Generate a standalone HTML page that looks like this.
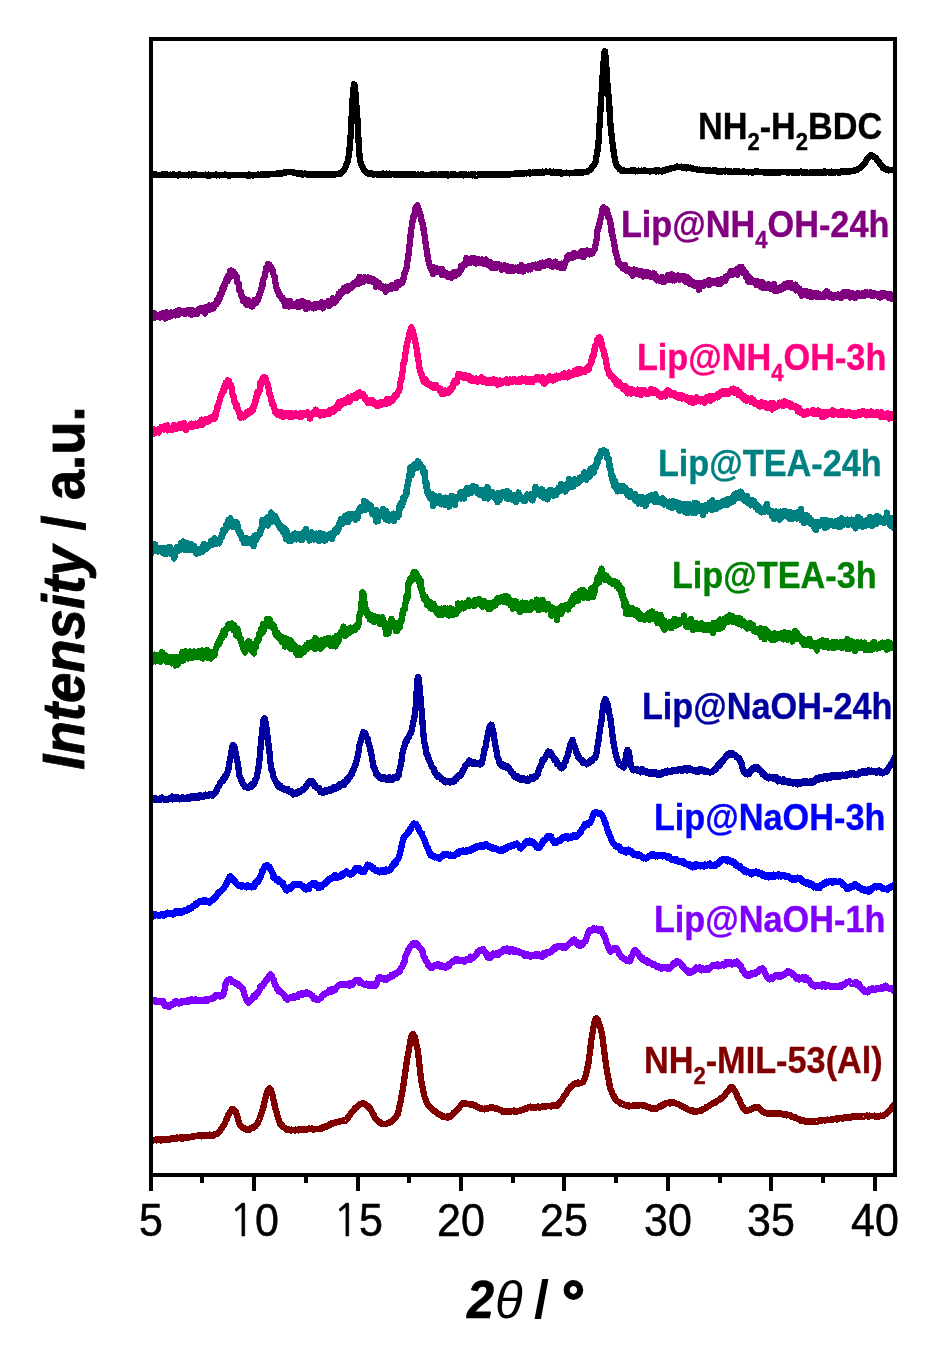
<!DOCTYPE html>
<html><head><meta charset="utf-8"><title>XRD patterns</title>
<style>html,body{margin:0;padding:0;background:#fff;} svg{display:block;}</style>
</head><body>
<svg width="946" height="1353" viewBox="0 0 946 1353">
<rect x="0" y="0" width="946" height="1353" fill="#fff"/>
<defs><clipPath id="pa"><rect x="151" y="39" width="744" height="1136"/></clipPath></defs>
<g clip-path="url(#pa)"><path d="M151.0,174.7 151.5,175.1 152.0,175.0 152.5,174.6 153.0,174.6 153.5,174.6 154.0,174.9 154.5,174.7 155.0,174.9 155.5,174.3 156.0,175.2 156.5,174.8 157.0,175.0 157.5,174.8 158.0,174.7 158.5,175.0 159.0,175.1 159.5,174.8 160.0,174.8 160.5,175.1 161.0,174.7 161.5,174.5 162.0,175.0 162.5,174.7 163.0,174.4 163.5,174.7 164.0,174.8 164.5,174.6 165.0,174.5 165.5,174.9 166.0,175.1 166.5,174.8 167.0,174.6 167.5,174.9 168.0,175.0 168.5,174.7 169.0,175.0 169.5,175.1 170.0,174.8 170.5,174.6 171.0,175.0 171.5,174.9 172.0,175.2 172.5,174.6 173.0,174.8 173.5,174.8 174.0,174.6 174.5,175.0 175.0,175.2 175.5,174.9 176.0,175.4 176.5,175.3 177.0,175.3 177.5,175.2 178.0,175.4 178.5,174.8 179.0,175.3 179.5,175.3 180.0,174.7 180.5,175.3 181.0,175.1 181.5,175.3 182.0,175.0 182.5,175.1 183.0,175.2 183.5,174.9 184.0,175.2 184.5,175.0 185.0,175.1 185.5,174.9 186.0,175.2 186.5,175.1 187.0,174.9 187.5,175.1 188.0,175.2 188.5,175.4 189.0,174.5 189.5,175.1 190.0,175.0 190.5,174.9 191.0,174.7 191.5,175.2 192.0,174.6 192.5,175.1 193.0,175.3 193.5,174.5 194.0,174.9 194.5,174.6 195.0,175.0 195.5,175.3 196.0,175.4 196.5,174.5 197.0,174.8 197.5,175.1 198.0,175.3 198.5,175.0 199.0,174.7 199.5,175.0 200.0,174.9 200.5,174.9 201.0,174.8 201.5,175.1 202.0,175.1 202.5,175.0 203.0,174.9 203.5,174.7 204.0,174.9 204.5,175.3 205.0,175.0 205.5,174.7 206.0,175.3 206.5,175.1 207.0,175.5 207.5,175.0 208.0,174.8 208.5,174.6 209.0,175.3 209.5,175.6 210.0,174.7 210.5,174.8 211.0,175.1 211.5,174.7 212.0,174.9 212.5,174.9 213.0,175.0 213.5,175.2 214.0,175.0 214.5,175.2 215.0,174.9 215.5,175.1 216.0,174.5 216.5,174.7 217.0,175.3 217.5,174.9 218.0,175.2 218.5,175.2 219.0,175.4 219.5,175.3 220.0,175.3 220.5,175.0 221.0,174.9 221.5,174.9 222.0,174.9 222.5,174.8 223.0,174.9 223.5,175.0 224.0,175.1 224.5,175.0 225.0,174.6 225.5,175.0 226.0,175.1 226.5,175.3 227.0,175.2 227.5,174.9 228.0,174.9 228.5,175.5 229.0,175.2 229.5,175.5 230.0,175.6 230.5,174.9 231.0,175.2 231.5,175.2 232.0,175.2 232.5,175.2 233.0,175.2 233.5,175.2 234.0,174.7 234.5,175.1 235.0,174.9 235.5,175.1 236.0,175.0 236.5,175.3 237.0,175.3 237.5,175.2 238.0,175.2 238.5,175.1 239.0,174.9 239.5,175.0 240.0,174.9 240.5,175.1 241.0,175.0 241.5,175.1 242.0,174.7 242.5,175.2 243.0,174.8 243.5,174.8 244.0,174.9 244.5,174.8 245.0,175.0 245.5,174.8 246.0,174.7 246.5,174.8 247.0,175.4 247.5,175.1 248.0,174.8 248.5,175.1 249.0,174.7 249.5,175.6 250.0,174.8 250.5,175.3 251.0,175.4 251.5,174.9 252.0,175.3 252.5,175.5 253.0,175.4 253.5,175.3 254.0,175.4 254.5,175.2 255.0,175.2 255.5,175.1 256.0,175.2 256.5,174.8 257.0,175.2 257.5,174.8 258.0,174.6 258.5,174.9 259.0,175.2 259.5,175.0 260.0,174.7 260.5,174.9 261.0,174.6 261.5,174.7 262.0,174.8 262.5,174.2 263.0,174.8 263.5,174.5 264.0,174.5 264.5,174.3 265.0,174.3 265.5,174.4 266.0,174.8 266.5,175.0 267.0,174.6 267.5,174.8 268.0,174.4 268.5,174.0 269.0,174.4 269.5,174.4 270.0,174.2 270.5,174.3 271.0,174.3 271.5,173.9 272.0,173.7 272.5,174.0 273.0,174.0 273.5,173.9 274.0,174.2 274.5,174.3 275.0,173.7 275.5,174.0 276.0,174.0 276.5,173.9 277.0,173.9 277.5,173.5 278.0,173.8 278.5,174.1 279.0,173.7 279.5,173.3 280.0,173.6 280.5,173.7 281.0,173.4 281.5,173.1 282.0,173.6 282.5,172.8 283.0,173.1 283.5,172.9 284.0,172.5 284.5,173.0 285.0,172.6 285.5,172.2 286.0,172.5 286.5,172.1 287.0,171.7 287.5,171.9 288.0,172.1 288.5,172.1 289.0,172.0 289.5,171.9 290.0,172.0 290.5,171.9 291.0,172.3 291.5,172.1 292.0,172.2 292.5,172.4 293.0,172.1 293.5,172.3 294.0,173.0 294.5,172.9 295.0,172.9 295.5,173.2 296.0,173.1 296.5,173.5 297.0,173.3 297.5,173.7 298.0,173.3 298.5,174.1 299.0,173.7 299.5,173.5 300.0,173.9 300.5,173.8 301.0,174.0 301.5,173.7 302.0,174.1 302.5,174.9 303.0,173.7 303.5,174.1 304.0,173.9 304.5,174.1 305.0,173.6 305.5,173.8 306.0,174.2 306.5,174.1 307.0,174.6 307.5,174.0 308.0,174.3 308.5,175.0 309.0,174.1 309.5,174.1 310.0,174.4 310.5,174.4 311.0,174.7 311.5,174.5 312.0,174.3 312.5,174.6 313.0,175.2 313.5,174.9 314.0,173.8 314.5,174.5 315.0,174.3 315.5,174.7 316.0,174.4 316.5,174.9 317.0,174.7 317.5,174.7 318.0,174.5 318.5,174.4 319.0,174.5 319.5,174.8 320.0,174.6 320.5,174.4 321.0,174.8 321.5,174.6 322.0,174.5 322.5,174.4 323.0,174.4 323.5,174.5 324.0,173.9 324.5,174.9 325.0,174.8 325.5,174.6 326.0,174.9 326.5,174.8 327.0,174.7 327.5,174.0 328.0,174.6 328.5,174.7 329.0,175.0 329.5,175.0 330.0,174.9 330.5,174.3 331.0,174.0 331.5,174.7 332.0,174.5 332.5,174.7 333.0,174.4 333.5,174.5 334.0,174.0 334.5,174.5 335.0,174.2 335.5,174.4 336.0,174.4 336.5,174.2 337.0,174.2 337.5,174.1 338.0,174.2 338.5,174.0 339.0,173.6 339.5,173.4 340.0,173.8 340.5,173.2 341.0,173.2 341.5,172.8 342.0,172.3 342.5,171.9 343.0,171.5 343.5,170.7 344.0,169.9 344.5,168.5 345.0,167.7 345.5,166.9 346.0,166.3 346.5,164.2 347.0,163.5 347.5,161.7 348.0,160.1 348.5,157.2 349.0,153.6 349.5,149.3 350.0,143.7 350.5,137.6 351.0,129.5 351.5,120.0 352.0,110.0 352.5,100.2 353.0,93.3 353.5,88.4 354.0,84.3 354.5,84.9 355.0,88.6 355.5,93.5 356.0,100.7 356.5,106.9 357.0,113.3 357.5,120.5 358.0,130.3 358.5,140.1 359.0,148.0 359.5,155.2 360.0,159.6 360.5,161.5 361.0,163.7 361.5,164.8 362.0,166.3 362.5,167.0 363.0,167.8 363.5,168.9 364.0,169.6 364.5,169.9 365.0,171.1 365.5,172.0 366.0,171.6 366.5,172.8 367.0,172.5 367.5,172.8 368.0,173.1 368.5,172.9 369.0,173.8 369.5,173.8 370.0,173.6 370.5,173.8 371.0,173.6 371.5,173.9 372.0,174.3 372.5,173.6 373.0,174.0 373.5,174.1 374.0,174.4 374.5,174.5 375.0,174.1 375.5,174.0 376.0,174.4 376.5,174.2 377.0,174.2 377.5,174.6 378.0,174.8 378.5,174.4 379.0,174.3 379.5,174.5 380.0,173.9 380.5,174.3 381.0,174.1 381.5,174.9 382.0,174.5 382.5,174.3 383.0,174.2 383.5,173.6 384.0,174.4 384.5,174.6 385.0,174.0 385.5,174.3 386.0,174.3 386.5,173.8 387.0,174.4 387.5,174.5 388.0,174.2 388.5,174.2 389.0,174.4 389.5,173.8 390.0,174.3 390.5,174.5 391.0,174.0 391.5,174.5 392.0,174.2 392.5,173.8 393.0,174.3 393.5,174.1 394.0,174.5 394.5,174.1 395.0,174.7 395.5,174.3 396.0,174.6 396.5,174.4 397.0,174.4 397.5,174.8 398.0,174.6 398.5,174.5 399.0,174.3 399.5,174.9 400.0,174.8 400.5,174.6 401.0,174.7 401.5,174.4 402.0,174.4 402.5,174.5 403.0,174.8 403.5,174.7 404.0,174.5 404.5,174.8 405.0,174.8 405.5,174.7 406.0,174.9 406.5,174.5 407.0,174.6 407.5,174.7 408.0,174.6 408.5,174.8 409.0,174.2 409.5,174.9 410.0,174.4 410.5,174.5 411.0,174.2 411.5,174.7 412.0,174.9 412.5,174.9 413.0,174.8 413.5,174.3 414.0,174.5 414.5,174.6 415.0,174.4 415.5,175.0 416.0,174.7 416.5,174.7 417.0,174.8 417.5,174.5 418.0,174.5 418.5,174.5 419.0,174.8 419.5,174.8 420.0,174.9 420.5,175.0 421.0,174.4 421.5,174.6 422.0,174.8 422.5,174.4 423.0,174.6 423.5,175.0 424.0,175.1 424.5,175.1 425.0,174.8 425.5,174.8 426.0,175.1 426.5,174.7 427.0,174.9 427.5,175.2 428.0,174.7 428.5,174.7 429.0,174.8 429.5,175.0 430.0,174.9 430.5,174.8 431.0,174.9 431.5,174.4 432.0,174.5 432.5,174.8 433.0,174.5 433.5,174.4 434.0,174.4 434.5,174.5 435.0,174.7 435.5,174.4 436.0,174.8 436.5,175.1 437.0,174.7 437.5,175.0 438.0,174.8 438.5,174.5 439.0,174.7 439.5,174.5 440.0,175.0 440.5,174.5 441.0,175.2 441.5,175.0 442.0,174.4 442.5,175.1 443.0,175.3 443.5,174.8 444.0,175.2 444.5,174.5 445.0,175.0 445.5,174.6 446.0,175.1 446.5,174.5 447.0,174.3 447.5,175.0 448.0,175.4 448.5,174.7 449.0,175.0 449.5,174.8 450.0,174.7 450.5,174.9 451.0,175.1 451.5,174.4 452.0,174.9 452.5,174.8 453.0,174.4 453.5,175.1 454.0,175.2 454.5,174.5 455.0,175.2 455.5,174.8 456.0,174.8 456.5,175.2 457.0,174.9 457.5,174.9 458.0,175.2 458.5,175.2 459.0,175.1 459.5,174.5 460.0,174.5 460.5,175.2 461.0,174.7 461.5,174.9 462.0,174.6 462.5,174.8 463.0,174.5 463.5,175.3 464.0,174.6 464.5,174.8 465.0,174.8 465.5,175.1 466.0,174.4 466.5,174.8 467.0,174.7 467.5,174.9 468.0,174.9 468.5,174.6 469.0,174.8 469.5,174.7 470.0,174.9 470.5,174.8 471.0,174.6 471.5,174.8 472.0,174.9 472.5,175.4 473.0,174.7 473.5,175.0 474.0,175.3 474.5,174.4 475.0,174.5 475.5,174.6 476.0,174.9 476.5,175.5 477.0,175.0 477.5,175.1 478.0,174.8 478.5,174.2 479.0,174.2 479.5,175.0 480.0,174.8 480.5,174.4 481.0,175.0 481.5,174.3 482.0,175.0 482.5,175.1 483.0,174.5 483.5,174.4 484.0,174.9 484.5,174.4 485.0,174.9 485.5,174.4 486.0,174.9 486.5,174.7 487.0,174.6 487.5,174.5 488.0,174.7 488.5,174.2 489.0,174.6 489.5,174.5 490.0,174.8 490.5,174.3 491.0,175.0 491.5,174.4 492.0,174.2 492.5,174.8 493.0,174.9 493.5,174.4 494.0,174.2 494.5,174.4 495.0,174.2 495.5,174.3 496.0,174.8 496.5,174.5 497.0,174.4 497.5,174.5 498.0,174.4 498.5,174.6 499.0,174.6 499.5,174.3 500.0,174.4 500.5,175.0 501.0,174.5 501.5,174.4 502.0,175.0 502.5,174.4 503.0,174.2 503.5,174.6 504.0,174.2 504.5,174.3 505.0,174.5 505.5,174.4 506.0,174.2 506.5,174.3 507.0,174.2 507.5,174.7 508.0,174.2 508.5,174.2 509.0,174.8 509.5,174.1 510.0,174.6 510.5,174.5 511.0,174.1 511.5,173.8 512.0,174.2 512.5,174.2 513.0,174.2 513.5,174.0 514.0,174.2 514.5,174.2 515.0,173.6 515.5,174.1 516.0,173.8 516.5,173.6 517.0,173.6 517.5,174.1 518.0,173.9 518.5,173.2 519.0,173.6 519.5,173.5 520.0,173.5 520.5,173.4 521.0,173.2 521.5,173.7 522.0,173.3 522.5,173.4 523.0,173.3 523.5,173.2 524.0,173.6 524.5,173.5 525.0,173.2 525.5,173.1 526.0,173.2 526.5,173.5 527.0,173.3 527.5,173.2 528.0,173.1 528.5,173.0 529.0,173.1 529.5,172.6 530.0,173.4 530.5,172.8 531.0,172.8 531.5,173.2 532.0,172.9 532.5,172.8 533.0,172.7 533.5,172.4 534.0,172.8 534.5,173.0 535.0,172.5 535.5,173.0 536.0,172.4 536.5,172.5 537.0,172.8 537.5,172.6 538.0,172.8 538.5,172.4 539.0,172.3 539.5,172.1 540.0,172.2 540.5,172.2 541.0,172.1 541.5,172.5 542.0,172.2 542.5,171.8 543.0,172.9 543.5,172.0 544.0,171.9 544.5,172.4 545.0,172.4 545.5,171.7 546.0,171.6 546.5,171.7 547.0,172.2 547.5,171.9 548.0,171.7 548.5,171.9 549.0,172.2 549.5,171.6 550.0,171.9 550.5,171.7 551.0,172.6 551.5,172.6 552.0,172.4 552.5,172.2 553.0,172.4 553.5,171.8 554.0,172.4 554.5,172.1 555.0,172.1 555.5,172.3 556.0,172.5 556.5,172.7 557.0,172.8 557.5,172.7 558.0,172.5 558.5,172.9 559.0,172.7 559.5,173.1 560.0,172.6 560.5,172.2 561.0,172.8 561.5,173.5 562.0,173.1 562.5,172.9 563.0,173.2 563.5,173.1 564.0,173.1 564.5,172.8 565.0,173.0 565.5,173.0 566.0,172.8 566.5,172.6 567.0,172.9 567.5,173.1 568.0,173.0 568.5,172.9 569.0,172.9 569.5,173.4 570.0,172.8 570.5,173.0 571.0,173.2 571.5,172.7 572.0,172.7 572.5,172.9 573.0,173.1 573.5,172.7 574.0,172.8 574.5,172.7 575.0,172.4 575.5,173.0 576.0,172.6 576.5,172.2 577.0,172.6 577.5,172.2 578.0,172.4 578.5,172.6 579.0,172.3 579.5,172.8 580.0,172.1 580.5,172.5 581.0,172.6 581.5,172.8 582.0,172.6 582.5,172.4 583.0,172.3 583.5,172.2 584.0,172.4 584.5,171.9 585.0,172.1 585.5,171.9 586.0,171.9 586.5,171.6 587.0,172.0 587.5,171.1 588.0,171.1 588.5,170.8 589.0,170.6 589.5,170.2 590.0,169.9 590.5,169.6 591.0,168.4 591.5,168.2 592.0,167.2 592.5,166.9 593.0,165.9 593.5,165.3 594.0,164.9 594.5,164.4 595.0,163.1 595.5,161.8 596.0,159.6 596.5,156.0 597.0,152.9 597.5,150.7 598.0,147.5 598.5,142.8 599.0,134.0 599.5,125.2 600.0,118.8 600.5,109.7 601.0,100.2 601.5,93.9 602.0,87.5 602.5,78.2 603.0,70.1 603.5,63.1 604.0,56.7 604.5,52.1 605.0,51.3 605.5,55.9 606.0,62.0 606.5,68.4 607.0,76.8 607.5,85.3 608.0,92.1 608.5,95.1 609.0,100.0 609.5,109.1 610.0,117.9 610.5,124.3 611.0,129.5 611.5,134.4 612.0,138.8 612.5,142.9 613.0,146.3 613.5,150.2 614.0,154.2 614.5,157.3 615.0,159.7 615.5,161.7 616.0,163.7 616.5,165.1 617.0,166.1 617.5,166.5 618.0,167.4 618.5,168.0 619.0,168.3 619.5,169.4 620.0,169.6 620.5,169.8 621.0,170.5 621.5,170.5 622.0,170.6 622.5,170.8 623.0,170.8 623.5,170.4 624.0,170.7 624.5,171.1 625.0,170.7 625.5,170.9 626.0,171.0 626.5,171.3 627.0,171.3 627.5,171.2 628.0,170.9 628.5,171.1 629.0,171.0 629.5,170.8 630.0,171.1 630.5,170.9 631.0,170.6 631.5,171.1 632.0,170.7 632.5,170.9 633.0,170.4 633.5,170.8 634.0,170.6 634.5,170.6 635.0,170.4 635.5,171.4 636.0,170.9 636.5,171.0 637.0,171.2 637.5,170.9 638.0,171.1 638.5,170.7 639.0,171.1 639.5,170.9 640.0,171.2 640.5,171.1 641.0,170.7 641.5,170.6 642.0,170.8 642.5,171.3 643.0,171.2 643.5,171.2 644.0,170.6 644.5,170.4 645.0,170.9 645.5,171.0 646.0,170.9 646.5,171.1 647.0,171.0 647.5,170.7 648.0,170.8 648.5,171.0 649.0,171.0 649.5,170.9 650.0,171.5 650.5,170.9 651.0,170.9 651.5,170.7 652.0,170.8 652.5,171.0 653.0,171.0 653.5,170.9 654.0,171.0 654.5,170.9 655.0,170.5 655.5,170.1 656.0,171.5 656.5,171.2 657.0,171.0 657.5,170.6 658.0,170.7 658.5,171.4 659.0,170.3 659.5,171.0 660.0,171.3 660.5,171.1 661.0,171.2 661.5,171.0 662.0,171.5 662.5,170.6 663.0,170.4 663.5,170.7 664.0,170.9 664.5,170.3 665.0,170.5 665.5,169.9 666.0,169.6 666.5,170.1 667.0,170.0 667.5,169.8 668.0,169.1 668.5,168.8 669.0,168.7 669.5,168.7 670.0,168.8 670.5,168.6 671.0,168.0 671.5,168.3 672.0,168.1 672.5,168.0 673.0,167.9 673.5,167.8 674.0,167.9 674.5,167.7 675.0,167.6 675.5,167.3 676.0,167.4 676.5,167.2 677.0,166.6 677.5,167.2 678.0,167.0 678.5,167.2 679.0,166.9 679.5,166.9 680.0,167.0 680.5,167.0 681.0,166.9 681.5,166.6 682.0,167.6 682.5,166.8 683.0,167.1 683.5,167.4 684.0,167.4 684.5,167.5 685.0,167.6 685.5,167.8 686.0,167.6 686.5,168.2 687.0,167.3 687.5,167.6 688.0,167.5 688.5,167.5 689.0,167.7 689.5,168.0 690.0,167.6 690.5,167.6 691.0,168.1 691.5,168.1 692.0,168.6 692.5,168.5 693.0,168.5 693.5,168.5 694.0,168.8 694.5,168.8 695.0,168.7 695.5,169.2 696.0,169.2 696.5,169.4 697.0,169.4 697.5,170.1 698.0,169.9 698.5,170.0 699.0,169.7 699.5,169.6 700.0,169.8 700.5,170.0 701.0,169.8 701.5,169.9 702.0,170.2 702.5,170.1 703.0,169.8 703.5,170.0 704.0,170.0 704.5,170.3 705.0,170.0 705.5,170.3 706.0,170.6 706.5,170.5 707.0,170.3 707.5,170.4 708.0,170.7 708.5,170.8 709.0,170.9 709.5,170.7 710.0,170.4 710.5,171.1 711.0,170.8 711.5,170.9 712.0,170.8 712.5,170.5 713.0,170.7 713.5,170.8 714.0,171.0 714.5,170.8 715.0,170.0 715.5,170.7 716.0,170.9 716.5,171.2 717.0,171.1 717.5,171.6 718.0,171.4 718.5,171.4 719.0,171.4 719.5,170.9 720.0,171.5 720.5,171.4 721.0,171.2 721.5,171.5 722.0,171.4 722.5,171.2 723.0,171.3 723.5,171.2 724.0,171.3 724.5,171.2 725.0,171.4 725.5,170.8 726.0,171.2 726.5,170.8 727.0,171.2 727.5,171.5 728.0,171.4 728.5,171.4 729.0,171.5 729.5,172.0 730.0,171.4 730.5,171.9 731.0,171.4 731.5,171.7 732.0,171.9 732.5,171.7 733.0,172.0 733.5,172.1 734.0,171.6 734.5,171.9 735.0,171.8 735.5,171.3 736.0,171.7 736.5,171.5 737.0,172.0 737.5,171.4 738.0,172.0 738.5,171.4 739.0,172.0 739.5,171.7 740.0,171.7 740.5,171.8 741.0,171.9 741.5,172.0 742.0,172.2 742.5,171.7 743.0,171.6 743.5,171.3 744.0,171.9 744.5,172.2 745.0,172.2 745.5,172.2 746.0,172.1 746.5,172.0 747.0,172.1 747.5,172.3 748.0,171.8 748.5,172.4 749.0,171.8 749.5,172.2 750.0,172.0 750.5,172.1 751.0,171.9 751.5,171.8 752.0,172.0 752.5,171.8 753.0,172.6 753.5,171.9 754.0,171.8 754.5,171.8 755.0,171.6 755.5,171.3 756.0,171.8 756.5,171.9 757.0,171.5 757.5,171.8 758.0,171.5 758.5,171.9 759.0,172.0 759.5,172.0 760.0,172.0 760.5,171.8 761.0,172.2 761.5,171.9 762.0,172.2 762.5,172.3 763.0,172.1 763.5,171.9 764.0,172.4 764.5,172.0 765.0,172.1 765.5,172.0 766.0,172.6 766.5,172.3 767.0,171.8 767.5,172.6 768.0,173.0 768.5,172.9 769.0,172.3 769.5,172.5 770.0,172.6 770.5,172.8 771.0,172.6 771.5,172.3 772.0,172.8 772.5,172.7 773.0,172.2 773.5,172.5 774.0,172.6 774.5,172.5 775.0,172.6 775.5,172.7 776.0,172.6 776.5,172.4 777.0,172.0 777.5,172.5 778.0,172.7 778.5,172.8 779.0,172.2 779.5,172.2 780.0,172.5 780.5,172.5 781.0,172.2 781.5,172.3 782.0,172.0 782.5,172.3 783.0,172.0 783.5,172.2 784.0,172.2 784.5,172.1 785.0,171.8 785.5,172.1 786.0,172.4 786.5,172.3 787.0,172.3 787.5,172.5 788.0,172.6 788.5,172.6 789.0,172.2 789.5,172.4 790.0,172.3 790.5,172.1 791.0,172.0 791.5,172.3 792.0,172.1 792.5,172.8 793.0,172.3 793.5,172.2 794.0,172.2 794.5,172.8 795.0,172.1 795.5,172.3 796.0,172.1 796.5,172.3 797.0,172.3 797.5,172.6 798.0,172.0 798.5,172.3 799.0,172.7 799.5,172.2 800.0,172.3 800.5,172.1 801.0,171.7 801.5,172.3 802.0,172.6 802.5,172.2 803.0,171.9 803.5,172.4 804.0,172.4 804.5,172.6 805.0,172.6 805.5,172.3 806.0,172.5 806.5,172.0 807.0,172.8 807.5,172.6 808.0,172.9 808.5,172.9 809.0,172.6 809.5,172.6 810.0,172.5 810.5,172.2 811.0,172.7 811.5,172.8 812.0,172.4 812.5,172.9 813.0,172.7 813.5,172.8 814.0,172.4 814.5,172.1 815.0,172.7 815.5,172.7 816.0,172.4 816.5,172.3 817.0,172.3 817.5,172.4 818.0,172.2 818.5,171.9 819.0,172.5 819.5,172.0 820.0,172.2 820.5,172.2 821.0,172.4 821.5,171.9 822.0,172.6 822.5,172.5 823.0,172.5 823.5,172.6 824.0,172.1 824.5,171.5 825.0,172.3 825.5,172.6 826.0,172.5 826.5,172.1 827.0,172.2 827.5,172.3 828.0,171.7 828.5,172.0 829.0,172.0 829.5,172.6 830.0,172.0 830.5,172.6 831.0,172.2 831.5,171.8 832.0,172.7 832.5,171.9 833.0,172.3 833.5,172.6 834.0,172.1 834.5,171.9 835.0,172.5 835.5,172.2 836.0,171.9 836.5,171.9 837.0,172.1 837.5,172.4 838.0,172.1 838.5,172.3 839.0,172.6 839.5,172.5 840.0,172.5 840.5,172.4 841.0,171.7 841.5,172.3 842.0,172.1 842.5,171.9 843.0,171.6 843.5,171.4 844.0,171.5 844.5,171.7 845.0,171.3 845.5,171.4 846.0,171.4 846.5,171.7 847.0,171.4 847.5,171.4 848.0,171.7 848.5,171.3 849.0,171.5 849.5,171.1 850.0,171.4 850.5,171.3 851.0,171.3 851.5,171.1 852.0,170.9 852.5,171.0 853.0,170.9 853.5,171.2 854.0,171.0 854.5,170.4 855.0,170.7 855.5,170.3 856.0,170.4 856.5,170.0 857.0,169.6 857.5,170.0 858.0,169.6 858.5,168.9 859.0,168.4 859.5,168.3 860.0,167.7 860.5,167.5 861.0,167.3 861.5,167.0 862.0,166.0 862.5,165.9 863.0,165.3 863.5,164.3 864.0,163.5 864.5,163.5 865.0,162.7 865.5,162.3 866.0,161.2 866.5,160.2 867.0,159.6 867.5,158.3 868.0,158.1 868.5,157.5 869.0,157.6 869.5,156.9 870.0,155.6 870.5,156.4 871.0,155.6 871.5,155.8 872.0,155.5 872.5,155.7 873.0,156.0 873.5,156.2 874.0,156.3 874.5,157.3 875.0,157.5 875.5,157.8 876.0,158.4 876.5,158.6 877.0,159.8 877.5,160.1 878.0,160.8 878.5,161.6 879.0,162.1 879.5,162.8 880.0,163.8 880.5,164.5 881.0,165.4 881.5,165.7 882.0,165.9 882.5,166.9 883.0,167.6 883.5,168.1 884.0,168.4 884.5,168.4 885.0,169.2 885.5,168.9 886.0,169.4 886.5,169.0 887.0,169.8 887.5,169.5 888.0,170.1 888.5,170.4 889.0,170.3 889.5,169.8 890.0,169.8 890.5,169.9 891.0,170.3 891.5,170.2 892.0,170.2 892.5,170.2 893.0,170.3 893.5,170.3 894.0,170.6 894.5,170.2 895.0,170.2" fill="none" stroke="#000000" stroke-width="6.3" stroke-linejoin="round" stroke-linecap="butt" shape-rendering="crispEdges"/>
<path d="M151.0,318.0 151.5,316.6 152.0,316.9 152.5,317.1 153.0,315.6 153.5,317.8 154.0,312.8 154.5,314.2 155.0,317.6 155.5,316.2 156.0,314.7 156.5,316.2 157.0,317.2 157.5,315.0 158.0,316.9 158.5,315.7 159.0,315.8 159.5,315.9 160.0,317.5 160.5,314.4 161.0,315.4 161.5,316.7 162.0,313.9 162.5,313.3 163.0,316.1 163.5,315.2 164.0,314.8 164.5,315.0 165.0,313.3 165.5,318.6 166.0,313.0 166.5,313.7 167.0,312.2 167.5,313.6 168.0,316.3 168.5,314.2 169.0,315.0 169.5,313.5 170.0,316.8 170.5,314.5 171.0,312.6 171.5,315.4 172.0,313.9 172.5,315.3 173.0,314.6 173.5,314.8 174.0,314.6 174.5,313.1 175.0,312.2 175.5,315.5 176.0,313.9 176.5,314.3 177.0,313.0 177.5,310.6 178.0,311.5 178.5,315.0 179.0,311.7 179.5,312.0 180.0,310.3 180.5,311.4 181.0,311.5 181.5,311.5 182.0,311.7 182.5,310.8 183.0,310.8 183.5,311.6 184.0,312.1 184.5,311.4 185.0,314.1 185.5,312.0 186.0,312.0 186.5,310.9 187.0,313.3 187.5,310.6 188.0,309.8 188.5,310.8 189.0,313.1 189.5,310.7 190.0,314.1 190.5,312.3 191.0,310.2 191.5,312.0 192.0,314.8 192.5,311.1 193.0,310.3 193.5,312.8 194.0,313.8 194.5,313.2 195.0,311.2 195.5,311.7 196.0,311.7 196.5,312.7 197.0,313.9 197.5,310.5 198.0,312.2 198.5,309.7 199.0,310.8 199.5,308.5 200.0,308.5 200.5,310.0 201.0,308.1 201.5,310.5 202.0,308.4 202.5,309.3 203.0,309.0 203.5,308.7 204.0,309.3 204.5,310.7 205.0,313.5 205.5,307.5 206.0,309.6 206.5,308.8 207.0,307.7 207.5,309.3 208.0,307.6 208.5,308.6 209.0,310.3 209.5,305.5 210.0,308.5 210.5,308.6 211.0,306.5 211.5,308.3 212.0,307.9 212.5,306.7 213.0,308.7 213.5,305.0 214.0,307.4 214.5,305.7 215.0,303.9 215.5,304.5 216.0,303.5 216.5,304.3 217.0,300.1 217.5,301.0 218.0,299.7 218.5,301.6 219.0,296.9 219.5,298.9 220.0,294.0 220.5,296.0 221.0,294.2 221.5,293.7 222.0,290.9 222.5,287.7 223.0,286.9 223.5,289.5 224.0,286.6 224.5,283.8 225.0,285.0 225.5,281.5 226.0,280.5 226.5,278.9 227.0,281.3 227.5,281.4 228.0,276.4 228.5,277.2 229.0,277.3 229.5,278.1 230.0,271.0 230.5,273.9 231.0,274.0 231.5,270.5 232.0,272.7 232.5,272.2 233.0,273.0 233.5,271.6 234.0,273.6 234.5,273.0 235.0,275.7 235.5,276.1 236.0,276.6 236.5,276.3 237.0,281.8 237.5,282.3 238.0,283.6 238.5,283.3 239.0,285.7 239.5,290.6 240.0,291.3 240.5,291.1 241.0,294.2 241.5,296.0 242.0,296.9 242.5,296.8 243.0,300.7 243.5,300.5 244.0,300.1 244.5,298.8 245.0,300.9 245.5,302.2 246.0,303.9 246.5,302.6 247.0,305.1 247.5,304.0 248.0,302.9 248.5,300.2 249.0,302.5 249.5,302.1 250.0,303.9 250.5,304.5 251.0,305.9 251.5,303.7 252.0,301.9 252.5,306.6 253.0,303.4 253.5,302.3 254.0,302.0 254.5,300.1 255.0,302.5 255.5,301.6 256.0,302.9 256.5,301.7 257.0,300.8 257.5,300.8 258.0,298.1 258.5,297.2 259.0,296.9 259.5,294.0 260.0,293.9 260.5,291.9 261.0,291.4 261.5,288.5 262.0,283.8 262.5,284.6 263.0,284.8 263.5,278.5 264.0,278.1 264.5,277.1 265.0,273.2 265.5,272.2 266.0,271.1 266.5,267.4 267.0,268.1 267.5,267.0 268.0,263.7 268.5,264.9 269.0,266.3 269.5,264.8 270.0,266.3 270.5,267.4 271.0,267.1 271.5,269.9 272.0,270.3 272.5,269.5 273.0,272.7 273.5,274.5 274.0,276.2 274.5,276.1 275.0,279.9 275.5,283.5 276.0,284.2 276.5,287.8 277.0,290.1 277.5,290.0 278.0,292.4 278.5,292.1 279.0,295.0 279.5,294.3 280.0,294.6 280.5,296.2 281.0,297.0 281.5,298.4 282.0,299.3 282.5,297.8 283.0,299.2 283.5,301.2 284.0,301.9 284.5,301.9 285.0,305.9 285.5,304.1 286.0,302.8 286.5,304.1 287.0,305.1 287.5,303.9 288.0,301.0 288.5,303.6 289.0,303.6 289.5,306.6 290.0,301.1 290.5,305.9 291.0,303.6 291.5,305.2 292.0,303.6 292.5,304.4 293.0,305.9 293.5,304.5 294.0,306.0 294.5,304.5 295.0,304.1 295.5,304.5 296.0,304.1 296.5,304.6 297.0,306.7 297.5,303.1 298.0,302.4 298.5,304.6 299.0,307.0 299.5,306.0 300.0,306.4 300.5,306.3 301.0,303.5 301.5,304.7 302.0,300.9 302.5,303.9 303.0,305.7 303.5,302.8 304.0,302.2 304.5,303.4 305.0,305.7 305.5,307.2 306.0,309.3 306.5,307.8 307.0,303.8 307.5,302.8 308.0,306.3 308.5,307.7 309.0,304.0 309.5,305.6 310.0,305.7 310.5,306.3 311.0,306.0 311.5,306.9 312.0,307.6 312.5,306.1 313.0,306.9 313.5,308.5 314.0,304.2 314.5,304.0 315.0,306.1 315.5,307.9 316.0,305.4 316.5,306.7 317.0,304.6 317.5,306.3 318.0,304.1 318.5,305.9 319.0,305.5 319.5,305.5 320.0,306.9 320.5,306.4 321.0,304.0 321.5,306.0 322.0,302.3 322.5,306.0 323.0,308.4 323.5,305.2 324.0,305.0 324.5,304.3 325.0,305.2 325.5,303.3 326.0,304.8 326.5,303.4 327.0,303.1 327.5,303.8 328.0,303.5 328.5,301.0 329.0,306.3 329.5,303.5 330.0,300.8 330.5,304.6 331.0,302.9 331.5,303.1 332.0,303.7 332.5,301.2 333.0,298.2 333.5,302.0 334.0,302.2 334.5,303.1 335.0,300.4 335.5,300.7 336.0,301.1 336.5,299.3 337.0,298.5 337.5,298.2 338.0,295.4 338.5,298.0 339.0,293.5 339.5,294.0 340.0,292.8 340.5,291.7 341.0,293.0 341.5,293.3 342.0,293.5 342.5,291.9 343.0,290.2 343.5,291.7 344.0,288.2 344.5,290.0 345.0,290.4 345.5,290.2 346.0,287.6 346.5,286.9 347.0,291.0 347.5,287.8 348.0,285.9 348.5,286.3 349.0,287.7 349.5,289.1 350.0,287.2 350.5,288.5 351.0,286.8 351.5,286.8 352.0,287.2 352.5,284.9 353.0,285.4 353.5,284.1 354.0,283.3 354.5,284.7 355.0,282.3 355.5,283.2 356.0,281.6 356.5,282.3 357.0,281.4 357.5,283.5 358.0,281.8 358.5,281.6 359.0,283.7 359.5,277.1 360.0,279.4 360.5,277.0 361.0,280.6 361.5,281.0 362.0,281.0 362.5,280.3 363.0,278.4 363.5,281.9 364.0,279.6 364.5,278.6 365.0,277.3 365.5,279.3 366.0,277.9 366.5,278.0 367.0,278.9 367.5,279.0 368.0,277.6 368.5,280.7 369.0,277.7 369.5,277.8 370.0,280.0 370.5,280.0 371.0,280.2 371.5,279.8 372.0,280.7 372.5,280.1 373.0,278.8 373.5,282.4 374.0,280.3 374.5,281.6 375.0,283.3 375.5,282.6 376.0,286.7 376.5,281.2 377.0,282.4 377.5,283.8 378.0,285.9 378.5,284.1 379.0,282.8 379.5,286.8 380.0,284.3 380.5,285.7 381.0,287.6 381.5,285.8 382.0,286.5 382.5,288.2 383.0,287.6 383.5,288.6 384.0,287.1 384.5,288.5 385.0,287.3 385.5,286.8 386.0,291.6 386.5,289.8 387.0,290.5 387.5,287.8 388.0,289.0 388.5,288.6 389.0,286.7 389.5,289.3 390.0,287.3 390.5,287.7 391.0,285.6 391.5,288.9 392.0,288.4 392.5,287.6 393.0,285.6 393.5,285.9 394.0,288.2 394.5,285.9 395.0,286.4 395.5,286.1 396.0,284.2 396.5,287.7 397.0,282.5 397.5,285.4 398.0,284.7 398.5,282.3 399.0,284.7 399.5,284.6 400.0,283.5 400.5,281.8 401.0,283.1 401.5,283.4 402.0,281.3 402.5,282.4 403.0,280.0 403.5,278.4 404.0,277.7 404.5,273.1 405.0,271.4 405.5,270.9 406.0,268.7 406.5,267.8 407.0,265.0 407.5,261.1 408.0,258.6 408.5,254.6 409.0,250.4 409.5,245.6 410.0,242.5 410.5,235.8 411.0,231.4 411.5,228.2 412.0,224.3 412.5,222.3 413.0,217.3 413.5,218.5 414.0,215.4 414.5,214.1 415.0,212.6 415.5,207.9 416.0,212.7 416.5,208.6 417.0,208.1 417.5,205.3 418.0,209.0 418.5,209.5 419.0,209.5 419.5,211.8 420.0,214.9 420.5,214.5 421.0,215.7 421.5,221.0 422.0,221.6 422.5,223.2 423.0,228.8 423.5,228.2 424.0,230.9 424.5,235.1 425.0,238.0 425.5,242.7 426.0,246.5 426.5,248.8 427.0,252.3 427.5,255.6 428.0,258.2 428.5,260.9 429.0,263.5 429.5,264.7 430.0,266.9 430.5,267.0 431.0,268.1 431.5,270.4 432.0,266.6 432.5,270.1 433.0,274.2 433.5,267.3 434.0,272.1 434.5,267.6 435.0,270.6 435.5,272.4 436.0,272.3 436.5,269.0 437.0,268.6 437.5,268.5 438.0,271.7 438.5,270.4 439.0,271.2 439.5,271.7 440.0,272.2 440.5,272.6 441.0,272.3 441.5,270.1 442.0,274.7 442.5,269.1 443.0,274.9 443.5,272.6 444.0,273.4 444.5,273.2 445.0,273.7 445.5,274.4 446.0,274.2 446.5,273.3 447.0,276.2 447.5,274.4 448.0,277.2 448.5,275.3 449.0,274.6 449.5,276.3 450.0,277.0 450.5,274.5 451.0,275.4 451.5,277.8 452.0,274.3 452.5,274.5 453.0,275.8 453.5,273.8 454.0,272.0 454.5,273.0 455.0,275.8 455.5,275.9 456.0,275.5 456.5,274.8 457.0,272.1 457.5,274.2 458.0,274.3 458.5,271.1 459.0,272.7 459.5,270.2 460.0,270.2 460.5,269.7 461.0,266.3 461.5,269.7 462.0,265.6 462.5,265.9 463.0,264.6 463.5,265.3 464.0,264.7 464.5,263.7 465.0,265.2 465.5,263.2 466.0,261.8 466.5,258.0 467.0,261.3 467.5,261.0 468.0,259.9 468.5,259.7 469.0,261.5 469.5,261.9 470.0,262.9 470.5,261.7 471.0,259.0 471.5,260.2 472.0,257.8 472.5,260.6 473.0,260.0 473.5,258.6 474.0,259.3 474.5,259.0 475.0,258.5 475.5,261.2 476.0,263.7 476.5,260.6 477.0,261.0 477.5,259.9 478.0,259.3 478.5,263.1 479.0,259.6 479.5,260.9 480.0,260.4 480.5,261.5 481.0,260.8 481.5,261.9 482.0,259.5 482.5,261.3 483.0,263.5 483.5,260.3 484.0,261.0 484.5,264.0 485.0,262.9 485.5,264.0 486.0,259.5 486.5,263.1 487.0,261.3 487.5,261.3 488.0,264.0 488.5,265.3 489.0,261.7 489.5,262.5 490.0,263.4 490.5,264.2 491.0,262.6 491.5,267.8 492.0,265.5 492.5,264.3 493.0,264.2 493.5,268.2 494.0,268.2 494.5,264.4 495.0,265.7 495.5,267.0 496.0,263.7 496.5,264.7 497.0,267.6 497.5,264.8 498.0,265.4 498.5,264.3 499.0,265.3 499.5,267.5 500.0,265.6 500.5,265.0 501.0,266.2 501.5,269.7 502.0,267.6 502.5,266.6 503.0,267.8 503.5,268.3 504.0,267.9 504.5,265.3 505.0,268.4 505.5,267.8 506.0,269.4 506.5,266.5 507.0,270.0 507.5,268.0 508.0,266.4 508.5,270.9 509.0,268.4 509.5,269.8 510.0,269.2 510.5,271.1 511.0,271.2 511.5,271.3 512.0,270.8 512.5,267.5 513.0,267.5 513.5,270.1 514.0,268.5 514.5,270.4 515.0,269.9 515.5,267.6 516.0,268.1 516.5,267.8 517.0,268.0 517.5,268.8 518.0,269.9 518.5,270.7 519.0,267.3 519.5,267.8 520.0,270.7 520.5,269.7 521.0,268.8 521.5,265.1 522.0,267.1 522.5,268.8 523.0,267.8 523.5,271.5 524.0,268.9 524.5,269.2 525.0,267.3 525.5,267.4 526.0,267.9 526.5,267.9 527.0,268.3 527.5,269.0 528.0,268.6 528.5,269.5 529.0,266.0 529.5,267.9 530.0,267.8 530.5,269.5 531.0,266.7 531.5,267.4 532.0,265.6 532.5,267.3 533.0,267.2 533.5,265.7 534.0,265.9 534.5,266.4 535.0,267.1 535.5,264.6 536.0,267.3 536.5,265.4 537.0,268.3 537.5,267.5 538.0,264.6 538.5,264.0 539.0,268.1 539.5,265.3 540.0,265.0 540.5,263.4 541.0,263.7 541.5,265.0 542.0,264.7 542.5,262.6 543.0,265.6 543.5,264.3 544.0,262.7 544.5,265.5 545.0,264.0 545.5,265.4 546.0,263.6 546.5,265.0 547.0,262.2 547.5,265.0 548.0,262.4 548.5,264.7 549.0,260.9 549.5,264.4 550.0,265.5 550.5,265.2 551.0,266.2 551.5,263.0 552.0,266.8 552.5,266.9 553.0,263.0 553.5,263.6 554.0,264.0 554.5,264.9 555.0,265.3 555.5,261.6 556.0,266.0 556.5,264.9 557.0,263.9 557.5,266.7 558.0,265.0 558.5,267.1 559.0,266.4 559.5,265.2 560.0,267.4 560.5,266.9 561.0,265.1 561.5,263.6 562.0,265.1 562.5,266.8 563.0,265.5 563.5,268.3 564.0,265.8 564.5,265.1 565.0,264.5 565.5,261.7 566.0,261.7 566.5,259.9 567.0,256.4 567.5,256.3 568.0,259.1 568.5,256.9 569.0,257.1 569.5,254.9 570.0,255.9 570.5,257.6 571.0,256.5 571.5,255.4 572.0,258.2 572.5,255.8 573.0,255.2 573.5,257.2 574.0,253.0 574.5,256.1 575.0,253.6 575.5,253.9 576.0,253.9 576.5,254.8 577.0,254.6 577.5,254.6 578.0,254.3 578.5,255.8 579.0,256.0 579.5,254.5 580.0,254.4 580.5,252.7 581.0,251.6 581.5,254.0 582.0,253.2 582.5,254.4 583.0,250.7 583.5,257.1 584.0,251.6 584.5,253.5 585.0,254.9 585.5,251.6 586.0,252.7 586.5,250.6 587.0,251.4 587.5,250.5 588.0,253.3 588.5,253.4 589.0,252.3 589.5,254.4 590.0,254.4 590.5,252.2 591.0,251.8 591.5,251.6 592.0,251.2 592.5,253.6 593.0,252.0 593.5,251.1 594.0,250.5 594.5,250.1 595.0,246.7 595.5,245.1 596.0,241.6 596.5,240.4 597.0,236.9 597.5,230.2 598.0,229.0 598.5,227.7 599.0,224.1 599.5,223.9 600.0,221.2 600.5,219.5 601.0,216.5 601.5,215.0 602.0,213.4 602.5,209.0 603.0,208.3 603.5,207.1 604.0,210.3 604.5,208.2 605.0,208.5 605.5,208.7 606.0,208.6 606.5,209.3 607.0,212.8 607.5,212.4 608.0,216.7 608.5,216.4 609.0,218.0 609.5,219.3 610.0,221.2 610.5,223.4 611.0,227.9 611.5,231.9 612.0,230.0 612.5,235.2 613.0,239.0 613.5,239.9 614.0,243.3 614.5,246.3 615.0,245.9 615.5,252.2 616.0,253.0 616.5,254.7 617.0,256.7 617.5,258.7 618.0,263.2 618.5,261.7 619.0,264.0 619.5,263.3 620.0,265.5 620.5,265.4 621.0,266.1 621.5,265.4 622.0,265.9 622.5,268.0 623.0,268.6 623.5,268.5 624.0,267.1 624.5,268.6 625.0,264.8 625.5,269.9 626.0,268.7 626.5,269.3 627.0,270.8 627.5,268.7 628.0,270.9 628.5,269.2 629.0,270.8 629.5,269.7 630.0,270.9 630.5,272.8 631.0,270.1 631.5,270.3 632.0,271.0 632.5,272.1 633.0,275.7 633.5,271.3 634.0,269.4 634.5,271.5 635.0,270.4 635.5,271.9 636.0,272.9 636.5,271.6 637.0,272.1 637.5,270.5 638.0,273.4 638.5,272.2 639.0,274.8 639.5,274.8 640.0,272.2 640.5,272.9 641.0,273.6 641.5,274.7 642.0,271.3 642.5,273.6 643.0,276.4 643.5,273.8 644.0,274.3 644.5,274.1 645.0,272.5 645.5,275.7 646.0,274.8 646.5,274.8 647.0,275.7 647.5,275.9 648.0,272.2 648.5,275.7 649.0,274.3 649.5,275.5 650.0,274.4 650.5,274.3 651.0,277.0 651.5,275.7 652.0,275.5 652.5,275.6 653.0,276.3 653.5,276.3 654.0,273.2 654.5,275.5 655.0,276.6 655.5,278.1 656.0,279.2 656.5,276.2 657.0,280.4 657.5,278.1 658.0,278.8 658.5,277.6 659.0,277.7 659.5,280.7 660.0,278.5 660.5,278.8 661.0,280.6 661.5,281.4 662.0,276.9 662.5,278.6 663.0,278.8 663.5,281.3 664.0,282.2 664.5,278.6 665.0,279.1 665.5,279.8 666.0,280.2 666.5,278.1 667.0,279.8 667.5,277.7 668.0,275.0 668.5,276.9 669.0,279.2 669.5,280.1 670.0,275.9 670.5,276.5 671.0,279.0 671.5,274.3 672.0,279.8 672.5,280.3 673.0,274.6 673.5,279.7 674.0,278.3 674.5,280.4 675.0,278.6 675.5,277.8 676.0,278.1 676.5,279.1 677.0,278.0 677.5,277.6 678.0,275.4 678.5,278.0 679.0,277.3 679.5,279.8 680.0,277.2 680.5,277.1 681.0,276.3 681.5,278.2 682.0,277.0 682.5,276.3 683.0,279.6 683.5,280.0 684.0,276.9 684.5,276.2 685.0,279.4 685.5,276.8 686.0,282.2 686.5,278.3 687.0,280.1 687.5,277.2 688.0,279.3 688.5,281.2 689.0,280.7 689.5,279.7 690.0,284.2 690.5,282.2 691.0,281.2 691.5,281.1 692.0,282.0 692.5,284.7 693.0,282.0 693.5,283.5 694.0,282.6 694.5,285.8 695.0,283.9 695.5,285.5 696.0,285.2 696.5,283.7 697.0,285.6 697.5,286.0 698.0,283.1 698.5,285.8 699.0,289.8 699.5,284.4 700.0,285.7 700.5,282.9 701.0,285.4 701.5,283.9 702.0,285.7 702.5,284.4 703.0,282.7 703.5,285.8 704.0,283.8 704.5,282.5 705.0,283.9 705.5,282.3 706.0,284.1 706.5,283.3 707.0,282.8 707.5,284.1 708.0,281.3 708.5,284.4 709.0,280.0 709.5,285.0 710.0,282.9 710.5,282.1 711.0,281.3 711.5,283.0 712.0,281.8 712.5,281.6 713.0,283.1 713.5,280.9 714.0,281.0 714.5,281.9 715.0,282.7 715.5,280.9 716.0,281.4 716.5,281.3 717.0,282.4 717.5,283.6 718.0,280.3 718.5,281.5 719.0,281.7 719.5,282.6 720.0,283.9 720.5,281.7 721.0,281.9 721.5,283.0 722.0,279.3 722.5,279.7 723.0,279.7 723.5,279.9 724.0,279.8 724.5,278.2 725.0,280.9 725.5,276.9 726.0,277.1 726.5,278.4 727.0,277.4 727.5,275.8 728.0,275.8 728.5,276.0 729.0,274.4 729.5,275.0 730.0,272.5 730.5,273.6 731.0,271.0 731.5,271.9 732.0,271.5 732.5,274.8 733.0,272.2 733.5,273.2 734.0,271.4 734.5,272.3 735.0,272.0 735.5,271.0 736.0,273.2 736.5,269.3 737.0,272.3 737.5,274.8 738.0,269.5 738.5,270.4 739.0,267.8 739.5,269.6 740.0,267.0 740.5,270.2 741.0,268.6 741.5,266.9 742.0,268.0 742.5,268.1 743.0,270.6 743.5,273.0 744.0,272.0 744.5,271.8 745.0,273.1 745.5,275.4 746.0,272.6 746.5,277.8 747.0,278.3 747.5,275.0 748.0,280.8 748.5,277.4 749.0,279.9 749.5,282.3 750.0,278.5 750.5,278.4 751.0,279.6 751.5,279.9 752.0,281.4 752.5,281.0 753.0,281.2 753.5,281.4 754.0,282.0 754.5,281.1 755.0,282.9 755.5,282.5 756.0,281.1 756.5,285.2 757.0,280.8 757.5,283.7 758.0,281.5 758.5,283.1 759.0,283.4 759.5,283.9 760.0,284.8 760.5,281.7 761.0,287.2 761.5,284.0 762.0,282.5 762.5,282.1 763.0,287.8 763.5,287.2 764.0,285.2 764.5,286.7 765.0,287.8 765.5,286.3 766.0,285.8 766.5,286.5 767.0,287.8 767.5,286.7 768.0,284.9 768.5,287.8 769.0,284.2 769.5,285.6 770.0,288.5 770.5,287.1 771.0,287.2 771.5,287.2 772.0,288.7 772.5,287.4 773.0,285.0 773.5,288.4 774.0,283.9 774.5,285.7 775.0,291.1 775.5,290.6 776.0,288.6 776.5,289.3 777.0,289.6 777.5,291.0 778.0,288.4 778.5,288.2 779.0,288.4 779.5,289.3 780.0,289.3 780.5,288.1 781.0,289.5 781.5,286.6 782.0,287.6 782.5,286.4 783.0,285.5 783.5,288.4 784.0,285.8 784.5,284.5 785.0,285.7 785.5,283.9 786.0,285.9 786.5,286.1 787.0,286.2 787.5,283.1 788.0,284.3 788.5,287.1 789.0,284.2 789.5,286.3 790.0,286.8 790.5,282.8 791.0,286.6 791.5,286.2 792.0,286.6 792.5,288.0 793.0,286.5 793.5,286.2 794.0,287.3 794.5,286.3 795.0,287.8 795.5,284.6 796.0,290.4 796.5,287.6 797.0,289.6 797.5,289.7 798.0,289.8 798.5,290.3 799.0,290.7 799.5,288.6 800.0,290.6 800.5,293.4 801.0,290.6 801.5,290.8 802.0,295.6 802.5,294.5 803.0,295.1 803.5,293.0 804.0,293.5 804.5,294.2 805.0,294.0 805.5,293.1 806.0,291.2 806.5,292.3 807.0,291.3 807.5,295.8 808.0,293.2 808.5,293.6 809.0,294.4 809.5,294.2 810.0,295.1 810.5,293.5 811.0,292.3 811.5,297.1 812.0,293.6 812.5,293.9 813.0,293.5 813.5,293.8 814.0,294.6 814.5,295.7 815.0,293.1 815.5,295.1 816.0,293.8 816.5,296.6 817.0,293.3 817.5,295.3 818.0,296.4 818.5,293.6 819.0,295.8 819.5,296.0 820.0,294.7 820.5,295.6 821.0,297.2 821.5,296.1 822.0,295.0 822.5,295.1 823.0,295.8 823.5,296.8 824.0,295.9 824.5,295.6 825.0,296.7 825.5,292.2 826.0,292.3 826.5,291.2 827.0,295.8 827.5,291.5 828.0,295.0 828.5,296.3 829.0,293.6 829.5,294.9 830.0,295.7 830.5,297.3 831.0,294.2 831.5,296.9 832.0,297.4 832.5,296.6 833.0,296.5 833.5,297.9 834.0,296.4 834.5,295.9 835.0,295.3 835.5,296.6 836.0,295.2 836.5,296.4 837.0,295.6 837.5,297.1 838.0,294.4 838.5,295.6 839.0,296.0 839.5,296.1 840.0,297.1 840.5,296.0 841.0,296.6 841.5,298.0 842.0,296.2 842.5,293.4 843.0,292.6 843.5,295.4 844.0,293.7 844.5,294.4 845.0,293.6 845.5,295.6 846.0,295.3 846.5,292.0 847.0,294.0 847.5,293.2 848.0,291.8 848.5,294.7 849.0,293.7 849.5,294.6 850.0,297.6 850.5,296.1 851.0,295.9 851.5,293.8 852.0,292.8 852.5,296.3 853.0,294.2 853.5,294.7 854.0,294.2 854.5,294.9 855.0,298.2 855.5,294.5 856.0,294.6 856.5,295.4 857.0,295.7 857.5,293.8 858.0,293.1 858.5,294.9 859.0,295.5 859.5,294.8 860.0,294.6 860.5,294.7 861.0,295.4 861.5,295.7 862.0,293.4 862.5,294.8 863.0,295.9 863.5,295.0 864.0,293.0 864.5,294.2 865.0,294.5 865.5,295.4 866.0,291.9 866.5,295.0 867.0,293.3 867.5,294.2 868.0,294.9 868.5,292.7 869.0,292.8 869.5,293.9 870.0,295.1 870.5,293.4 871.0,292.3 871.5,293.4 872.0,295.0 872.5,296.2 873.0,293.9 873.5,294.3 874.0,294.6 874.5,294.7 875.0,293.6 875.5,294.4 876.0,295.4 876.5,295.3 877.0,295.2 877.5,293.8 878.0,294.4 878.5,294.2 879.0,296.7 879.5,297.2 880.0,295.7 880.5,297.4 881.0,294.7 881.5,294.7 882.0,293.3 882.5,295.4 883.0,294.4 883.5,295.1 884.0,295.6 884.5,294.6 885.0,293.3 885.5,294.8 886.0,294.8 886.5,295.0 887.0,295.9 887.5,294.7 888.0,294.7 888.5,297.6 889.0,296.7 889.5,295.2 890.0,294.1 890.5,294.8 891.0,296.0 891.5,296.7 892.0,298.9 892.5,295.3 893.0,295.9 893.5,295.2 894.0,295.8 894.5,295.2 895.0,294.3" fill="none" stroke="#800080" stroke-width="6.3" stroke-linejoin="round" stroke-linecap="butt" shape-rendering="crispEdges"/>
<path d="M151.0,429.7 151.5,431.5 152.0,430.8 152.5,430.8 153.0,430.4 153.5,431.6 154.0,429.3 154.5,433.5 155.0,431.1 155.5,432.6 156.0,429.8 156.5,432.1 157.0,431.2 157.5,430.3 158.0,429.6 158.5,429.2 159.0,432.5 159.5,431.6 160.0,430.0 160.5,429.9 161.0,428.5 161.5,426.9 162.0,426.8 162.5,428.2 163.0,428.6 163.5,427.2 164.0,429.6 164.5,429.1 165.0,428.5 165.5,426.0 166.0,427.9 166.5,428.0 167.0,426.4 167.5,425.2 168.0,430.4 168.5,428.7 169.0,427.4 169.5,430.0 170.0,429.4 170.5,428.6 171.0,428.4 171.5,429.2 172.0,430.1 172.5,428.4 173.0,428.1 173.5,429.2 174.0,424.8 174.5,428.6 175.0,427.9 175.5,428.4 176.0,428.0 176.5,428.5 177.0,428.0 177.5,427.6 178.0,427.1 178.5,427.6 179.0,426.0 179.5,427.7 180.0,424.1 180.5,426.4 181.0,426.7 181.5,424.5 182.0,425.7 182.5,428.1 183.0,426.4 183.5,425.7 184.0,423.1 184.5,427.7 185.0,427.5 185.5,428.3 186.0,430.2 186.5,427.5 187.0,427.5 187.5,426.3 188.0,426.8 188.5,426.6 189.0,427.3 189.5,426.7 190.0,424.7 190.5,424.7 191.0,426.9 191.5,423.6 192.0,425.6 192.5,426.6 193.0,425.2 193.5,424.5 194.0,425.9 194.5,424.5 195.0,424.0 195.5,423.7 196.0,425.4 196.5,424.8 197.0,425.9 197.5,423.5 198.0,423.5 198.5,423.3 199.0,424.2 199.5,422.9 200.0,425.0 200.5,424.1 201.0,422.3 201.5,419.6 202.0,421.0 202.5,425.0 203.0,422.9 203.5,423.0 204.0,422.0 204.5,422.8 205.0,419.6 205.5,419.2 206.0,419.5 206.5,421.4 207.0,422.0 207.5,421.4 208.0,420.3 208.5,418.6 209.0,421.0 209.5,419.3 210.0,419.4 210.5,419.1 211.0,418.4 211.5,417.9 212.0,417.8 212.5,416.7 213.0,418.5 213.5,417.8 214.0,419.1 214.5,415.1 215.0,418.5 215.5,415.8 216.0,414.1 216.5,411.3 217.0,409.1 217.5,405.9 218.0,406.8 218.5,403.4 219.0,402.9 219.5,401.3 220.0,398.0 220.5,396.7 221.0,395.0 221.5,395.4 222.0,392.9 222.5,391.8 223.0,391.4 223.5,389.3 224.0,391.0 224.5,386.0 225.0,387.8 225.5,386.9 226.0,382.6 226.5,384.4 227.0,382.9 227.5,383.2 228.0,380.2 228.5,382.3 229.0,381.3 229.5,383.1 230.0,386.6 230.5,386.0 231.0,384.5 231.5,387.2 232.0,389.5 232.5,394.5 233.0,394.6 233.5,395.7 234.0,401.2 234.5,401.7 235.0,403.1 235.5,403.0 236.0,407.1 236.5,406.4 237.0,405.3 237.5,407.6 238.0,409.2 238.5,411.2 239.0,413.4 239.5,412.4 240.0,413.4 240.5,417.7 241.0,415.5 241.5,415.1 242.0,416.1 242.5,414.5 243.0,416.7 243.5,417.2 244.0,415.0 244.5,416.9 245.0,415.0 245.5,415.5 246.0,413.9 246.5,413.5 247.0,412.3 247.5,414.1 248.0,413.1 248.5,412.8 249.0,411.3 249.5,410.9 250.0,411.2 250.5,412.3 251.0,411.6 251.5,409.6 252.0,410.0 252.5,410.9 253.0,407.5 253.5,408.8 254.0,405.3 254.5,405.1 255.0,401.2 255.5,401.9 256.0,397.3 256.5,397.7 257.0,395.5 257.5,391.9 258.0,391.4 258.5,393.5 259.0,391.3 259.5,390.9 260.0,388.0 260.5,382.3 261.0,384.8 261.5,382.2 262.0,380.8 262.5,379.5 263.0,378.0 263.5,377.0 264.0,379.4 264.5,378.3 265.0,377.3 265.5,378.4 266.0,381.4 266.5,382.1 267.0,383.5 267.5,383.5 268.0,386.6 268.5,387.6 269.0,388.6 269.5,394.1 270.0,394.2 270.5,395.6 271.0,396.5 271.5,400.4 272.0,403.8 272.5,403.5 273.0,405.6 273.5,404.4 274.0,407.7 274.5,409.1 275.0,412.0 275.5,411.1 276.0,410.6 276.5,412.4 277.0,412.2 277.5,414.9 278.0,414.1 278.5,414.0 279.0,414.1 279.5,415.2 280.0,413.7 280.5,413.3 281.0,412.2 281.5,416.3 282.0,415.5 282.5,415.7 283.0,414.9 283.5,417.0 284.0,413.5 284.5,416.3 285.0,413.6 285.5,414.1 286.0,413.1 286.5,414.8 287.0,414.3 287.5,415.3 288.0,414.0 288.5,413.0 289.0,415.6 289.5,416.6 290.0,416.0 290.5,415.0 291.0,415.7 291.5,413.0 292.0,414.8 292.5,416.7 293.0,415.8 293.5,414.1 294.0,416.4 294.5,415.1 295.0,416.2 295.5,413.4 296.0,414.6 296.5,415.7 297.0,415.7 297.5,416.1 298.0,415.4 298.5,415.1 299.0,416.0 299.5,416.5 300.0,413.4 300.5,415.0 301.0,415.1 301.5,415.5 302.0,416.5 302.5,413.4 303.0,415.7 303.5,412.7 304.0,413.9 304.5,414.1 305.0,414.4 305.5,413.9 306.0,414.0 306.5,414.3 307.0,414.4 307.5,412.4 308.0,413.1 308.5,414.4 309.0,415.7 309.5,416.3 310.0,418.7 310.5,415.1 311.0,413.8 311.5,414.9 312.0,415.3 312.5,414.3 313.0,412.5 313.5,413.4 314.0,413.2 314.5,411.2 315.0,411.2 315.5,414.1 316.0,409.6 316.5,412.6 317.0,412.0 317.5,414.2 318.0,413.3 318.5,411.5 319.0,414.4 319.5,412.2 320.0,415.6 320.5,415.3 321.0,413.1 321.5,414.2 322.0,413.5 322.5,412.1 323.0,414.5 323.5,413.6 324.0,414.1 324.5,414.2 325.0,414.5 325.5,413.9 326.0,412.2 326.5,412.3 327.0,412.5 327.5,411.7 328.0,411.3 328.5,413.9 329.0,411.9 329.5,413.6 330.0,410.0 330.5,410.8 331.0,410.1 331.5,410.0 332.0,409.9 332.5,409.9 333.0,409.3 333.5,411.9 334.0,410.2 334.5,408.1 335.0,408.0 335.5,409.4 336.0,408.8 336.5,406.9 337.0,408.5 337.5,405.0 338.0,405.8 338.5,408.2 339.0,402.2 339.5,404.9 340.0,406.1 340.5,404.4 341.0,403.2 341.5,402.8 342.0,401.1 342.5,401.8 343.0,403.4 343.5,402.3 344.0,402.8 344.5,402.4 345.0,402.7 345.5,399.9 346.0,401.4 346.5,401.0 347.0,400.7 347.5,399.5 348.0,397.5 348.5,400.7 349.0,400.5 349.5,402.1 350.0,399.7 350.5,400.5 351.0,398.8 351.5,397.3 352.0,398.2 352.5,395.8 353.0,397.5 353.5,396.8 354.0,395.4 354.5,398.2 355.0,397.9 355.5,396.9 356.0,397.1 356.5,397.9 357.0,395.4 357.5,393.5 358.0,393.8 358.5,395.6 359.0,394.8 359.5,392.4 360.0,395.9 360.5,394.4 361.0,396.1 361.5,395.6 362.0,393.8 362.5,394.8 363.0,394.2 363.5,394.6 364.0,396.0 364.5,397.7 365.0,399.5 365.5,397.3 366.0,400.0 366.5,399.8 367.0,400.0 367.5,402.2 368.0,400.6 368.5,403.1 369.0,401.1 369.5,400.5 370.0,402.7 370.5,400.0 371.0,400.5 371.5,402.0 372.0,402.4 372.5,402.3 373.0,400.4 373.5,401.4 374.0,404.1 374.5,404.4 375.0,402.6 375.5,404.4 376.0,404.4 376.5,405.6 377.0,403.3 377.5,406.2 378.0,403.9 378.5,406.0 379.0,405.3 379.5,402.7 380.0,403.5 380.5,404.2 381.0,405.0 381.5,401.9 382.0,402.9 382.5,404.3 383.0,404.1 383.5,402.0 384.0,402.1 384.5,403.7 385.0,401.7 385.5,403.1 386.0,403.8 386.5,402.4 387.0,398.7 387.5,403.4 388.0,403.2 388.5,403.2 389.0,402.2 389.5,398.7 390.0,402.4 390.5,400.8 391.0,401.2 391.5,399.5 392.0,399.0 392.5,398.7 393.0,400.7 393.5,398.5 394.0,397.4 394.5,395.5 395.0,397.3 395.5,396.1 396.0,395.6 396.5,396.0 397.0,394.9 397.5,393.2 398.0,392.6 398.5,391.5 399.0,390.8 399.5,388.9 400.0,385.9 400.5,382.1 401.0,381.5 401.5,378.7 402.0,373.2 402.5,372.1 403.0,368.1 403.5,363.0 404.0,363.0 404.5,361.4 405.0,356.1 405.5,352.9 406.0,352.0 406.5,346.2 407.0,343.5 407.5,341.7 408.0,340.7 408.5,338.6 409.0,334.9 409.5,333.1 410.0,331.7 410.5,329.7 411.0,328.1 411.5,327.5 412.0,330.3 412.5,330.0 413.0,335.4 413.5,334.3 414.0,334.5 414.5,337.8 415.0,340.6 415.5,343.1 416.0,345.5 416.5,347.9 417.0,350.2 417.5,354.6 418.0,360.2 418.5,360.3 419.0,363.8 419.5,368.1 420.0,371.2 420.5,372.4 421.0,374.4 421.5,374.3 422.0,375.4 422.5,377.8 423.0,378.9 423.5,381.2 424.0,382.0 424.5,378.4 425.0,382.5 425.5,381.2 426.0,379.8 426.5,383.5 427.0,383.2 427.5,383.4 428.0,382.6 428.5,383.4 429.0,384.8 429.5,383.5 430.0,385.6 430.5,386.1 431.0,386.0 431.5,386.7 432.0,386.3 432.5,385.0 433.0,385.2 433.5,386.8 434.0,387.9 434.5,386.9 435.0,386.2 435.5,387.2 436.0,384.9 436.5,386.2 437.0,387.4 437.5,388.2 438.0,388.4 438.5,388.9 439.0,388.2 439.5,389.5 440.0,391.0 440.5,388.7 441.0,389.8 441.5,391.2 442.0,393.8 442.5,392.8 443.0,394.0 443.5,393.8 444.0,391.5 444.5,391.9 445.0,390.5 445.5,393.5 446.0,392.9 446.5,392.7 447.0,392.7 447.5,392.3 448.0,391.7 448.5,391.5 449.0,392.4 449.5,389.4 450.0,388.5 450.5,389.3 451.0,390.2 451.5,388.4 452.0,387.1 452.5,387.7 453.0,386.0 453.5,382.7 454.0,383.1 454.5,380.9 455.0,382.5 455.5,381.3 456.0,381.7 456.5,383.0 457.0,378.8 457.5,378.9 458.0,377.8 458.5,374.1 459.0,376.3 459.5,376.0 460.0,377.0 460.5,375.3 461.0,374.6 461.5,377.0 462.0,376.2 462.5,375.1 463.0,375.3 463.5,375.9 464.0,377.4 464.5,378.2 465.0,374.7 465.5,377.9 466.0,376.6 466.5,377.1 467.0,378.0 467.5,375.7 468.0,378.3 468.5,375.7 469.0,377.0 469.5,376.7 470.0,380.2 470.5,380.4 471.0,379.4 471.5,379.3 472.0,378.2 472.5,381.3 473.0,381.0 473.5,380.4 474.0,379.2 474.5,379.0 475.0,379.4 475.5,381.2 476.0,378.3 476.5,379.6 477.0,381.5 477.5,380.4 478.0,381.4 478.5,379.6 479.0,379.5 479.5,380.7 480.0,379.8 480.5,379.4 481.0,378.4 481.5,377.4 482.0,381.5 482.5,379.3 483.0,379.2 483.5,381.6 484.0,379.7 484.5,379.3 485.0,380.6 485.5,381.4 486.0,382.0 486.5,382.3 487.0,382.8 487.5,381.3 488.0,381.8 488.5,381.0 489.0,380.1 489.5,381.3 490.0,381.1 490.5,383.0 491.0,381.4 491.5,379.8 492.0,381.6 492.5,380.7 493.0,383.3 493.5,379.3 494.0,381.0 494.5,381.2 495.0,382.5 495.5,382.4 496.0,380.7 496.5,380.5 497.0,383.1 497.5,384.8 498.0,384.7 498.5,382.3 499.0,383.2 499.5,381.4 500.0,380.5 500.5,383.8 501.0,382.9 501.5,381.4 502.0,381.2 502.5,382.7 503.0,381.8 503.5,380.8 504.0,381.5 504.5,381.0 505.0,380.4 505.5,380.0 506.0,382.1 506.5,380.3 507.0,379.4 507.5,383.3 508.0,382.7 508.5,381.8 509.0,381.2 509.5,381.6 510.0,379.6 510.5,381.4 511.0,381.9 511.5,381.3 512.0,382.1 512.5,380.5 513.0,381.7 513.5,379.4 514.0,381.3 514.5,380.4 515.0,379.5 515.5,380.6 516.0,381.0 516.5,380.1 517.0,382.0 517.5,379.9 518.0,381.9 518.5,381.5 519.0,379.8 519.5,382.3 520.0,378.7 520.5,381.1 521.0,380.4 521.5,381.3 522.0,378.3 522.5,378.8 523.0,379.2 523.5,380.3 524.0,380.4 524.5,380.3 525.0,380.0 525.5,379.5 526.0,378.7 526.5,380.0 527.0,381.3 527.5,382.1 528.0,380.2 528.5,382.3 529.0,379.3 529.5,382.0 530.0,379.6 530.5,381.3 531.0,379.7 531.5,379.6 532.0,380.0 532.5,382.3 533.0,379.4 533.5,380.9 534.0,380.0 534.5,380.0 535.0,379.8 535.5,380.0 536.0,377.5 536.5,378.9 537.0,379.2 537.5,377.9 538.0,379.0 538.5,377.3 539.0,379.5 539.5,377.7 540.0,378.4 540.5,379.9 541.0,380.6 541.5,378.9 542.0,379.3 542.5,381.9 543.0,377.4 543.5,383.2 544.0,383.4 544.5,380.6 545.0,383.5 545.5,382.5 546.0,382.6 546.5,378.9 547.0,381.0 547.5,381.1 548.0,380.5 548.5,380.2 549.0,380.0 549.5,376.3 550.0,379.4 550.5,378.4 551.0,378.9 551.5,378.1 552.0,378.6 552.5,378.8 553.0,380.5 553.5,377.1 554.0,380.2 554.5,377.7 555.0,376.8 555.5,376.0 556.0,378.8 556.5,375.6 557.0,378.6 557.5,377.7 558.0,376.4 558.5,376.1 559.0,377.3 559.5,376.8 560.0,377.3 560.5,376.3 561.0,375.5 561.5,376.7 562.0,374.4 562.5,376.9 563.0,375.8 563.5,374.2 564.0,374.3 564.5,375.1 565.0,373.2 565.5,377.2 566.0,376.7 566.5,374.0 567.0,375.2 567.5,377.5 568.0,375.8 568.5,373.9 569.0,372.4 569.5,372.9 570.0,376.4 570.5,375.1 571.0,372.8 571.5,375.1 572.0,373.4 572.5,372.7 573.0,372.6 573.5,372.3 574.0,374.7 574.5,371.0 575.0,371.4 575.5,373.3 576.0,373.3 576.5,370.0 577.0,373.8 577.5,372.5 578.0,369.1 578.5,373.4 579.0,369.2 579.5,372.1 580.0,369.8 580.5,369.1 581.0,372.6 581.5,372.1 582.0,371.5 582.5,371.9 583.0,371.5 583.5,371.3 584.0,370.2 584.5,372.2 585.0,371.4 585.5,370.8 586.0,370.1 586.5,370.2 587.0,368.2 587.5,369.3 588.0,367.9 588.5,370.1 589.0,366.2 589.5,365.6 590.0,364.8 590.5,364.2 591.0,362.1 591.5,359.8 592.0,360.8 592.5,356.3 593.0,355.1 593.5,356.5 594.0,350.3 594.5,351.3 595.0,349.3 595.5,345.5 596.0,344.7 596.5,344.8 597.0,340.0 597.5,340.1 598.0,340.2 598.5,337.8 599.0,338.1 599.5,337.1 600.0,337.8 600.5,338.8 601.0,340.4 601.5,343.3 602.0,344.3 602.5,348.6 603.0,348.7 603.5,350.3 604.0,354.8 604.5,353.6 605.0,354.7 605.5,358.4 606.0,359.4 606.5,364.1 607.0,367.7 607.5,369.1 608.0,369.6 608.5,371.2 609.0,373.0 609.5,374.7 610.0,373.5 610.5,374.1 611.0,376.7 611.5,376.2 612.0,376.9 612.5,377.7 613.0,376.6 613.5,377.9 614.0,379.9 614.5,378.8 615.0,379.3 615.5,380.4 616.0,381.1 616.5,384.3 617.0,380.5 617.5,382.2 618.0,385.2 618.5,383.1 619.0,384.0 619.5,382.2 620.0,385.8 620.5,386.2 621.0,386.7 621.5,385.9 622.0,387.2 622.5,387.1 623.0,388.8 623.5,388.1 624.0,389.5 624.5,387.2 625.0,388.8 625.5,385.9 626.0,389.6 626.5,391.0 627.0,389.9 627.5,393.4 628.0,389.2 628.5,390.1 629.0,389.5 629.5,390.1 630.0,390.2 630.5,388.9 631.0,389.7 631.5,393.6 632.0,390.8 632.5,392.4 633.0,389.7 633.5,391.3 634.0,392.3 634.5,391.5 635.0,391.2 635.5,391.8 636.0,392.1 636.5,393.3 637.0,393.8 637.5,390.6 638.0,389.7 638.5,392.1 639.0,392.4 639.5,393.3 640.0,393.8 640.5,391.5 641.0,395.0 641.5,392.7 642.0,390.1 642.5,393.5 643.0,392.6 643.5,392.6 644.0,390.1 644.5,391.8 645.0,392.3 645.5,391.9 646.0,392.9 646.5,393.6 647.0,394.0 647.5,393.6 648.0,391.7 648.5,394.1 649.0,392.2 649.5,392.9 650.0,391.5 650.5,390.0 651.0,388.9 651.5,392.1 652.0,391.0 652.5,392.0 653.0,393.2 653.5,390.2 654.0,390.1 654.5,392.8 655.0,393.1 655.5,392.5 656.0,392.4 656.5,391.2 657.0,393.4 657.5,392.8 658.0,394.5 658.5,395.4 659.0,393.7 659.5,395.2 660.0,395.0 660.5,395.8 661.0,396.9 661.5,395.7 662.0,395.7 662.5,395.7 663.0,393.9 663.5,394.2 664.0,394.5 664.5,395.4 665.0,395.2 665.5,396.3 666.0,391.7 666.5,392.9 667.0,390.6 667.5,392.1 668.0,390.6 668.5,394.2 669.0,393.7 669.5,391.3 670.0,393.2 670.5,393.9 671.0,395.3 671.5,394.3 672.0,393.6 672.5,393.5 673.0,394.7 673.5,394.5 674.0,393.7 674.5,393.0 675.0,396.2 675.5,394.2 676.0,395.0 676.5,396.6 677.0,395.8 677.5,397.5 678.0,394.8 678.5,397.4 679.0,394.8 679.5,394.7 680.0,395.5 680.5,397.1 681.0,396.1 681.5,395.3 682.0,398.7 682.5,395.9 683.0,397.1 683.5,397.6 684.0,396.8 684.5,398.0 685.0,398.5 685.5,397.7 686.0,399.5 686.5,397.7 687.0,397.5 687.5,399.5 688.0,398.4 688.5,400.6 689.0,400.4 689.5,400.3 690.0,402.0 690.5,402.2 691.0,397.9 691.5,401.5 692.0,402.1 692.5,402.5 693.0,401.1 693.5,400.2 694.0,401.7 694.5,402.3 695.0,398.5 695.5,399.0 696.0,400.0 696.5,397.2 697.0,399.6 697.5,401.3 698.0,398.7 698.5,400.2 699.0,398.7 699.5,400.3 700.0,400.6 700.5,401.4 701.0,399.7 701.5,401.0 702.0,400.1 702.5,399.0 703.0,401.5 703.5,398.8 704.0,399.8 704.5,402.7 705.0,400.6 705.5,398.4 706.0,399.7 706.5,398.5 707.0,398.9 707.5,397.0 708.0,399.0 708.5,396.5 709.0,398.9 709.5,398.7 710.0,399.2 710.5,400.8 711.0,395.7 711.5,396.3 712.0,396.5 712.5,397.0 713.0,398.9 713.5,397.4 714.0,397.0 714.5,396.3 715.0,396.9 715.5,397.0 716.0,397.2 716.5,395.3 717.0,396.7 717.5,397.2 718.0,396.5 718.5,394.1 719.0,396.3 719.5,395.9 720.0,394.8 720.5,392.4 721.0,391.8 721.5,393.4 722.0,391.8 722.5,391.2 723.0,393.9 723.5,393.8 724.0,393.4 724.5,394.2 725.0,393.6 725.5,390.9 726.0,393.8 726.5,392.4 727.0,392.8 727.5,394.2 728.0,392.7 728.5,394.1 729.0,392.1 729.5,391.5 730.0,391.0 730.5,391.7 731.0,389.6 731.5,391.6 732.0,391.5 732.5,390.9 733.0,388.6 733.5,388.6 734.0,392.3 734.5,390.1 735.0,393.1 735.5,390.5 736.0,391.9 736.5,389.8 737.0,391.0 737.5,391.8 738.0,393.1 738.5,394.9 739.0,394.3 739.5,391.5 740.0,393.8 740.5,394.0 741.0,393.8 741.5,395.8 742.0,397.5 742.5,395.2 743.0,397.7 743.5,398.5 744.0,395.7 744.5,399.7 745.0,400.0 745.5,398.5 746.0,400.7 746.5,399.1 747.0,400.6 747.5,400.2 748.0,398.5 748.5,400.1 749.0,399.8 749.5,399.5 750.0,398.8 750.5,399.4 751.0,399.0 751.5,402.2 752.0,398.4 752.5,401.2 753.0,400.5 753.5,399.9 754.0,402.7 754.5,400.9 755.0,403.8 755.5,402.2 756.0,403.1 756.5,402.7 757.0,403.9 757.5,404.5 758.0,402.9 758.5,403.7 759.0,406.2 759.5,403.3 760.0,406.6 760.5,403.9 761.0,403.8 761.5,402.5 762.0,403.8 762.5,402.7 763.0,404.4 763.5,406.1 764.0,405.2 764.5,404.6 765.0,404.1 765.5,404.6 766.0,403.6 766.5,403.8 767.0,407.9 767.5,405.7 768.0,404.1 768.5,406.1 769.0,407.1 769.5,404.3 770.0,404.9 770.5,403.4 771.0,402.9 771.5,406.8 772.0,409.5 772.5,404.1 773.0,403.1 773.5,407.1 774.0,406.7 774.5,406.0 775.0,407.4 775.5,405.1 776.0,405.9 776.5,406.6 777.0,405.1 777.5,406.1 778.0,405.1 778.5,406.0 779.0,405.5 779.5,402.6 780.0,405.2 780.5,403.1 781.0,403.7 781.5,402.6 782.0,405.7 782.5,404.0 783.0,403.8 783.5,405.8 784.0,405.0 784.5,403.7 785.0,401.2 785.5,404.7 786.0,403.4 786.5,403.3 787.0,404.7 787.5,402.9 788.0,403.6 788.5,404.9 789.0,404.5 789.5,403.1 790.0,405.9 790.5,405.6 791.0,406.8 791.5,404.4 792.0,405.0 792.5,406.3 793.0,405.8 793.5,405.6 794.0,405.7 794.5,405.7 795.0,405.7 795.5,406.1 796.0,408.0 796.5,407.5 797.0,406.7 797.5,409.1 798.0,411.8 798.5,412.0 799.0,408.1 799.5,410.2 800.0,412.7 800.5,412.2 801.0,412.6 801.5,412.6 802.0,413.0 802.5,411.7 803.0,414.6 803.5,411.7 804.0,412.8 804.5,414.8 805.0,414.1 805.5,412.5 806.0,412.4 806.5,411.5 807.0,411.5 807.5,411.8 808.0,413.8 808.5,411.5 809.0,412.8 809.5,412.6 810.0,412.6 810.5,411.8 811.0,413.2 811.5,412.5 812.0,412.5 812.5,411.9 813.0,409.8 813.5,413.6 814.0,413.8 814.5,412.2 815.0,412.7 815.5,413.4 816.0,411.8 816.5,413.9 817.0,413.9 817.5,414.1 818.0,414.2 818.5,410.5 819.0,413.6 819.5,412.3 820.0,414.4 820.5,414.3 821.0,414.1 821.5,413.1 822.0,416.9 822.5,413.4 823.0,412.3 823.5,415.1 824.0,412.1 824.5,416.6 825.0,415.5 825.5,416.0 826.0,415.6 826.5,414.7 827.0,412.3 827.5,413.1 828.0,414.4 828.5,413.1 829.0,413.6 829.5,412.0 830.0,411.7 830.5,412.9 831.0,413.3 831.5,412.3 832.0,410.9 832.5,410.1 833.0,414.9 833.5,410.8 834.0,411.3 834.5,411.6 835.0,413.8 835.5,411.9 836.0,413.7 836.5,413.5 837.0,411.8 837.5,413.6 838.0,412.0 838.5,413.5 839.0,414.8 839.5,413.6 840.0,412.8 840.5,413.5 841.0,413.9 841.5,414.6 842.0,411.2 842.5,411.8 843.0,414.8 843.5,414.0 844.0,414.1 844.5,414.3 845.0,413.8 845.5,413.3 846.0,414.0 846.5,414.7 847.0,414.2 847.5,413.7 848.0,412.3 848.5,413.9 849.0,412.1 849.5,412.7 850.0,413.8 850.5,413.7 851.0,415.0 851.5,414.8 852.0,414.4 852.5,413.4 853.0,413.9 853.5,413.7 854.0,416.3 854.5,414.7 855.0,413.3 855.5,413.0 856.0,415.6 856.5,412.8 857.0,414.3 857.5,413.9 858.0,414.9 858.5,412.2 859.0,413.8 859.5,413.3 860.0,413.9 860.5,414.6 861.0,412.9 861.5,412.5 862.0,414.0 862.5,411.2 863.0,413.4 863.5,412.0 864.0,411.9 864.5,411.6 865.0,411.6 865.5,414.9 866.0,415.1 866.5,414.1 867.0,415.3 867.5,414.0 868.0,413.2 868.5,412.4 869.0,414.7 869.5,414.6 870.0,415.1 870.5,412.3 871.0,412.9 871.5,411.5 872.0,414.6 872.5,414.1 873.0,413.8 873.5,413.1 874.0,413.0 874.5,412.8 875.0,414.7 875.5,412.6 876.0,414.7 876.5,414.1 877.0,412.6 877.5,412.2 878.0,413.3 878.5,414.4 879.0,413.0 879.5,415.6 880.0,416.4 880.5,415.7 881.0,412.9 881.5,412.1 882.0,416.3 882.5,417.1 883.0,414.6 883.5,415.7 884.0,414.7 884.5,414.1 885.0,416.2 885.5,414.2 886.0,416.0 886.5,417.1 887.0,414.7 887.5,417.4 888.0,413.3 888.5,416.3 889.0,415.2 889.5,418.6 890.0,415.5 890.5,414.6 891.0,417.8 891.5,413.9 892.0,416.6 892.5,415.2 893.0,418.1 893.5,416.3 894.0,417.6 894.5,416.6 895.0,415.3" fill="none" stroke="#FF0080" stroke-width="6.3" stroke-linejoin="round" stroke-linecap="butt" shape-rendering="crispEdges"/>
<path d="M151.0,549.9 151.5,553.8 152.0,548.6 152.5,551.3 153.0,551.0 153.5,546.4 154.0,546.2 154.5,549.1 155.0,544.2 155.5,548.9 156.0,549.3 156.5,549.6 157.0,549.5 157.5,551.4 158.0,547.7 158.5,551.5 159.0,549.7 159.5,549.9 160.0,548.7 160.5,551.4 161.0,547.9 161.5,551.4 162.0,552.5 162.5,548.7 163.0,548.2 163.5,548.5 164.0,550.1 164.5,550.9 165.0,551.9 165.5,554.2 166.0,553.6 166.5,550.6 167.0,549.3 167.5,547.7 168.0,552.5 168.5,552.2 169.0,550.8 169.5,551.5 170.0,552.1 170.5,547.1 171.0,553.1 171.5,554.3 172.0,553.6 172.5,551.8 173.0,554.4 173.5,555.5 174.0,558.5 174.5,556.6 175.0,555.0 175.5,552.9 176.0,549.2 176.5,550.2 177.0,547.2 177.5,549.2 178.0,551.1 178.5,550.5 179.0,549.9 179.5,547.9 180.0,549.9 180.5,546.9 181.0,543.0 181.5,547.6 182.0,547.2 182.5,543.1 183.0,545.7 183.5,541.4 184.0,545.7 184.5,549.5 185.0,545.3 185.5,549.7 186.0,547.3 186.5,545.2 187.0,543.0 187.5,548.7 188.0,548.6 188.5,544.0 189.0,546.5 189.5,550.0 190.0,546.1 190.5,548.8 191.0,543.8 191.5,546.4 192.0,550.3 192.5,546.3 193.0,546.0 193.5,546.4 194.0,548.9 194.5,546.4 195.0,549.8 195.5,551.4 196.0,553.6 196.5,549.3 197.0,553.7 197.5,551.3 198.0,549.4 198.5,550.9 199.0,552.9 199.5,552.6 200.0,550.8 200.5,548.6 201.0,550.4 201.5,548.8 202.0,548.4 202.5,548.3 203.0,551.5 203.5,544.5 204.0,546.8 204.5,544.3 205.0,548.4 205.5,548.7 206.0,549.0 206.5,545.1 207.0,545.8 207.5,547.3 208.0,545.8 208.5,546.0 209.0,545.6 209.5,545.6 210.0,544.5 210.5,545.5 211.0,540.9 211.5,542.8 212.0,540.3 212.5,542.6 213.0,540.7 213.5,543.0 214.0,544.3 214.5,538.4 215.0,539.3 215.5,541.7 216.0,544.3 216.5,543.0 217.0,542.5 217.5,541.7 218.0,541.0 218.5,543.0 219.0,543.3 219.5,542.5 220.0,540.6 220.5,537.8 221.0,538.3 221.5,537.8 222.0,534.3 222.5,535.8 223.0,530.1 223.5,531.1 224.0,531.4 224.5,531.5 225.0,529.3 225.5,530.6 226.0,525.7 226.5,524.5 227.0,527.9 227.5,522.8 228.0,523.7 228.5,519.6 229.0,525.5 229.5,524.2 230.0,520.6 230.5,518.2 231.0,522.5 231.5,522.6 232.0,524.7 232.5,526.6 233.0,523.4 233.5,522.8 234.0,523.3 234.5,523.6 235.0,521.8 235.5,523.2 236.0,525.5 236.5,522.4 237.0,523.5 237.5,529.5 238.0,526.0 238.5,530.2 239.0,532.0 239.5,531.0 240.0,534.3 240.5,533.6 241.0,533.6 241.5,536.7 242.0,538.4 242.5,539.6 243.0,540.2 243.5,539.6 244.0,542.8 244.5,539.9 245.0,539.3 245.5,542.1 246.0,537.7 246.5,539.8 247.0,543.0 247.5,539.9 248.0,543.0 248.5,539.4 249.0,538.9 249.5,539.8 250.0,539.1 250.5,539.6 251.0,539.4 251.5,542.0 252.0,540.9 252.5,539.3 253.0,537.7 253.5,546.1 254.0,538.2 254.5,541.5 255.0,535.5 255.5,536.3 256.0,540.5 256.5,535.3 257.0,535.3 257.5,537.2 258.0,535.1 258.5,535.1 259.0,534.8 259.5,534.9 260.0,531.7 260.5,530.1 261.0,530.7 261.5,529.3 262.0,524.1 262.5,519.8 263.0,520.9 263.5,524.9 264.0,521.0 264.5,520.1 265.0,520.3 265.5,524.5 266.0,520.9 266.5,519.6 267.0,518.6 267.5,517.3 268.0,525.5 268.5,518.6 269.0,518.5 269.5,517.0 270.0,519.6 270.5,514.7 271.0,512.4 271.5,515.2 272.0,517.2 272.5,521.6 273.0,516.5 273.5,515.0 274.0,516.6 274.5,515.6 275.0,516.0 275.5,518.5 276.0,519.7 276.5,518.4 277.0,523.3 277.5,521.7 278.0,523.1 278.5,522.7 279.0,525.6 279.5,526.5 280.0,527.8 280.5,525.1 281.0,528.7 281.5,526.4 282.0,528.4 282.5,530.3 283.0,532.6 283.5,528.9 284.0,528.2 284.5,531.7 285.0,534.9 285.5,532.2 286.0,539.1 286.5,530.4 287.0,538.6 287.5,538.6 288.0,539.1 288.5,535.3 289.0,540.6 289.5,540.5 290.0,540.9 290.5,537.7 291.0,537.7 291.5,541.0 292.0,538.8 292.5,537.0 293.0,535.8 293.5,538.0 294.0,534.2 294.5,538.3 295.0,537.3 295.5,533.4 296.0,537.9 296.5,539.5 297.0,537.5 297.5,534.0 298.0,535.7 298.5,538.9 299.0,534.2 299.5,536.2 300.0,539.5 300.5,536.2 301.0,535.4 301.5,538.3 302.0,539.9 302.5,537.0 303.0,533.0 303.5,532.1 304.0,534.9 304.5,531.2 305.0,534.8 305.5,536.8 306.0,528.7 306.5,534.0 307.0,535.0 307.5,533.1 308.0,535.2 308.5,535.5 309.0,536.8 309.5,540.6 310.0,535.4 310.5,532.9 311.0,532.8 311.5,532.5 312.0,537.0 312.5,536.4 313.0,536.9 313.5,536.4 314.0,539.7 314.5,538.7 315.0,538.6 315.5,534.9 316.0,535.7 316.5,533.5 317.0,535.0 317.5,536.6 318.0,533.7 318.5,535.0 319.0,540.9 319.5,536.0 320.0,533.1 320.5,533.7 321.0,536.3 321.5,538.5 322.0,536.4 322.5,538.6 323.0,537.4 323.5,534.3 324.0,539.0 324.5,535.7 325.0,540.8 325.5,535.3 326.0,536.1 326.5,535.1 327.0,535.5 327.5,536.8 328.0,535.1 328.5,537.8 329.0,535.8 329.5,538.0 330.0,534.4 330.5,536.8 331.0,536.5 331.5,533.4 332.0,539.3 332.5,536.9 333.0,534.7 333.5,533.0 334.0,533.1 334.5,532.6 335.0,533.2 335.5,529.4 336.0,531.0 336.5,528.3 337.0,531.9 337.5,528.5 338.0,529.0 338.5,529.2 339.0,523.9 339.5,526.4 340.0,522.2 340.5,522.5 341.0,518.9 341.5,521.1 342.0,524.0 342.5,521.9 343.0,519.8 343.5,520.4 344.0,518.5 344.5,518.3 345.0,516.2 345.5,521.4 346.0,521.0 346.5,518.0 347.0,515.0 347.5,517.2 348.0,522.0 348.5,514.5 349.0,516.3 349.5,516.3 350.0,519.1 350.5,514.5 351.0,517.8 351.5,515.3 352.0,516.2 352.5,514.1 353.0,517.7 353.5,515.2 354.0,514.6 354.5,518.0 355.0,515.9 355.5,519.8 356.0,515.0 356.5,513.7 357.0,513.2 357.5,518.4 358.0,514.5 358.5,510.5 359.0,511.2 359.5,508.8 360.0,510.8 360.5,507.7 361.0,507.1 361.5,508.8 362.0,510.4 362.5,508.9 363.0,508.3 363.5,506.5 364.0,500.8 364.5,505.6 365.0,505.4 365.5,507.1 366.0,509.8 366.5,507.8 367.0,502.5 367.5,506.8 368.0,506.6 368.5,509.2 369.0,508.0 369.5,504.4 370.0,507.2 370.5,509.1 371.0,505.8 371.5,510.6 372.0,510.8 372.5,514.3 373.0,512.2 373.5,511.5 374.0,513.1 374.5,513.9 375.0,516.4 375.5,512.5 376.0,510.0 376.5,521.5 377.0,517.3 377.5,515.8 378.0,521.1 378.5,513.0 379.0,513.4 379.5,513.8 380.0,515.3 380.5,512.7 381.0,515.0 381.5,512.1 382.0,515.5 382.5,513.5 383.0,508.8 383.5,512.5 384.0,510.3 384.5,512.8 385.0,513.5 385.5,519.0 386.0,513.9 386.5,511.3 387.0,515.6 387.5,513.3 388.0,520.4 388.5,518.3 389.0,520.6 389.5,516.6 390.0,515.4 390.5,518.7 391.0,515.1 391.5,516.2 392.0,516.7 392.5,518.1 393.0,514.9 393.5,513.6 394.0,521.1 394.5,516.3 395.0,516.7 395.5,517.8 396.0,516.8 396.5,513.6 397.0,513.3 397.5,517.1 398.0,515.5 398.5,513.6 399.0,514.8 399.5,506.0 400.0,509.6 400.5,507.7 401.0,502.9 401.5,506.9 402.0,506.3 402.5,504.2 403.0,498.2 403.5,500.3 404.0,499.7 404.5,497.2 405.0,496.7 405.5,495.4 406.0,495.4 406.5,490.3 407.0,493.1 407.5,485.0 408.0,482.5 408.5,481.1 409.0,476.9 409.5,474.3 410.0,476.2 410.5,467.5 411.0,467.6 411.5,475.6 412.0,471.8 412.5,470.7 413.0,469.5 413.5,468.8 414.0,465.4 414.5,466.3 415.0,464.0 415.5,468.4 416.0,466.7 416.5,465.4 417.0,465.3 417.5,463.8 418.0,461.2 418.5,467.4 419.0,464.8 419.5,462.9 420.0,464.8 420.5,466.8 421.0,467.2 421.5,466.8 422.0,468.2 422.5,467.0 423.0,472.0 423.5,472.6 424.0,474.3 424.5,471.0 425.0,478.3 425.5,482.2 426.0,486.6 426.5,482.7 427.0,486.7 427.5,492.7 428.0,490.9 428.5,494.8 429.0,494.6 429.5,497.5 430.0,495.0 430.5,494.5 431.0,498.6 431.5,497.3 432.0,495.8 432.5,494.4 433.0,506.3 433.5,498.8 434.0,499.3 434.5,495.6 435.0,497.9 435.5,500.0 436.0,501.1 436.5,502.2 437.0,498.7 437.5,501.4 438.0,502.9 438.5,499.2 439.0,500.2 439.5,496.3 440.0,498.6 440.5,497.4 441.0,502.1 441.5,500.3 442.0,504.4 442.5,501.3 443.0,502.9 443.5,502.4 444.0,501.8 444.5,499.1 445.0,505.3 445.5,501.5 446.0,497.6 446.5,500.6 447.0,499.4 447.5,504.6 448.0,504.2 448.5,505.3 449.0,506.7 449.5,500.3 450.0,497.5 450.5,499.7 451.0,502.8 451.5,495.8 452.0,500.5 452.5,503.8 453.0,499.8 453.5,501.2 454.0,499.1 454.5,504.7 455.0,504.7 455.5,497.3 456.0,496.9 456.5,498.3 457.0,498.8 457.5,497.3 458.0,497.1 458.5,497.2 459.0,497.1 459.5,498.2 460.0,494.0 460.5,492.4 461.0,493.2 461.5,498.5 462.0,495.4 462.5,495.2 463.0,496.6 463.5,496.3 464.0,498.7 464.5,491.2 465.0,493.3 465.5,494.3 466.0,494.2 466.5,491.1 467.0,488.1 467.5,490.9 468.0,489.8 468.5,491.0 469.0,493.6 469.5,492.6 470.0,488.2 470.5,488.9 471.0,490.9 471.5,492.8 472.0,489.8 472.5,490.2 473.0,486.0 473.5,488.1 474.0,487.3 474.5,489.6 475.0,488.6 475.5,487.3 476.0,487.1 476.5,490.4 477.0,488.9 477.5,493.4 478.0,491.6 478.5,491.1 479.0,494.2 479.5,489.8 480.0,495.0 480.5,491.6 481.0,495.2 481.5,492.2 482.0,491.7 482.5,489.8 483.0,494.2 483.5,495.2 484.0,490.9 484.5,498.1 485.0,493.9 485.5,491.3 486.0,498.2 486.5,492.7 487.0,496.9 487.5,487.1 488.0,498.5 488.5,494.1 489.0,493.8 489.5,494.7 490.0,491.4 490.5,496.3 491.0,495.3 491.5,495.1 492.0,493.1 492.5,491.9 493.0,495.4 493.5,496.6 494.0,495.1 494.5,494.5 495.0,494.0 495.5,497.1 496.0,499.1 496.5,495.7 497.0,494.4 497.5,502.3 498.0,493.4 498.5,497.7 499.0,497.0 499.5,500.2 500.0,496.8 500.5,493.2 501.0,494.2 501.5,496.8 502.0,496.2 502.5,494.5 503.0,494.5 503.5,491.9 504.0,491.9 504.5,493.7 505.0,493.4 505.5,494.6 506.0,492.1 506.5,498.4 507.0,490.9 507.5,496.9 508.0,496.3 508.5,498.8 509.0,498.5 509.5,492.6 510.0,496.6 510.5,497.7 511.0,498.3 511.5,497.6 512.0,495.3 512.5,499.7 513.0,496.6 513.5,495.8 514.0,497.3 514.5,495.8 515.0,495.2 515.5,496.7 516.0,502.1 516.5,496.6 517.0,495.7 517.5,494.3 518.0,496.0 518.5,492.5 519.0,496.4 519.5,496.2 520.0,496.2 520.5,497.6 521.0,496.7 521.5,499.2 522.0,499.4 522.5,499.8 523.0,498.8 523.5,500.8 524.0,498.2 524.5,501.3 525.0,497.8 525.5,500.5 526.0,497.9 526.5,496.9 527.0,494.5 527.5,498.2 528.0,497.6 528.5,497.0 529.0,497.8 529.5,497.3 530.0,494.9 530.5,494.3 531.0,498.3 531.5,497.0 532.0,499.7 532.5,500.4 533.0,497.3 533.5,496.4 534.0,495.6 534.5,494.0 535.0,491.8 535.5,486.8 536.0,493.9 536.5,493.0 537.0,491.4 537.5,491.3 538.0,492.9 538.5,492.7 539.0,491.0 539.5,490.0 540.0,492.0 540.5,492.6 541.0,496.0 541.5,489.2 542.0,492.7 542.5,489.9 543.0,491.2 543.5,497.8 544.0,492.0 544.5,493.0 545.0,493.0 545.5,498.0 546.0,497.0 546.5,495.4 547.0,499.2 547.5,499.4 548.0,495.5 548.5,494.1 549.0,491.3 549.5,490.6 550.0,492.7 550.5,490.0 551.0,491.6 551.5,490.4 552.0,492.2 552.5,494.6 553.0,492.9 553.5,495.7 554.0,494.0 554.5,493.0 555.0,491.3 555.5,493.5 556.0,490.6 556.5,494.8 557.0,489.8 557.5,489.4 558.0,490.2 558.5,488.0 559.0,491.5 559.5,489.0 560.0,489.1 560.5,491.0 561.0,484.0 561.5,487.9 562.0,488.8 562.5,489.8 563.0,487.5 563.5,485.4 564.0,488.9 564.5,488.8 565.0,491.6 565.5,491.4 566.0,486.0 566.5,489.5 567.0,486.6 567.5,483.6 568.0,487.1 568.5,488.0 569.0,479.3 569.5,487.2 570.0,481.8 570.5,486.9 571.0,483.4 571.5,482.9 572.0,485.5 572.5,481.5 573.0,486.8 573.5,479.8 574.0,480.6 574.5,479.4 575.0,483.0 575.5,481.5 576.0,483.3 576.5,483.8 577.0,483.0 577.5,483.4 578.0,483.2 578.5,480.3 579.0,478.5 579.5,477.7 580.0,481.2 580.5,478.0 581.0,476.7 581.5,476.6 582.0,477.7 582.5,478.5 583.0,477.1 583.5,475.2 584.0,478.6 584.5,472.3 585.0,476.5 585.5,479.5 586.0,477.7 586.5,479.6 587.0,477.0 587.5,477.8 588.0,476.2 588.5,474.8 589.0,476.2 589.5,477.1 590.0,469.9 590.5,472.0 591.0,468.5 591.5,470.6 592.0,469.2 592.5,470.4 593.0,470.2 593.5,472.5 594.0,472.4 594.5,466.9 595.0,466.5 595.5,468.0 596.0,463.9 596.5,463.3 597.0,458.8 597.5,463.5 598.0,461.3 598.5,457.5 599.0,455.7 599.5,455.1 600.0,457.2 600.5,453.8 601.0,450.7 601.5,451.5 602.0,453.1 602.5,453.2 603.0,453.1 603.5,450.3 604.0,450.8 604.5,451.4 605.0,452.9 605.5,453.6 606.0,451.2 606.5,452.9 607.0,455.0 607.5,458.8 608.0,457.5 608.5,458.3 609.0,464.1 609.5,467.4 610.0,464.8 610.5,469.3 611.0,475.1 611.5,474.2 612.0,479.4 612.5,475.8 613.0,479.7 613.5,482.9 614.0,486.0 614.5,485.9 615.0,481.2 615.5,482.5 616.0,484.9 616.5,489.6 617.0,490.0 617.5,491.3 618.0,490.7 618.5,487.9 619.0,488.3 619.5,487.0 620.0,490.7 620.5,485.8 621.0,488.6 621.5,488.8 622.0,490.9 622.5,486.4 623.0,489.0 623.5,486.1 624.0,490.9 624.5,488.1 625.0,488.5 625.5,487.6 626.0,488.9 626.5,489.5 627.0,490.4 627.5,495.1 628.0,491.0 628.5,494.5 629.0,496.5 629.5,492.6 630.0,490.8 630.5,497.1 631.0,492.6 631.5,494.6 632.0,496.0 632.5,496.7 633.0,495.4 633.5,494.3 634.0,498.1 634.5,496.4 635.0,500.4 635.5,494.3 636.0,496.5 636.5,497.0 637.0,498.8 637.5,498.6 638.0,498.7 638.5,503.5 639.0,499.2 639.5,501.0 640.0,500.8 640.5,499.3 641.0,502.6 641.5,496.9 642.0,503.8 642.5,497.9 643.0,500.7 643.5,501.6 644.0,500.2 644.5,499.9 645.0,503.5 645.5,505.9 646.0,502.5 646.5,500.1 647.0,497.9 647.5,497.1 648.0,501.0 648.5,499.8 649.0,500.4 649.5,499.4 650.0,499.9 650.5,495.6 651.0,495.3 651.5,495.0 652.0,497.6 652.5,497.7 653.0,498.9 653.5,496.4 654.0,499.9 654.5,501.7 655.0,500.3 655.5,494.2 656.0,500.1 656.5,499.2 657.0,501.9 657.5,499.3 658.0,500.9 658.5,498.6 659.0,500.2 659.5,501.8 660.0,499.3 660.5,501.0 661.0,501.1 661.5,502.5 662.0,501.4 662.5,503.1 663.0,498.3 663.5,502.1 664.0,504.6 664.5,504.3 665.0,500.7 665.5,501.2 666.0,503.9 666.5,503.9 667.0,504.3 667.5,503.6 668.0,504.0 668.5,506.4 669.0,502.3 669.5,501.6 670.0,507.2 670.5,503.4 671.0,506.6 671.5,503.5 672.0,502.4 672.5,508.0 673.0,504.2 673.5,501.0 674.0,503.4 674.5,503.5 675.0,503.5 675.5,504.6 676.0,502.1 676.5,504.6 677.0,506.8 677.5,507.7 678.0,507.1 678.5,505.5 679.0,503.1 679.5,510.7 680.0,504.8 680.5,506.0 681.0,506.7 681.5,507.3 682.0,505.9 682.5,503.9 683.0,505.6 683.5,510.4 684.0,511.6 684.5,506.1 685.0,508.5 685.5,503.7 686.0,508.6 686.5,510.2 687.0,508.3 687.5,513.3 688.0,511.4 688.5,510.8 689.0,503.7 689.5,508.1 690.0,510.9 690.5,508.2 691.0,505.3 691.5,507.9 692.0,512.5 692.5,510.6 693.0,511.0 693.5,509.5 694.0,512.6 694.5,502.8 695.0,506.2 695.5,512.9 696.0,510.7 696.5,508.6 697.0,507.1 697.5,503.6 698.0,506.5 698.5,507.0 699.0,505.3 699.5,510.5 700.0,510.0 700.5,507.4 701.0,510.3 701.5,508.6 702.0,509.6 702.5,508.2 703.0,514.9 703.5,506.3 704.0,509.3 704.5,511.8 705.0,511.6 705.5,505.5 706.0,506.8 706.5,508.4 707.0,506.5 707.5,506.4 708.0,507.0 708.5,506.8 709.0,509.2 709.5,502.7 710.0,508.4 710.5,505.2 711.0,506.6 711.5,504.2 712.0,509.9 712.5,500.4 713.0,506.8 713.5,503.0 714.0,503.3 714.5,506.9 715.0,503.3 715.5,505.8 716.0,507.1 716.5,502.7 717.0,508.7 717.5,507.2 718.0,504.0 718.5,505.1 719.0,503.0 719.5,505.2 720.0,506.4 720.5,506.5 721.0,504.6 721.5,502.7 722.0,502.3 722.5,501.5 723.0,502.9 723.5,504.7 724.0,502.1 724.5,501.9 725.0,501.0 725.5,504.6 726.0,502.6 726.5,499.5 727.0,505.3 727.5,504.9 728.0,502.2 728.5,501.0 729.0,501.2 729.5,498.8 730.0,502.5 730.5,502.9 731.0,501.7 731.5,499.6 732.0,499.2 732.5,499.5 733.0,501.8 733.5,496.0 734.0,497.4 734.5,495.6 735.0,494.1 735.5,497.1 736.0,498.5 736.5,493.3 737.0,497.4 737.5,496.4 738.0,495.7 738.5,497.4 739.0,492.9 739.5,497.9 740.0,493.7 740.5,495.9 741.0,491.6 741.5,497.5 742.0,495.9 742.5,495.0 743.0,494.5 743.5,497.6 744.0,500.4 744.5,499.0 745.0,497.4 745.5,496.8 746.0,496.5 746.5,498.4 747.0,496.0 747.5,499.1 748.0,502.8 748.5,500.6 749.0,500.8 749.5,500.2 750.0,503.4 750.5,503.5 751.0,505.4 751.5,500.9 752.0,500.2 752.5,501.5 753.0,500.3 753.5,503.1 754.0,502.5 754.5,501.9 755.0,504.2 755.5,507.1 756.0,507.1 756.5,504.8 757.0,507.0 757.5,508.3 758.0,509.8 758.5,508.2 759.0,506.6 759.5,510.6 760.0,508.0 760.5,509.5 761.0,509.8 761.5,512.5 762.0,509.4 762.5,510.7 763.0,509.9 763.5,509.1 764.0,512.2 764.5,509.2 765.0,511.3 765.5,510.9 766.0,506.3 766.5,506.9 767.0,503.7 767.5,511.5 768.0,511.6 768.5,510.2 769.0,510.4 769.5,511.2 770.0,510.7 770.5,512.3 771.0,512.5 771.5,510.8 772.0,516.1 772.5,515.3 773.0,512.4 773.5,518.2 774.0,519.0 774.5,516.5 775.0,516.7 775.5,513.1 776.0,514.0 776.5,511.5 777.0,514.3 777.5,517.6 778.0,514.8 778.5,512.1 779.0,519.3 779.5,519.9 780.0,518.6 780.5,511.6 781.0,516.4 781.5,512.4 782.0,513.6 782.5,515.1 783.0,516.8 783.5,512.0 784.0,512.6 784.5,510.8 785.0,513.8 785.5,511.8 786.0,513.2 786.5,516.2 787.0,514.7 787.5,515.2 788.0,515.7 788.5,517.0 789.0,518.4 789.5,512.8 790.0,511.8 790.5,516.5 791.0,516.9 791.5,518.4 792.0,517.0 792.5,519.0 793.0,516.2 793.5,513.5 794.0,517.0 794.5,512.8 795.0,513.1 795.5,515.5 796.0,513.9 796.5,516.5 797.0,513.6 797.5,518.5 798.0,512.2 798.5,516.1 799.0,513.7 799.5,518.0 800.0,513.9 800.5,517.2 801.0,508.9 801.5,514.7 802.0,520.4 802.5,517.5 803.0,517.6 803.5,519.6 804.0,523.1 804.5,515.5 805.0,517.9 805.5,517.2 806.0,519.9 806.5,516.9 807.0,515.3 807.5,515.7 808.0,520.9 808.5,520.4 809.0,522.3 809.5,517.4 810.0,519.4 810.5,520.7 811.0,524.3 811.5,523.8 812.0,522.9 812.5,521.4 813.0,524.3 813.5,523.0 814.0,526.2 814.5,528.3 815.0,524.9 815.5,522.3 816.0,530.1 816.5,526.4 817.0,526.3 817.5,525.4 818.0,525.5 818.5,525.4 819.0,525.7 819.5,521.7 820.0,523.3 820.5,524.5 821.0,524.9 821.5,524.8 822.0,525.2 822.5,520.1 823.0,521.8 823.5,522.4 824.0,524.1 824.5,523.3 825.0,528.0 825.5,522.8 826.0,523.0 826.5,520.0 827.0,527.4 827.5,523.4 828.0,522.8 828.5,521.5 829.0,523.0 829.5,521.9 830.0,525.3 830.5,520.8 831.0,521.6 831.5,521.5 832.0,524.2 832.5,523.8 833.0,525.5 833.5,524.8 834.0,525.1 834.5,524.2 835.0,526.2 835.5,525.4 836.0,525.2 836.5,520.9 837.0,523.4 837.5,522.9 838.0,520.3 838.5,527.0 839.0,527.2 839.5,526.2 840.0,524.9 840.5,526.7 841.0,519.5 841.5,525.8 842.0,518.4 842.5,523.1 843.0,522.9 843.5,523.8 844.0,524.2 844.5,524.4 845.0,521.4 845.5,521.5 846.0,521.2 846.5,523.4 847.0,522.4 847.5,519.6 848.0,525.2 848.5,520.4 849.0,521.8 849.5,521.1 850.0,521.1 850.5,524.0 851.0,521.2 851.5,519.7 852.0,521.6 852.5,521.0 853.0,520.1 853.5,525.7 854.0,526.5 854.5,520.9 855.0,527.6 855.5,528.2 856.0,521.0 856.5,524.9 857.0,523.3 857.5,525.6 858.0,517.1 858.5,524.9 859.0,522.7 859.5,524.6 860.0,525.6 860.5,518.6 861.0,523.8 861.5,524.1 862.0,525.6 862.5,526.9 863.0,526.1 863.5,522.8 864.0,526.1 864.5,522.8 865.0,526.1 865.5,523.8 866.0,523.6 866.5,524.1 867.0,520.0 867.5,522.5 868.0,520.3 868.5,524.6 869.0,525.1 869.5,518.7 870.0,516.7 870.5,521.9 871.0,519.9 871.5,519.0 872.0,525.9 872.5,519.9 873.0,518.5 873.5,520.1 874.0,521.3 874.5,524.1 875.0,521.2 875.5,517.6 876.0,519.1 876.5,524.1 877.0,516.0 877.5,519.6 878.0,522.1 878.5,520.0 879.0,518.9 879.5,517.4 880.0,519.7 880.5,520.6 881.0,520.0 881.5,521.8 882.0,520.0 882.5,522.5 883.0,519.9 883.5,521.5 884.0,518.7 884.5,523.1 885.0,521.9 885.5,520.6 886.0,516.8 886.5,519.4 887.0,512.6 887.5,518.5 888.0,519.9 888.5,518.0 889.0,520.7 889.5,522.3 890.0,525.4 890.5,522.0 891.0,519.1 891.5,517.9 892.0,523.3 892.5,526.3 893.0,527.3 893.5,525.6 894.0,524.4 894.5,524.8 895.0,526.5" fill="none" stroke="#008080" stroke-width="6.3" stroke-linejoin="round" stroke-linecap="butt" shape-rendering="crispEdges"/>
<path d="M151.0,658.2 151.5,662.8 152.0,657.0 152.5,656.5 153.0,660.0 153.5,657.2 154.0,654.6 154.5,654.6 155.0,658.2 155.5,656.7 156.0,661.4 156.5,656.8 157.0,655.0 157.5,656.3 158.0,655.2 158.5,660.4 159.0,656.0 159.5,660.9 160.0,658.7 160.5,661.8 161.0,656.9 161.5,658.9 162.0,652.2 162.5,655.8 163.0,655.2 163.5,659.4 164.0,656.7 164.5,658.7 165.0,655.9 165.5,654.9 166.0,657.9 166.5,661.3 167.0,658.5 167.5,662.3 168.0,658.2 168.5,658.2 169.0,658.3 169.5,658.6 170.0,657.7 170.5,658.9 171.0,657.7 171.5,657.4 172.0,663.4 172.5,662.2 173.0,659.8 173.5,659.4 174.0,657.4 174.5,662.4 175.0,659.7 175.5,665.5 176.0,657.2 176.5,661.7 177.0,663.4 177.5,659.2 178.0,664.6 178.5,661.9 179.0,661.4 179.5,656.9 180.0,660.6 180.5,660.2 181.0,657.8 181.5,661.2 182.0,657.7 182.5,651.7 183.0,657.4 183.5,660.5 184.0,655.3 184.5,658.5 185.0,655.6 185.5,657.2 186.0,651.3 186.5,653.3 187.0,656.7 187.5,656.0 188.0,652.9 188.5,658.5 189.0,657.4 189.5,654.4 190.0,651.5 190.5,657.2 191.0,654.6 191.5,657.3 192.0,658.2 192.5,654.9 193.0,655.2 193.5,657.4 194.0,655.2 194.5,651.4 195.0,657.1 195.5,656.4 196.0,654.3 196.5,656.6 197.0,654.4 197.5,654.2 198.0,656.7 198.5,651.8 199.0,651.2 199.5,654.5 200.0,652.0 200.5,657.0 201.0,653.5 201.5,651.4 202.0,654.5 202.5,650.4 203.0,658.5 203.5,655.2 204.0,656.6 204.5,656.1 205.0,655.2 205.5,652.2 206.0,656.1 206.5,653.6 207.0,652.6 207.5,649.9 208.0,657.6 208.5,654.5 209.0,654.4 209.5,651.4 210.0,658.0 210.5,655.9 211.0,658.5 211.5,656.1 212.0,654.2 212.5,657.1 213.0,652.1 213.5,651.8 214.0,654.4 214.5,655.1 215.0,654.5 215.5,650.1 216.0,648.4 216.5,647.6 217.0,645.3 217.5,643.6 218.0,644.8 218.5,641.7 219.0,641.4 219.5,643.6 220.0,640.5 220.5,637.9 221.0,639.7 221.5,637.0 222.0,637.9 222.5,633.7 223.0,633.1 223.5,630.8 224.0,635.6 224.5,635.3 225.0,633.9 225.5,631.2 226.0,629.9 226.5,628.2 227.0,629.2 227.5,626.9 228.0,624.4 228.5,628.4 229.0,627.8 229.5,626.7 230.0,625.2 230.5,624.5 231.0,625.6 231.5,626.1 232.0,623.4 232.5,625.4 233.0,624.6 233.5,630.0 234.0,625.1 234.5,626.0 235.0,627.4 235.5,630.4 236.0,628.9 236.5,635.7 237.0,634.4 237.5,628.5 238.0,635.3 238.5,636.6 239.0,634.0 239.5,637.5 240.0,638.8 240.5,638.3 241.0,641.0 241.5,643.5 242.0,643.2 242.5,645.7 243.0,644.4 243.5,649.3 244.0,646.8 244.5,650.9 245.0,652.6 245.5,651.3 246.0,646.0 246.5,647.3 247.0,645.1 247.5,645.9 248.0,642.3 248.5,641.3 249.0,643.1 249.5,641.5 250.0,646.6 250.5,646.5 251.0,647.0 251.5,647.2 252.0,648.4 252.5,651.9 253.0,650.4 253.5,650.1 254.0,653.6 254.5,648.8 255.0,646.7 255.5,645.4 256.0,647.1 256.5,641.6 257.0,640.0 257.5,642.0 258.0,640.8 258.5,640.3 259.0,634.3 259.5,636.3 260.0,633.2 260.5,634.5 261.0,629.3 261.5,631.5 262.0,633.6 262.5,630.9 263.0,624.3 263.5,631.1 264.0,629.0 264.5,626.7 265.0,626.3 265.5,624.5 266.0,626.8 266.5,623.2 267.0,618.8 267.5,619.7 268.0,624.6 268.5,623.2 269.0,622.4 269.5,619.1 270.0,622.4 270.5,624.1 271.0,622.8 271.5,625.1 272.0,627.0 272.5,627.8 273.0,627.5 273.5,628.5 274.0,625.6 274.5,628.5 275.0,631.8 275.5,634.7 276.0,632.2 276.5,635.2 277.0,633.8 277.5,632.6 278.0,636.6 278.5,637.5 279.0,635.2 279.5,635.9 280.0,638.5 280.5,637.7 281.0,640.3 281.5,636.6 282.0,641.7 282.5,638.8 283.0,641.3 283.5,637.4 284.0,643.2 284.5,641.9 285.0,646.5 285.5,638.5 286.0,638.4 286.5,644.4 287.0,645.0 287.5,639.3 288.0,644.7 288.5,645.7 289.0,646.9 289.5,644.2 290.0,640.7 290.5,639.9 291.0,649.0 291.5,645.4 292.0,646.8 292.5,644.1 293.0,644.6 293.5,645.2 294.0,644.4 294.5,646.7 295.0,645.8 295.5,648.3 296.0,652.5 296.5,650.8 297.0,649.6 297.5,655.2 298.0,654.5 298.5,652.0 299.0,648.1 299.5,654.8 300.0,654.8 300.5,650.4 301.0,654.6 301.5,649.3 302.0,650.2 302.5,649.3 303.0,650.3 303.5,649.0 304.0,652.0 304.5,647.5 305.0,648.8 305.5,647.4 306.0,647.4 306.5,644.7 307.0,646.1 307.5,649.0 308.0,647.6 308.5,643.1 309.0,644.7 309.5,643.2 310.0,643.8 310.5,643.9 311.0,642.5 311.5,646.1 312.0,646.9 312.5,645.1 313.0,643.5 313.5,644.7 314.0,642.5 314.5,646.4 315.0,649.2 315.5,638.1 316.0,644.9 316.5,644.2 317.0,644.5 317.5,643.6 318.0,640.9 318.5,644.0 319.0,643.3 319.5,643.8 320.0,643.8 320.5,642.6 321.0,648.6 321.5,640.5 322.0,642.2 322.5,640.0 323.0,642.3 323.5,645.9 324.0,642.2 324.5,640.4 325.0,639.2 325.5,643.2 326.0,640.4 326.5,643.3 327.0,640.3 327.5,640.5 328.0,641.5 328.5,637.9 329.0,644.0 329.5,638.7 330.0,641.5 330.5,642.0 331.0,646.1 331.5,641.8 332.0,642.5 332.5,639.4 333.0,640.2 333.5,640.4 334.0,642.7 334.5,638.1 335.0,641.1 335.5,646.4 336.0,637.8 336.5,635.7 337.0,638.2 337.5,638.7 338.0,642.2 338.5,639.0 339.0,639.8 339.5,635.0 340.0,635.7 340.5,635.7 341.0,632.4 341.5,634.1 342.0,632.1 342.5,632.6 343.0,628.4 343.5,626.6 344.0,633.7 344.5,630.6 345.0,630.1 345.5,636.0 346.0,632.5 346.5,631.3 347.0,628.8 347.5,631.0 348.0,630.6 348.5,629.4 349.0,633.0 349.5,631.3 350.0,630.8 350.5,627.6 351.0,627.7 351.5,631.6 352.0,629.6 352.5,627.7 353.0,629.6 353.5,628.8 354.0,627.7 354.5,628.1 355.0,630.0 355.5,628.8 356.0,625.9 356.5,625.8 357.0,627.8 357.5,624.5 358.0,626.3 358.5,624.2 359.0,619.5 359.5,614.7 360.0,615.6 360.5,613.4 361.0,607.5 361.5,603.9 362.0,595.7 362.5,592.3 363.0,593.5 363.5,594.4 364.0,603.1 364.5,602.2 365.0,605.2 365.5,608.0 366.0,612.9 366.5,610.1 367.0,610.7 367.5,614.5 368.0,616.6 368.5,613.9 369.0,617.0 369.5,614.5 370.0,619.5 370.5,614.5 371.0,616.6 371.5,616.4 372.0,615.5 372.5,617.4 373.0,619.1 373.5,615.8 374.0,621.9 374.5,618.4 375.0,618.7 375.5,616.6 376.0,618.4 376.5,620.9 377.0,617.1 377.5,618.2 378.0,618.2 378.5,617.4 379.0,621.8 379.5,618.7 380.0,624.1 380.5,617.8 381.0,620.0 381.5,621.1 382.0,619.3 382.5,617.3 383.0,621.2 383.5,623.4 384.0,622.3 384.5,626.0 385.0,622.6 385.5,628.7 386.0,634.0 386.5,632.7 387.0,633.6 387.5,631.1 388.0,630.9 388.5,633.6 389.0,629.1 389.5,629.7 390.0,624.6 390.5,626.1 391.0,624.7 391.5,618.9 392.0,623.1 392.5,624.3 393.0,624.2 393.5,623.9 394.0,626.3 394.5,623.9 395.0,623.1 395.5,627.6 396.0,631.1 396.5,626.5 397.0,631.2 397.5,627.9 398.0,625.1 398.5,626.1 399.0,625.1 399.5,628.1 400.0,624.0 400.5,620.7 401.0,620.4 401.5,621.4 402.0,616.4 402.5,613.2 403.0,613.8 403.5,609.4 404.0,610.6 404.5,610.0 405.0,606.5 405.5,603.2 406.0,602.0 406.5,595.8 407.0,599.4 407.5,598.1 408.0,590.0 408.5,582.9 409.0,584.0 409.5,580.9 410.0,578.6 410.5,581.1 411.0,579.8 411.5,577.5 412.0,580.2 412.5,576.8 413.0,573.6 413.5,576.0 414.0,571.7 414.5,573.3 415.0,572.2 415.5,574.8 416.0,573.9 416.5,573.8 417.0,576.4 417.5,577.7 418.0,578.3 418.5,581.3 419.0,577.8 419.5,582.2 420.0,586.3 420.5,583.9 421.0,580.7 421.5,589.6 422.0,589.0 422.5,593.0 423.0,594.1 423.5,596.6 424.0,599.3 424.5,598.0 425.0,600.3 425.5,596.6 426.0,598.2 426.5,600.7 427.0,605.3 427.5,600.7 428.0,602.5 428.5,605.5 429.0,603.6 429.5,602.6 430.0,601.7 430.5,608.4 431.0,604.6 431.5,608.2 432.0,608.9 432.5,605.9 433.0,609.3 433.5,603.9 434.0,608.7 434.5,607.0 435.0,610.2 435.5,610.5 436.0,610.9 436.5,612.4 437.0,610.1 437.5,608.7 438.0,609.6 438.5,614.9 439.0,610.7 439.5,612.4 440.0,614.0 440.5,612.9 441.0,611.1 441.5,608.5 442.0,615.1 442.5,611.7 443.0,609.3 443.5,611.3 444.0,612.8 444.5,608.2 445.0,612.8 445.5,612.4 446.0,613.3 446.5,612.3 447.0,610.1 447.5,608.6 448.0,611.8 448.5,611.0 449.0,615.5 449.5,611.5 450.0,613.1 450.5,612.3 451.0,608.3 451.5,613.9 452.0,611.2 452.5,609.1 453.0,613.2 453.5,615.0 454.0,612.0 454.5,611.5 455.0,610.6 455.5,610.9 456.0,614.1 456.5,611.5 457.0,611.9 457.5,611.8 458.0,603.5 458.5,609.8 459.0,610.2 459.5,608.9 460.0,604.7 460.5,605.7 461.0,608.5 461.5,607.6 462.0,607.3 462.5,603.4 463.0,606.2 463.5,608.5 464.0,605.2 464.5,607.9 465.0,606.7 465.5,606.4 466.0,602.9 466.5,602.7 467.0,602.4 467.5,606.2 468.0,606.3 468.5,601.1 469.0,600.4 469.5,603.3 470.0,605.8 470.5,603.4 471.0,604.1 471.5,603.8 472.0,603.9 472.5,602.3 473.0,603.6 473.5,604.0 474.0,602.2 474.5,606.1 475.0,600.0 475.5,601.4 476.0,600.3 476.5,604.3 477.0,604.3 477.5,600.2 478.0,602.0 478.5,600.8 479.0,598.9 479.5,600.3 480.0,603.0 480.5,603.8 481.0,601.3 481.5,603.2 482.0,605.3 482.5,606.8 483.0,604.7 483.5,602.3 484.0,600.7 484.5,604.3 485.0,603.5 485.5,602.9 486.0,602.7 486.5,603.0 487.0,604.7 487.5,606.0 488.0,603.0 488.5,609.1 489.0,608.3 489.5,604.9 490.0,606.3 490.5,609.0 491.0,603.7 491.5,604.2 492.0,604.0 492.5,602.7 493.0,606.0 493.5,603.5 494.0,603.7 494.5,603.2 495.0,602.1 495.5,605.5 496.0,601.6 496.5,599.9 497.0,598.6 497.5,599.9 498.0,601.7 498.5,601.5 499.0,601.6 499.5,599.9 500.0,601.6 500.5,601.4 501.0,597.5 501.5,600.7 502.0,600.5 502.5,598.8 503.0,601.5 503.5,599.0 504.0,597.0 504.5,600.5 505.0,602.1 505.5,595.7 506.0,598.1 506.5,600.4 507.0,600.2 507.5,601.7 508.0,603.1 508.5,597.2 509.0,603.5 509.5,599.3 510.0,601.5 510.5,601.8 511.0,605.7 511.5,601.2 512.0,605.0 512.5,601.3 513.0,608.7 513.5,602.9 514.0,603.7 514.5,601.0 515.0,602.2 515.5,606.4 516.0,604.3 516.5,601.6 517.0,603.5 517.5,604.7 518.0,609.3 518.5,605.6 519.0,607.2 519.5,608.8 520.0,611.9 520.5,608.2 521.0,604.5 521.5,604.7 522.0,610.5 522.5,607.7 523.0,602.6 523.5,605.8 524.0,606.0 524.5,606.3 525.0,608.6 525.5,608.8 526.0,610.3 526.5,603.3 527.0,608.1 527.5,607.0 528.0,605.0 528.5,609.1 529.0,604.1 529.5,603.8 530.0,610.1 530.5,607.1 531.0,607.6 531.5,608.3 532.0,602.2 532.5,607.5 533.0,604.4 533.5,605.0 534.0,605.3 534.5,604.8 535.0,602.5 535.5,603.5 536.0,604.1 536.5,606.4 537.0,599.6 537.5,608.0 538.0,603.2 538.5,610.3 539.0,606.8 539.5,609.7 540.0,605.3 540.5,609.5 541.0,606.5 541.5,606.3 542.0,606.3 542.5,599.7 543.0,602.0 543.5,601.8 544.0,605.8 544.5,605.4 545.0,608.0 545.5,607.3 546.0,609.7 546.5,605.7 547.0,608.4 547.5,606.7 548.0,605.5 548.5,604.3 549.0,608.2 549.5,606.5 550.0,607.6 550.5,606.9 551.0,606.8 551.5,615.8 552.0,610.1 552.5,607.6 553.0,610.5 553.5,611.4 554.0,608.6 554.5,614.5 555.0,610.5 555.5,613.9 556.0,611.8 556.5,611.1 557.0,620.0 557.5,611.4 558.0,609.3 558.5,611.2 559.0,609.8 559.5,614.0 560.0,612.1 560.5,608.0 561.0,614.0 561.5,609.1 562.0,606.2 562.5,611.2 563.0,609.9 563.5,606.0 564.0,605.7 564.5,607.8 565.0,606.6 565.5,609.3 566.0,608.7 566.5,605.3 567.0,605.3 567.5,606.8 568.0,609.7 568.5,604.8 569.0,606.8 569.5,603.2 570.0,604.8 570.5,601.7 571.0,603.1 571.5,599.5 572.0,599.1 572.5,604.4 573.0,601.5 573.5,596.1 574.0,601.0 574.5,597.6 575.0,600.7 575.5,594.4 576.0,597.0 576.5,596.1 577.0,595.4 577.5,594.1 578.0,600.8 578.5,596.1 579.0,594.9 579.5,591.5 580.0,597.1 580.5,596.6 581.0,593.3 581.5,590.2 582.0,594.3 582.5,593.0 583.0,589.8 583.5,597.7 584.0,594.8 584.5,591.0 585.0,591.5 585.5,595.2 586.0,596.2 586.5,594.9 587.0,594.8 587.5,592.8 588.0,598.2 588.5,592.9 589.0,594.0 589.5,594.3 590.0,592.8 590.5,595.1 591.0,596.9 591.5,588.5 592.0,593.1 592.5,596.5 593.0,596.9 593.5,592.8 594.0,594.6 594.5,591.8 595.0,589.3 595.5,584.7 596.0,585.4 596.5,583.2 597.0,582.0 597.5,577.8 598.0,576.8 598.5,578.4 599.0,582.7 599.5,574.4 600.0,574.3 600.5,578.2 601.0,571.6 601.5,568.5 602.0,576.4 602.5,577.6 603.0,577.8 603.5,577.6 604.0,578.5 604.5,575.1 605.0,579.7 605.5,575.9 606.0,575.3 606.5,578.9 607.0,577.1 607.5,578.0 608.0,579.4 608.5,580.2 609.0,581.6 609.5,579.1 610.0,580.1 610.5,581.1 611.0,581.9 611.5,582.7 612.0,583.6 612.5,582.6 613.0,583.4 613.5,584.1 614.0,582.9 614.5,583.5 615.0,581.2 615.5,583.9 616.0,585.6 616.5,582.0 617.0,586.5 617.5,582.6 618.0,586.6 618.5,588.6 619.0,586.2 619.5,585.9 620.0,589.0 620.5,588.4 621.0,588.6 621.5,594.3 622.0,589.1 622.5,596.7 623.0,594.7 623.5,600.5 624.0,599.3 624.5,606.6 625.0,603.3 625.5,601.0 626.0,613.6 626.5,607.6 627.0,607.5 627.5,608.0 628.0,607.6 628.5,609.3 629.0,607.2 629.5,614.1 630.0,607.9 630.5,611.2 631.0,612.9 631.5,609.6 632.0,612.2 632.5,609.2 633.0,608.5 633.5,609.2 634.0,613.8 634.5,614.1 635.0,610.2 635.5,615.0 636.0,611.2 636.5,614.2 637.0,615.9 637.5,610.4 638.0,616.9 638.5,615.4 639.0,613.3 639.5,618.7 640.0,618.2 640.5,618.8 641.0,617.6 641.5,616.9 642.0,615.6 642.5,618.0 643.0,616.0 643.5,617.2 644.0,618.9 644.5,619.5 645.0,618.3 645.5,617.7 646.0,616.1 646.5,618.5 647.0,618.8 647.5,614.8 648.0,614.7 648.5,613.4 649.0,614.8 649.5,614.5 650.0,619.8 650.5,618.4 651.0,612.3 651.5,617.1 652.0,614.8 652.5,611.5 653.0,616.1 653.5,614.1 654.0,616.5 654.5,617.2 655.0,614.8 655.5,619.9 656.0,617.3 656.5,615.6 657.0,614.2 657.5,623.2 658.0,616.9 658.5,619.2 659.0,620.1 659.5,621.7 660.0,617.0 660.5,614.8 661.0,620.7 661.5,617.4 662.0,620.4 662.5,626.0 663.0,620.4 663.5,623.7 664.0,620.2 664.5,629.9 665.0,622.9 665.5,625.1 666.0,624.4 666.5,623.6 667.0,627.6 667.5,624.7 668.0,623.1 668.5,623.8 669.0,624.0 669.5,624.7 670.0,624.5 670.5,622.1 671.0,622.5 671.5,628.1 672.0,622.7 672.5,626.3 673.0,622.2 673.5,623.9 674.0,621.7 674.5,618.7 675.0,621.8 675.5,625.0 676.0,625.7 676.5,625.2 677.0,621.4 677.5,621.8 678.0,619.8 678.5,622.8 679.0,623.8 679.5,622.2 680.0,619.8 680.5,622.1 681.0,621.2 681.5,622.0 682.0,620.4 682.5,621.2 683.0,619.2 683.5,619.1 684.0,615.6 684.5,622.0 685.0,622.2 685.5,620.0 686.0,625.9 686.5,625.5 687.0,626.8 687.5,622.9 688.0,622.6 688.5,623.9 689.0,625.3 689.5,626.6 690.0,621.1 690.5,622.9 691.0,618.9 691.5,623.0 692.0,626.0 692.5,625.8 693.0,629.9 693.5,626.5 694.0,624.3 694.5,623.8 695.0,626.2 695.5,629.3 696.0,622.8 696.5,623.3 697.0,625.5 697.5,624.5 698.0,627.2 698.5,624.1 699.0,625.4 699.5,625.5 700.0,626.3 700.5,629.3 701.0,623.8 701.5,623.3 702.0,624.3 702.5,627.4 703.0,628.7 703.5,629.9 704.0,629.6 704.5,629.3 705.0,625.1 705.5,627.6 706.0,630.0 706.5,626.2 707.0,627.9 707.5,627.9 708.0,629.9 708.5,626.8 709.0,624.9 709.5,627.8 710.0,627.9 710.5,630.3 711.0,627.1 711.5,627.9 712.0,627.3 712.5,627.4 713.0,633.1 713.5,622.7 714.0,629.6 714.5,626.3 715.0,628.0 715.5,624.0 716.0,627.5 716.5,624.8 717.0,627.4 717.5,628.7 718.0,622.4 718.5,621.2 719.0,627.0 719.5,628.6 720.0,624.1 720.5,619.4 721.0,620.5 721.5,626.1 722.0,627.8 722.5,623.4 723.0,620.4 723.5,625.6 724.0,619.4 724.5,620.4 725.0,619.8 725.5,619.2 726.0,621.3 726.5,617.4 727.0,619.5 727.5,621.4 728.0,621.3 728.5,621.9 729.0,618.1 729.5,615.2 730.0,619.5 730.5,619.6 731.0,619.7 731.5,618.1 732.0,619.8 732.5,616.2 733.0,620.0 733.5,621.9 734.0,618.1 734.5,617.8 735.0,619.2 735.5,619.2 736.0,619.6 736.5,619.3 737.0,618.7 737.5,623.4 738.0,617.8 738.5,623.5 739.0,619.4 739.5,622.7 740.0,619.7 740.5,618.5 741.0,619.8 741.5,620.1 742.0,625.4 742.5,621.3 743.0,621.4 743.5,621.2 744.0,623.8 744.5,624.4 745.0,626.2 745.5,624.0 746.0,623.3 746.5,626.2 747.0,628.5 747.5,628.3 748.0,624.4 748.5,625.3 749.0,627.0 749.5,624.7 750.0,622.7 750.5,626.2 751.0,625.0 751.5,626.8 752.0,628.4 752.5,626.0 753.0,625.1 753.5,626.6 754.0,630.7 754.5,629.7 755.0,631.6 755.5,629.4 756.0,632.0 756.5,629.4 757.0,629.1 757.5,630.5 758.0,630.3 758.5,630.2 759.0,631.0 759.5,633.3 760.0,630.1 760.5,628.2 761.0,633.5 761.5,637.3 762.0,636.0 762.5,631.4 763.0,635.5 763.5,637.2 764.0,637.0 764.5,639.2 765.0,637.1 765.5,629.1 766.0,636.6 766.5,633.6 767.0,633.2 767.5,631.5 768.0,632.4 768.5,634.5 769.0,637.8 769.5,637.9 770.0,636.9 770.5,638.2 771.0,634.7 771.5,633.8 772.0,640.0 772.5,636.9 773.0,635.2 773.5,637.7 774.0,634.5 774.5,639.8 775.0,633.4 775.5,635.2 776.0,636.0 776.5,636.0 777.0,633.7 777.5,638.4 778.0,637.8 778.5,636.5 779.0,637.6 779.5,635.2 780.0,638.4 780.5,634.8 781.0,633.6 781.5,635.5 782.0,635.4 782.5,636.6 783.0,637.3 783.5,639.5 784.0,632.8 784.5,632.2 785.0,636.4 785.5,638.7 786.0,638.1 786.5,635.6 787.0,635.3 787.5,635.2 788.0,639.8 788.5,635.3 789.0,636.5 789.5,633.0 790.0,637.7 790.5,635.3 791.0,634.9 791.5,634.8 792.0,635.2 792.5,641.5 793.0,636.9 793.5,637.0 794.0,633.9 794.5,632.5 795.0,630.9 795.5,634.4 796.0,636.1 796.5,636.4 797.0,632.7 797.5,637.6 798.0,635.1 798.5,639.2 799.0,636.6 799.5,637.7 800.0,636.6 800.5,637.3 801.0,639.6 801.5,641.4 802.0,642.3 802.5,639.7 803.0,638.9 803.5,642.9 804.0,645.0 804.5,641.1 805.0,641.3 805.5,641.2 806.0,642.8 806.5,644.1 807.0,639.9 807.5,642.8 808.0,645.0 808.5,643.2 809.0,640.2 809.5,638.8 810.0,642.3 810.5,645.4 811.0,644.5 811.5,646.3 812.0,642.7 812.5,644.2 813.0,642.7 813.5,646.2 814.0,644.9 814.5,643.9 815.0,645.0 815.5,647.1 816.0,647.7 816.5,647.3 817.0,650.4 817.5,646.6 818.0,642.6 818.5,646.8 819.0,642.3 819.5,641.6 820.0,645.6 820.5,642.7 821.0,644.0 821.5,642.9 822.0,643.7 822.5,640.3 823.0,646.1 823.5,646.8 824.0,643.5 824.5,646.7 825.0,645.7 825.5,646.3 826.0,646.8 826.5,640.7 827.0,645.1 827.5,642.9 828.0,644.8 828.5,642.6 829.0,647.7 829.5,646.9 830.0,643.3 830.5,644.5 831.0,644.3 831.5,644.7 832.0,646.6 832.5,642.8 833.0,642.2 833.5,648.1 834.0,646.7 834.5,645.1 835.0,644.7 835.5,642.9 836.0,645.4 836.5,642.0 837.0,645.9 837.5,646.0 838.0,643.6 838.5,647.2 839.0,646.6 839.5,645.5 840.0,643.6 840.5,644.0 841.0,643.7 841.5,641.7 842.0,646.3 842.5,648.0 843.0,643.1 843.5,647.2 844.0,645.6 844.5,646.1 845.0,647.1 845.5,647.3 846.0,643.5 846.5,646.4 847.0,643.7 847.5,639.1 848.0,649.4 848.5,645.2 849.0,644.7 849.5,648.7 850.0,647.1 850.5,645.1 851.0,647.0 851.5,647.4 852.0,646.3 852.5,641.4 853.0,646.9 853.5,644.4 854.0,644.0 854.5,646.3 855.0,650.9 855.5,643.4 856.0,646.7 856.5,642.7 857.0,642.4 857.5,645.2 858.0,647.9 858.5,646.4 859.0,646.3 859.5,648.2 860.0,646.3 860.5,643.7 861.0,642.6 861.5,643.9 862.0,645.2 862.5,643.7 863.0,643.9 863.5,643.4 864.0,643.2 864.5,642.7 865.0,644.1 865.5,650.2 866.0,649.0 866.5,650.1 867.0,647.5 867.5,647.1 868.0,649.1 868.5,646.4 869.0,649.6 869.5,647.1 870.0,648.3 870.5,644.6 871.0,650.1 871.5,646.4 872.0,647.2 872.5,644.0 873.0,644.1 873.5,647.2 874.0,642.0 874.5,648.5 875.0,644.5 875.5,648.1 876.0,644.7 876.5,646.2 877.0,646.6 877.5,648.6 878.0,644.7 878.5,647.8 879.0,647.2 879.5,648.0 880.0,644.2 880.5,645.8 881.0,643.8 881.5,644.3 882.0,647.2 882.5,647.3 883.0,642.6 883.5,644.4 884.0,644.7 884.5,643.1 885.0,644.6 885.5,643.4 886.0,647.4 886.5,644.3 887.0,649.7 887.5,642.3 888.0,647.9 888.5,647.9 889.0,645.0 889.5,642.5 890.0,646.5 890.5,643.2 891.0,648.1 891.5,645.8 892.0,645.4 892.5,645.6 893.0,647.0 893.5,645.2 894.0,646.4 894.5,646.0 895.0,644.0" fill="none" stroke="#008000" stroke-width="6.3" stroke-linejoin="round" stroke-linecap="butt" shape-rendering="crispEdges"/>
<path d="M151.0,798.4 151.5,798.9 152.0,798.3 152.5,799.7 153.0,799.3 153.5,799.8 154.0,797.8 154.5,800.0 155.0,798.7 155.5,798.5 156.0,798.9 156.5,800.1 157.0,799.5 157.5,799.5 158.0,799.9 158.5,800.0 159.0,800.0 159.5,799.9 160.0,799.4 160.5,799.6 161.0,798.3 161.5,799.1 162.0,797.6 162.5,799.1 163.0,799.2 163.5,798.5 164.0,798.7 164.5,799.7 165.0,798.7 165.5,798.9 166.0,800.1 166.5,799.0 167.0,799.3 167.5,799.0 168.0,799.0 168.5,799.4 169.0,798.4 169.5,799.0 170.0,798.1 170.5,798.2 171.0,798.9 171.5,798.0 172.0,796.6 172.5,798.3 173.0,799.3 173.5,797.8 174.0,798.9 174.5,798.2 175.0,797.4 175.5,798.3 176.0,796.9 176.5,799.3 177.0,798.2 177.5,798.8 178.0,798.5 178.5,797.5 179.0,798.3 179.5,799.4 180.0,799.1 180.5,798.3 181.0,798.0 181.5,798.5 182.0,797.6 182.5,798.7 183.0,797.4 183.5,797.9 184.0,799.0 184.5,798.4 185.0,797.9 185.5,798.4 186.0,798.1 186.5,798.4 187.0,798.9 187.5,798.0 188.0,796.9 188.5,798.2 189.0,797.3 189.5,798.6 190.0,798.4 190.5,797.6 191.0,797.9 191.5,796.4 192.0,796.2 192.5,797.1 193.0,797.5 193.5,798.1 194.0,796.7 194.5,796.4 195.0,796.4 195.5,796.5 196.0,797.1 196.5,795.9 197.0,797.4 197.5,795.9 198.0,798.3 198.5,796.6 199.0,796.7 199.5,795.4 200.0,796.7 200.5,795.0 201.0,796.9 201.5,795.7 202.0,796.2 202.5,796.3 203.0,796.5 203.5,796.7 204.0,796.5 204.5,796.2 205.0,795.2 205.5,794.8 206.0,796.0 206.5,795.7 207.0,795.1 207.5,795.4 208.0,796.0 208.5,796.0 209.0,794.9 209.5,794.4 210.0,793.9 210.5,794.8 211.0,794.8 211.5,794.0 212.0,795.5 212.5,795.9 213.0,793.9 213.5,794.7 214.0,793.8 214.5,793.8 215.0,792.9 215.5,791.9 216.0,791.8 216.5,790.7 217.0,788.9 217.5,788.5 218.0,786.8 218.5,786.2 219.0,785.7 219.5,784.7 220.0,782.5 220.5,783.3 221.0,781.5 221.5,781.9 222.0,781.7 222.5,779.6 223.0,779.4 223.5,780.2 224.0,779.3 224.5,777.0 225.0,778.4 225.5,776.5 226.0,775.3 226.5,775.2 227.0,773.3 227.5,772.0 228.0,769.9 228.5,768.8 229.0,765.1 229.5,761.9 230.0,759.1 230.5,756.8 231.0,754.5 231.5,751.0 232.0,749.1 232.5,746.1 233.0,744.9 233.5,745.2 234.0,746.9 234.5,748.3 235.0,747.7 235.5,753.0 236.0,754.7 236.5,757.2 237.0,760.6 237.5,762.2 238.0,765.4 238.5,768.2 239.0,771.9 239.5,775.9 240.0,776.5 240.5,777.7 241.0,780.0 241.5,780.3 242.0,781.6 242.5,782.7 243.0,784.5 243.5,784.6 244.0,785.5 244.5,786.4 245.0,785.7 245.5,787.2 246.0,786.4 246.5,786.8 247.0,787.3 247.5,787.6 248.0,787.2 248.5,787.9 249.0,787.1 249.5,787.2 250.0,786.2 250.5,785.8 251.0,787.1 251.5,784.4 252.0,786.0 252.5,784.4 253.0,785.0 253.5,783.2 254.0,783.8 254.5,782.8 255.0,780.1 255.5,779.8 256.0,779.2 256.5,777.8 257.0,775.5 257.5,772.8 258.0,771.0 258.5,767.7 259.0,764.1 259.5,759.7 260.0,753.7 260.5,748.3 261.0,742.9 261.5,738.5 262.0,732.9 262.5,728.4 263.0,725.3 263.5,719.6 264.0,718.6 264.5,718.2 265.0,720.1 265.5,722.3 266.0,724.3 266.5,728.4 267.0,732.3 267.5,736.0 268.0,740.2 268.5,744.5 269.0,748.1 269.5,752.1 270.0,757.3 270.5,763.2 271.0,765.5 271.5,769.8 272.0,770.7 272.5,772.1 273.0,774.5 273.5,777.0 274.0,778.1 274.5,779.2 275.0,780.4 275.5,781.4 276.0,782.2 276.5,783.3 277.0,782.5 277.5,785.1 278.0,785.5 278.5,785.8 279.0,786.8 279.5,786.1 280.0,786.9 280.5,785.5 281.0,787.7 281.5,787.6 282.0,788.6 282.5,789.0 283.0,788.5 283.5,788.0 284.0,789.3 284.5,789.8 285.0,790.0 285.5,789.2 286.0,789.2 286.5,789.8 287.0,789.5 287.5,788.9 288.0,790.9 288.5,791.2 289.0,791.6 289.5,790.8 290.0,791.6 290.5,791.1 291.0,791.2 291.5,792.8 292.0,791.4 292.5,792.6 293.0,794.6 293.5,793.9 294.0,793.6 294.5,793.5 295.0,793.0 295.5,792.6 296.0,794.3 296.5,792.6 297.0,792.2 297.5,792.8 298.0,792.1 298.5,792.8 299.0,791.2 299.5,790.8 300.0,790.8 300.5,792.0 301.0,791.2 301.5,790.5 302.0,790.1 302.5,790.0 303.0,788.9 303.5,789.6 304.0,788.5 304.5,788.6 305.0,787.8 305.5,787.4 306.0,786.2 306.5,786.4 307.0,785.2 307.5,783.7 308.0,783.7 308.5,782.5 309.0,782.4 309.5,782.2 310.0,780.8 310.5,780.9 311.0,780.9 311.5,781.0 312.0,782.7 312.5,782.0 313.0,781.6 313.5,783.1 314.0,783.5 314.5,786.3 315.0,785.0 315.5,785.4 316.0,787.3 316.5,787.0 317.0,787.6 317.5,788.2 318.0,788.3 318.5,789.0 319.0,788.2 319.5,790.0 320.0,790.9 320.5,792.1 321.0,791.1 321.5,791.8 322.0,790.9 322.5,792.5 323.0,793.1 323.5,791.7 324.0,791.2 324.5,791.4 325.0,792.3 325.5,790.3 326.0,791.9 326.5,790.3 327.0,790.3 327.5,790.9 328.0,791.0 328.5,791.1 329.0,791.3 329.5,789.4 330.0,790.0 330.5,790.4 331.0,789.9 331.5,790.3 332.0,789.3 332.5,788.9 333.0,787.4 333.5,787.5 334.0,789.1 334.5,787.6 335.0,788.4 335.5,788.4 336.0,787.7 336.5,788.2 337.0,786.8 337.5,787.4 338.0,786.6 338.5,785.4 339.0,784.7 339.5,785.7 340.0,786.6 340.5,785.9 341.0,785.1 341.5,784.9 342.0,784.6 342.5,783.5 343.0,784.2 343.5,783.0 344.0,782.1 344.5,784.7 345.0,782.1 345.5,781.1 346.0,781.3 346.5,779.5 347.0,779.0 347.5,780.6 348.0,779.2 348.5,777.5 349.0,776.6 349.5,777.0 350.0,775.6 350.5,776.6 351.0,773.5 351.5,774.9 352.0,772.5 352.5,771.4 353.0,771.3 353.5,769.3 354.0,768.7 354.5,767.5 355.0,765.0 355.5,764.6 356.0,764.3 356.5,760.9 357.0,759.1 357.5,756.6 358.0,754.9 358.5,751.8 359.0,749.2 359.5,744.8 360.0,743.9 360.5,741.7 361.0,738.9 361.5,738.4 362.0,736.4 362.5,734.5 363.0,733.1 363.5,731.9 364.0,733.1 364.5,733.1 365.0,733.1 365.5,733.8 366.0,734.7 366.5,737.0 367.0,738.0 367.5,738.2 368.0,741.1 368.5,743.1 369.0,744.0 369.5,745.6 370.0,747.5 370.5,750.6 371.0,752.3 371.5,755.2 372.0,758.0 372.5,761.6 373.0,762.0 373.5,766.9 374.0,766.4 374.5,768.6 375.0,769.4 375.5,771.1 376.0,772.5 376.5,774.8 377.0,774.9 377.5,774.4 378.0,775.8 378.5,776.4 379.0,776.4 379.5,777.6 380.0,777.7 380.5,777.4 381.0,777.4 381.5,778.5 382.0,778.1 382.5,779.2 383.0,779.0 383.5,777.7 384.0,777.1 384.5,778.7 385.0,778.2 385.5,778.0 386.0,778.3 386.5,779.8 387.0,778.7 387.5,780.1 388.0,779.4 388.5,777.6 389.0,779.1 389.5,779.8 390.0,777.5 390.5,777.9 391.0,778.7 391.5,778.3 392.0,779.8 392.5,778.0 393.0,779.6 393.5,777.3 394.0,777.5 394.5,778.2 395.0,778.1 395.5,777.6 396.0,778.3 396.5,778.1 397.0,777.9 397.5,776.0 398.0,776.2 398.5,774.8 399.0,774.7 399.5,770.0 400.0,768.7 400.5,766.1 401.0,762.7 401.5,761.0 402.0,755.7 402.5,753.1 403.0,750.2 403.5,748.9 404.0,746.6 404.5,746.5 405.0,745.1 405.5,741.9 406.0,740.8 406.5,741.9 407.0,740.6 407.5,738.3 408.0,738.5 408.5,736.8 409.0,737.3 409.5,734.7 410.0,734.1 410.5,733.7 411.0,732.0 411.5,731.2 412.0,729.1 412.5,725.8 413.0,724.7 413.5,721.1 414.0,719.9 414.5,716.6 415.0,712.7 415.5,709.2 416.0,701.5 416.5,693.8 417.0,685.5 417.5,679.5 418.0,677.1 418.5,678.0 419.0,682.7 419.5,685.7 420.0,691.1 420.5,697.5 421.0,704.4 421.5,709.0 422.0,715.2 422.5,722.0 423.0,729.5 423.5,735.0 424.0,740.7 424.5,742.9 425.0,746.3 425.5,747.4 426.0,750.5 426.5,754.2 427.0,753.7 427.5,755.4 428.0,757.7 428.5,757.8 429.0,759.5 429.5,760.6 430.0,762.4 430.5,762.3 431.0,765.4 431.5,765.6 432.0,766.7 432.5,767.5 433.0,768.6 433.5,767.9 434.0,771.4 434.5,770.7 435.0,772.8 435.5,772.9 436.0,773.6 436.5,774.8 437.0,776.3 437.5,775.6 438.0,775.8 438.5,777.0 439.0,775.4 439.5,776.9 440.0,777.1 440.5,777.9 441.0,777.5 441.5,779.5 442.0,779.0 442.5,779.7 443.0,779.9 443.5,780.0 444.0,780.1 444.5,781.7 445.0,781.7 445.5,782.4 446.0,781.5 446.5,782.0 447.0,782.2 447.5,781.8 448.0,782.2 448.5,781.1 449.0,781.5 449.5,781.6 450.0,781.4 450.5,782.5 451.0,782.3 451.5,782.1 452.0,781.4 452.5,782.1 453.0,781.7 453.5,781.2 454.0,780.2 454.5,781.2 455.0,778.9 455.5,778.2 456.0,778.0 456.5,779.4 457.0,778.2 457.5,777.3 458.0,775.7 458.5,776.8 459.0,775.9 459.5,774.6 460.0,776.3 460.5,774.9 461.0,775.1 461.5,773.3 462.0,772.9 462.5,771.1 463.0,771.1 463.5,769.5 464.0,769.3 464.5,768.1 465.0,766.3 465.5,766.2 466.0,765.5 466.5,764.2 467.0,763.9 467.5,764.0 468.0,763.8 468.5,762.5 469.0,760.6 469.5,762.6 470.0,763.3 470.5,761.9 471.0,761.5 471.5,762.4 472.0,762.4 472.5,763.0 473.0,762.1 473.5,763.9 474.0,763.4 474.5,762.2 475.0,763.8 475.5,763.1 476.0,763.9 476.5,763.8 477.0,763.7 477.5,764.0 478.0,763.6 478.5,763.5 479.0,763.9 479.5,764.0 480.0,764.5 480.5,764.4 481.0,763.0 481.5,763.8 482.0,761.6 482.5,760.1 483.0,757.6 483.5,754.7 484.0,752.4 484.5,748.7 485.0,748.8 485.5,747.0 486.0,743.9 486.5,740.7 487.0,739.1 487.5,736.0 488.0,735.0 488.5,731.3 489.0,728.7 489.5,727.2 490.0,725.8 490.5,725.8 491.0,724.7 491.5,724.9 492.0,725.6 492.5,728.7 493.0,730.3 493.5,733.5 494.0,737.8 494.5,740.3 495.0,742.9 495.5,746.0 496.0,749.3 496.5,751.2 497.0,753.0 497.5,757.0 498.0,757.6 498.5,759.3 499.0,762.0 499.5,762.6 500.0,764.5 500.5,765.0 501.0,765.0 501.5,765.0 502.0,764.9 502.5,766.4 503.0,764.5 503.5,766.6 504.0,766.4 504.5,766.3 505.0,766.8 505.5,765.5 506.0,767.5 506.5,767.5 507.0,768.2 507.5,766.4 508.0,768.4 508.5,768.6 509.0,767.6 509.5,769.5 510.0,770.3 510.5,770.3 511.0,771.8 511.5,772.5 512.0,772.4 512.5,773.1 513.0,774.5 513.5,773.8 514.0,775.4 514.5,776.5 515.0,776.0 515.5,776.7 516.0,776.8 516.5,777.7 517.0,776.3 517.5,776.4 518.0,777.2 518.5,777.6 519.0,778.9 519.5,779.4 520.0,779.0 520.5,779.7 521.0,778.7 521.5,778.7 522.0,778.1 522.5,780.1 523.0,779.8 523.5,779.5 524.0,778.6 524.5,778.9 525.0,780.0 525.5,779.6 526.0,780.4 526.5,779.7 527.0,779.1 527.5,778.7 528.0,779.5 528.5,780.6 529.0,780.7 529.5,778.7 530.0,779.5 530.5,778.5 531.0,779.1 531.5,776.7 532.0,778.1 532.5,777.1 533.0,779.1 533.5,777.6 534.0,777.9 534.5,777.3 535.0,776.0 535.5,777.1 536.0,777.0 536.5,775.7 537.0,775.1 537.5,774.6 538.0,773.1 538.5,771.4 539.0,769.1 539.5,768.3 540.0,767.1 540.5,766.8 541.0,766.0 541.5,763.9 542.0,763.5 542.5,760.1 543.0,761.1 543.5,759.2 544.0,759.7 544.5,759.0 545.0,757.9 545.5,756.8 546.0,756.2 546.5,755.8 547.0,753.5 547.5,754.4 548.0,752.6 548.5,751.5 549.0,752.7 549.5,752.8 550.0,752.7 550.5,752.4 551.0,753.8 551.5,753.9 552.0,756.6 552.5,756.0 553.0,756.9 553.5,757.1 554.0,758.7 554.5,760.3 555.0,759.3 555.5,760.2 556.0,759.9 556.5,762.0 557.0,764.0 557.5,762.8 558.0,764.1 558.5,764.6 559.0,765.6 559.5,765.9 560.0,766.7 560.5,766.6 561.0,767.8 561.5,768.4 562.0,768.2 562.5,766.1 563.0,767.7 563.5,766.4 564.0,765.7 564.5,763.1 565.0,762.0 565.5,761.5 566.0,760.8 566.5,757.6 567.0,757.1 567.5,755.8 568.0,753.7 568.5,752.3 569.0,749.6 569.5,748.8 570.0,744.8 570.5,744.5 571.0,742.5 571.5,741.9 572.0,741.0 572.5,739.8 573.0,743.6 573.5,744.0 574.0,745.0 574.5,746.0 575.0,747.8 575.5,748.9 576.0,750.8 576.5,753.2 577.0,753.2 577.5,754.3 578.0,757.2 578.5,756.2 579.0,757.4 579.5,757.8 580.0,758.9 580.5,759.6 581.0,759.8 581.5,759.7 582.0,760.2 582.5,761.4 583.0,763.1 583.5,761.0 584.0,762.5 584.5,763.2 585.0,762.6 585.5,763.2 586.0,763.1 586.5,763.7 587.0,764.3 587.5,762.8 588.0,763.2 588.5,763.1 589.0,762.7 589.5,762.4 590.0,760.6 590.5,761.8 591.0,760.6 591.5,760.7 592.0,760.8 592.5,760.4 593.0,759.2 593.5,758.7 594.0,758.3 594.5,757.2 595.0,758.3 595.5,757.3 596.0,754.2 596.5,753.2 597.0,750.0 597.5,745.8 598.0,744.1 598.5,740.7 599.0,737.0 599.5,732.7 600.0,730.2 600.5,726.1 601.0,724.3 601.5,720.3 602.0,715.7 602.5,711.5 603.0,709.5 603.5,704.1 604.0,703.0 604.5,700.8 605.0,700.9 605.5,699.1 606.0,701.0 606.5,702.9 607.0,703.3 607.5,704.1 608.0,705.6 608.5,708.6 609.0,711.9 609.5,714.5 610.0,715.8 610.5,719.2 611.0,722.9 611.5,726.8 612.0,730.1 612.5,735.5 613.0,738.4 613.5,742.7 614.0,745.9 614.5,748.4 615.0,749.8 615.5,752.9 616.0,755.2 616.5,756.8 617.0,757.8 617.5,759.7 618.0,760.9 618.5,762.1 619.0,763.6 619.5,764.5 620.0,764.3 620.5,765.4 621.0,765.6 621.5,766.0 622.0,765.6 622.5,766.9 623.0,766.9 623.5,767.3 624.0,767.4 624.5,765.7 625.0,763.2 625.5,759.4 626.0,755.5 626.5,753.4 627.0,751.2 627.5,749.9 628.0,750.6 628.5,751.1 629.0,754.3 629.5,756.1 630.0,759.1 630.5,763.8 631.0,765.2 631.5,766.9 632.0,768.4 632.5,769.3 633.0,770.0 633.5,769.5 634.0,770.3 634.5,769.9 635.0,768.9 635.5,769.4 636.0,769.2 636.5,770.3 637.0,769.0 637.5,769.5 638.0,769.9 638.5,771.1 639.0,770.9 639.5,770.2 640.0,770.6 640.5,770.3 641.0,772.4 641.5,769.4 642.0,769.2 642.5,769.3 643.0,769.8 643.5,770.7 644.0,771.7 644.5,771.1 645.0,771.3 645.5,771.6 646.0,772.1 646.5,771.6 647.0,772.9 647.5,772.6 648.0,773.0 648.5,773.4 649.0,773.5 649.5,773.8 650.0,772.7 650.5,773.7 651.0,772.3 651.5,772.0 652.0,773.1 652.5,773.6 653.0,773.7 653.5,773.6 654.0,773.9 654.5,772.1 655.0,772.9 655.5,773.1 656.0,772.7 656.5,773.5 657.0,773.7 657.5,773.6 658.0,773.5 658.5,775.0 659.0,773.5 659.5,773.5 660.0,774.3 660.5,774.6 661.0,772.7 661.5,772.6 662.0,774.1 662.5,773.8 663.0,773.5 663.5,772.6 664.0,773.1 664.5,771.5 665.0,771.5 665.5,773.2 666.0,771.1 666.5,771.7 667.0,772.1 667.5,771.8 668.0,770.7 668.5,771.0 669.0,771.7 669.5,770.9 670.0,772.2 670.5,770.9 671.0,772.2 671.5,770.9 672.0,771.7 672.5,771.1 673.0,770.8 673.5,769.8 674.0,771.1 674.5,770.7 675.0,770.9 675.5,770.2 676.0,769.9 676.5,769.8 677.0,770.3 677.5,771.0 678.0,770.0 678.5,769.4 679.0,769.5 679.5,769.3 680.0,768.8 680.5,769.6 681.0,769.3 681.5,769.4 682.0,770.9 682.5,770.2 683.0,770.4 683.5,769.4 684.0,769.5 684.5,768.7 685.0,768.0 685.5,768.1 686.0,768.9 686.5,769.4 687.0,770.6 687.5,769.0 688.0,768.0 688.5,768.8 689.0,769.4 689.5,768.3 690.0,768.8 690.5,769.6 691.0,769.4 691.5,769.6 692.0,769.5 692.5,769.5 693.0,770.5 693.5,770.3 694.0,769.9 694.5,770.2 695.0,769.9 695.5,769.9 696.0,770.3 696.5,770.2 697.0,771.8 697.5,770.3 698.0,770.4 698.5,771.6 699.0,769.5 699.5,770.2 700.0,771.0 700.5,770.3 701.0,770.1 701.5,769.6 702.0,770.2 702.5,769.8 703.0,771.1 703.5,770.9 704.0,770.4 704.5,771.6 705.0,770.3 705.5,770.5 706.0,771.8 706.5,771.7 707.0,770.9 707.5,771.3 708.0,771.8 708.5,771.6 709.0,772.2 709.5,772.0 710.0,772.4 710.5,772.0 711.0,772.2 711.5,771.6 712.0,772.0 712.5,771.7 713.0,771.6 713.5,770.9 714.0,769.9 714.5,769.6 715.0,770.0 715.5,768.4 716.0,768.0 716.5,768.5 717.0,767.3 717.5,766.8 718.0,765.2 718.5,764.7 719.0,765.0 719.5,765.9 720.0,762.8 720.5,762.4 721.0,763.5 721.5,762.7 722.0,761.3 722.5,761.9 723.0,760.8 723.5,759.7 724.0,759.3 724.5,758.3 725.0,758.2 725.5,756.9 726.0,755.9 726.5,755.6 727.0,755.9 727.5,755.9 728.0,754.3 728.5,753.7 729.0,754.3 729.5,754.7 730.0,753.6 730.5,754.8 731.0,753.3 731.5,754.8 732.0,754.5 732.5,753.0 733.0,754.7 733.5,754.4 734.0,754.7 734.5,754.6 735.0,755.4 735.5,755.2 736.0,756.1 736.5,757.1 737.0,757.7 737.5,757.9 738.0,758.1 738.5,758.3 739.0,758.3 739.5,758.3 740.0,760.7 740.5,760.9 741.0,762.7 741.5,763.2 742.0,766.0 742.5,768.2 743.0,768.7 743.5,770.9 744.0,771.4 744.5,772.7 745.0,773.0 745.5,771.9 746.0,773.9 746.5,773.9 747.0,773.8 747.5,774.3 748.0,773.5 748.5,772.8 749.0,771.7 749.5,773.7 750.0,770.5 750.5,770.7 751.0,770.2 751.5,770.9 752.0,770.0 752.5,769.8 753.0,768.0 753.5,768.5 754.0,769.3 754.5,768.1 755.0,767.4 755.5,768.2 756.0,767.6 756.5,768.0 757.0,768.3 757.5,767.5 758.0,768.4 758.5,769.7 759.0,769.0 759.5,769.5 760.0,769.7 760.5,770.9 761.0,771.6 761.5,771.2 762.0,772.5 762.5,774.1 763.0,772.5 763.5,774.8 764.0,775.3 764.5,774.1 765.0,774.5 765.5,775.6 766.0,777.2 766.5,776.0 767.0,776.7 767.5,776.9 768.0,776.9 768.5,778.5 769.0,777.5 769.5,776.6 770.0,777.8 770.5,778.1 771.0,777.1 771.5,778.0 772.0,777.6 772.5,777.3 773.0,777.6 773.5,778.9 774.0,778.4 774.5,777.5 775.0,779.2 775.5,778.7 776.0,777.0 776.5,778.4 777.0,777.7 777.5,779.0 778.0,781.4 778.5,781.1 779.0,780.0 779.5,779.4 780.0,779.3 780.5,779.7 781.0,780.5 781.5,781.3 782.0,780.6 782.5,781.5 783.0,780.7 783.5,779.4 784.0,781.2 784.5,781.8 785.0,781.6 785.5,782.0 786.0,780.7 786.5,781.2 787.0,781.6 787.5,781.9 788.0,782.1 788.5,782.5 789.0,781.7 789.5,781.4 790.0,781.9 790.5,782.2 791.0,782.1 791.5,781.9 792.0,783.2 792.5,783.4 793.0,783.5 793.5,783.4 794.0,783.3 794.5,782.7 795.0,782.8 795.5,783.3 796.0,781.9 796.5,783.3 797.0,781.8 797.5,784.4 798.0,783.5 798.5,782.6 799.0,783.0 799.5,782.6 800.0,783.9 800.5,783.5 801.0,782.7 801.5,782.2 802.0,782.8 802.5,782.5 803.0,782.2 803.5,781.8 804.0,781.0 804.5,781.1 805.0,781.6 805.5,780.9 806.0,781.4 806.5,783.3 807.0,782.1 807.5,782.6 808.0,781.7 808.5,783.1 809.0,782.2 809.5,782.7 810.0,782.8 810.5,782.3 811.0,783.2 811.5,781.1 812.0,781.4 812.5,781.8 813.0,781.2 813.5,781.3 814.0,782.3 814.5,780.4 815.0,780.5 815.5,779.7 816.0,779.3 816.5,778.3 817.0,779.7 817.5,780.1 818.0,778.9 818.5,779.6 819.0,777.6 819.5,778.2 820.0,778.1 820.5,778.6 821.0,778.0 821.5,778.2 822.0,778.8 822.5,776.9 823.0,777.5 823.5,777.8 824.0,777.0 824.5,777.7 825.0,776.1 825.5,776.6 826.0,777.1 826.5,776.0 827.0,778.6 827.5,778.4 828.0,778.0 828.5,777.6 829.0,777.7 829.5,776.8 830.0,776.8 830.5,775.6 831.0,777.6 831.5,776.8 832.0,775.6 832.5,776.3 833.0,777.2 833.5,775.7 834.0,776.4 834.5,775.2 835.0,776.3 835.5,776.6 836.0,774.9 836.5,775.9 837.0,776.7 837.5,776.1 838.0,777.2 838.5,776.7 839.0,776.8 839.5,775.1 840.0,775.2 840.5,776.0 841.0,776.0 841.5,775.2 842.0,775.3 842.5,774.7 843.0,775.0 843.5,775.5 844.0,776.1 844.5,775.5 845.0,775.6 845.5,775.0 846.0,775.2 846.5,775.5 847.0,774.1 847.5,775.4 848.0,775.1 848.5,775.3 849.0,774.9 849.5,774.1 850.0,774.2 850.5,774.5 851.0,772.7 851.5,773.8 852.0,773.9 852.5,773.9 853.0,773.6 853.5,773.5 854.0,773.9 854.5,773.7 855.0,774.9 855.5,774.0 856.0,773.8 856.5,774.4 857.0,773.7 857.5,773.6 858.0,774.4 858.5,774.1 859.0,773.2 859.5,772.3 860.0,772.7 860.5,773.3 861.0,771.7 861.5,772.4 862.0,772.5 862.5,771.3 863.0,773.0 863.5,771.9 864.0,770.9 864.5,771.2 865.0,772.0 865.5,772.6 866.0,771.8 866.5,771.6 867.0,771.3 867.5,772.5 868.0,772.3 868.5,770.3 869.0,771.3 869.5,771.7 870.0,771.1 870.5,771.6 871.0,771.7 871.5,770.6 872.0,772.1 872.5,771.3 873.0,771.9 873.5,771.3 874.0,771.1 874.5,772.0 875.0,771.4 875.5,772.2 876.0,771.5 876.5,772.7 877.0,770.7 877.5,771.3 878.0,770.9 878.5,770.7 879.0,771.7 879.5,770.7 880.0,771.7 880.5,772.8 881.0,772.3 881.5,771.7 882.0,771.9 882.5,772.6 883.0,773.3 883.5,772.0 884.0,772.3 884.5,772.5 885.0,771.9 885.5,772.0 886.0,771.5 886.5,771.7 887.0,769.8 887.5,769.6 888.0,769.1 888.5,767.7 889.0,767.4 889.5,766.9 890.0,765.3 890.5,765.2 891.0,764.0 891.5,763.6 892.0,762.6 892.5,761.8 893.0,761.7 893.5,761.0 894.0,759.7 894.5,757.5 895.0,757.1" fill="none" stroke="#0000A0" stroke-width="6.3" stroke-linejoin="round" stroke-linecap="butt" shape-rendering="crispEdges"/>
<path d="M151.0,917.2 151.5,917.6 152.0,915.5 152.5,915.0 153.0,915.5 153.5,914.4 154.0,914.8 154.5,915.4 155.0,915.0 155.5,915.4 156.0,914.5 156.5,914.6 157.0,914.9 157.5,915.5 158.0,915.7 158.5,915.8 159.0,915.3 159.5,914.8 160.0,915.1 160.5,915.4 161.0,914.5 161.5,914.8 162.0,914.4 162.5,915.5 163.0,915.4 163.5,914.6 164.0,915.5 164.5,914.8 165.0,914.5 165.5,914.7 166.0,914.3 166.5,913.3 167.0,913.4 167.5,912.8 168.0,913.9 168.5,913.5 169.0,914.0 169.5,913.1 170.0,912.9 170.5,914.3 171.0,914.2 171.5,912.9 172.0,914.3 172.5,913.3 173.0,914.5 173.5,913.9 174.0,913.1 174.5,913.3 175.0,913.2 175.5,911.4 176.0,913.4 176.5,912.7 177.0,913.2 177.5,911.0 178.0,912.9 178.5,912.4 179.0,911.5 179.5,913.2 180.0,912.4 180.5,911.3 181.0,911.2 181.5,911.9 182.0,912.5 182.5,911.6 183.0,911.0 183.5,912.1 184.0,910.6 184.5,911.5 185.0,911.0 185.5,910.3 186.0,909.9 186.5,909.7 187.0,909.8 187.5,910.3 188.0,909.3 188.5,908.5 189.0,909.5 189.5,909.1 190.0,908.3 190.5,908.6 191.0,907.7 191.5,908.4 192.0,907.0 192.5,906.3 193.0,906.1 193.5,906.1 194.0,905.7 194.5,905.0 195.0,904.6 195.5,903.8 196.0,903.9 196.5,904.8 197.0,903.4 197.5,902.6 198.0,902.5 198.5,902.1 199.0,902.1 199.5,901.4 200.0,902.3 200.5,900.9 201.0,901.0 201.5,901.8 202.0,900.8 202.5,901.4 203.0,900.5 203.5,901.1 204.0,902.0 204.5,900.2 205.0,901.2 205.5,900.4 206.0,901.2 206.5,901.1 207.0,901.7 207.5,901.1 208.0,900.8 208.5,902.5 209.0,902.3 209.5,902.9 210.0,902.1 210.5,901.8 211.0,900.9 211.5,900.2 212.0,900.6 212.5,899.3 213.0,900.3 213.5,899.7 214.0,898.5 214.5,898.3 215.0,897.0 215.5,896.1 216.0,897.3 216.5,895.2 217.0,895.6 217.5,894.0 218.0,894.2 218.5,894.1 219.0,892.1 219.5,891.8 220.0,891.8 220.5,891.6 221.0,891.4 221.5,890.4 222.0,889.9 222.5,889.2 223.0,888.6 223.5,888.9 224.0,887.7 224.5,886.7 225.0,886.0 225.5,885.5 226.0,884.2 226.5,884.4 227.0,883.3 227.5,880.8 228.0,879.8 228.5,878.6 229.0,878.2 229.5,876.5 230.0,876.6 230.5,876.4 231.0,876.8 231.5,877.4 232.0,880.3 232.5,879.5 233.0,879.6 233.5,880.0 234.0,879.4 234.5,880.2 235.0,881.8 235.5,881.9 236.0,883.1 236.5,883.0 237.0,883.9 237.5,884.1 238.0,884.9 238.5,885.2 239.0,886.1 239.5,885.5 240.0,886.0 240.5,886.0 241.0,886.5 241.5,886.9 242.0,886.6 242.5,885.3 243.0,886.0 243.5,886.1 244.0,886.2 244.5,886.0 245.0,886.2 245.5,887.0 246.0,886.8 246.5,887.3 247.0,885.5 247.5,885.9 248.0,885.7 248.5,887.1 249.0,886.9 249.5,886.1 250.0,886.1 250.5,886.6 251.0,887.2 251.5,887.4 252.0,886.0 252.5,886.8 253.0,885.9 253.5,886.6 254.0,886.8 254.5,885.2 255.0,884.7 255.5,882.3 256.0,883.6 256.5,881.7 257.0,881.7 257.5,882.0 258.0,880.0 258.5,881.6 259.0,879.0 259.5,878.9 260.0,877.1 260.5,876.7 261.0,874.7 261.5,873.8 262.0,871.2 262.5,872.0 263.0,870.7 263.5,868.9 264.0,867.9 264.5,866.6 265.0,866.0 265.5,865.9 266.0,865.5 266.5,865.5 267.0,865.6 267.5,865.6 268.0,865.5 268.5,866.0 269.0,866.3 269.5,868.0 270.0,867.7 270.5,868.7 271.0,870.4 271.5,870.5 272.0,872.3 272.5,872.7 273.0,874.2 273.5,877.8 274.0,875.7 274.5,878.1 275.0,877.9 275.5,878.1 276.0,878.4 276.5,880.0 277.0,879.7 277.5,880.2 278.0,881.4 278.5,879.8 279.0,879.5 279.5,881.0 280.0,881.8 280.5,881.3 281.0,882.3 281.5,882.4 282.0,882.4 282.5,882.4 283.0,883.9 283.5,885.6 284.0,886.3 284.5,887.1 285.0,888.4 285.5,888.9 286.0,889.9 286.5,889.3 287.0,890.4 287.5,889.5 288.0,889.2 288.5,887.9 289.0,887.4 289.5,888.3 290.0,887.8 290.5,888.9 291.0,887.0 291.5,886.5 292.0,887.3 292.5,885.2 293.0,886.2 293.5,885.0 294.0,883.8 294.5,884.2 295.0,884.9 295.5,884.8 296.0,884.5 296.5,883.9 297.0,884.4 297.5,884.5 298.0,884.3 298.5,885.2 299.0,884.9 299.5,883.8 300.0,884.1 300.5,884.1 301.0,885.0 301.5,885.8 302.0,886.5 302.5,886.1 303.0,886.0 303.5,886.1 304.0,886.2 304.5,888.6 305.0,887.7 305.5,887.8 306.0,889.4 306.5,888.0 307.0,888.3 307.5,888.5 308.0,886.9 308.5,886.8 309.0,889.2 309.5,887.0 310.0,885.1 310.5,885.4 311.0,885.2 311.5,885.2 312.0,884.4 312.5,883.4 313.0,883.8 313.5,884.4 314.0,883.3 314.5,883.2 315.0,883.6 315.5,883.3 316.0,886.0 316.5,886.0 317.0,886.2 317.5,886.8 318.0,887.6 318.5,886.8 319.0,886.3 319.5,887.7 320.0,885.6 320.5,886.5 321.0,887.2 321.5,887.1 322.0,885.8 322.5,885.4 323.0,884.9 323.5,884.4 324.0,884.0 324.5,884.4 325.0,883.3 325.5,883.6 326.0,882.4 326.5,881.4 327.0,881.0 327.5,882.0 328.0,880.0 328.5,880.6 329.0,879.0 329.5,879.6 330.0,878.7 330.5,878.3 331.0,877.8 331.5,877.6 332.0,877.9 332.5,878.4 333.0,877.6 333.5,876.7 334.0,877.4 334.5,875.5 335.0,876.8 335.5,878.1 336.0,875.2 336.5,876.4 337.0,877.1 337.5,877.6 338.0,877.1 338.5,876.1 339.0,877.2 339.5,877.1 340.0,875.8 340.5,875.9 341.0,875.1 341.5,875.2 342.0,875.8 342.5,873.9 343.0,874.9 343.5,874.0 344.0,873.6 344.5,872.7 345.0,873.2 345.5,872.5 346.0,872.3 346.5,871.5 347.0,872.6 347.5,872.5 348.0,873.5 348.5,873.3 349.0,873.5 349.5,873.5 350.0,873.7 350.5,873.8 351.0,874.7 351.5,873.2 352.0,872.8 352.5,873.2 353.0,873.2 353.5,871.7 354.0,870.6 354.5,871.2 355.0,869.5 355.5,868.5 356.0,868.7 356.5,869.2 357.0,868.5 357.5,869.3 358.0,868.8 358.5,869.4 359.0,869.7 359.5,868.3 360.0,870.8 360.5,870.7 361.0,870.9 361.5,871.0 362.0,870.9 362.5,872.1 363.0,871.3 363.5,871.7 364.0,869.9 364.5,871.6 365.0,870.0 365.5,869.5 366.0,868.0 366.5,867.4 367.0,867.4 367.5,864.6 368.0,866.7 368.5,865.0 369.0,864.7 369.5,865.1 370.0,866.4 370.5,865.7 371.0,866.8 371.5,865.9 372.0,867.0 372.5,868.6 373.0,868.0 373.5,867.7 374.0,869.3 374.5,869.8 375.0,870.0 375.5,870.7 376.0,870.9 376.5,870.4 377.0,871.2 377.5,871.0 378.0,871.3 378.5,870.8 379.0,871.8 379.5,871.3 380.0,872.3 380.5,870.6 381.0,872.1 381.5,870.7 382.0,871.5 382.5,870.5 383.0,870.5 383.5,871.3 384.0,869.8 384.5,871.2 385.0,871.8 385.5,870.8 386.0,869.4 386.5,870.6 387.0,870.0 387.5,870.1 388.0,869.9 388.5,870.4 389.0,870.6 389.5,869.4 390.0,869.7 390.5,868.2 391.0,869.4 391.5,866.9 392.0,866.2 392.5,866.0 393.0,866.1 393.5,865.5 394.0,863.3 394.5,863.7 395.0,863.1 395.5,863.8 396.0,861.4 396.5,860.2 397.0,859.5 397.5,859.7 398.0,859.5 398.5,858.4 399.0,856.9 399.5,854.8 400.0,853.2 400.5,851.0 401.0,850.2 401.5,846.3 402.0,843.5 402.5,841.8 403.0,840.2 403.5,837.7 404.0,838.0 404.5,837.3 405.0,836.5 405.5,835.2 406.0,835.0 406.5,834.8 407.0,834.6 407.5,833.7 408.0,832.2 408.5,832.8 409.0,832.6 409.5,830.8 410.0,828.5 410.5,829.5 411.0,828.6 411.5,826.9 412.0,825.6 412.5,825.7 413.0,824.8 413.5,823.8 414.0,823.5 414.5,823.8 415.0,824.5 415.5,824.3 416.0,824.0 416.5,824.9 417.0,826.0 417.5,826.8 418.0,827.0 418.5,828.7 419.0,828.6 419.5,830.5 420.0,831.7 420.5,832.0 421.0,832.5 421.5,833.8 422.0,833.3 422.5,836.7 423.0,836.6 423.5,837.8 424.0,839.4 424.5,840.3 425.0,842.1 425.5,843.1 426.0,844.3 426.5,846.2 427.0,846.9 427.5,847.4 428.0,848.9 428.5,849.6 429.0,851.8 429.5,851.6 430.0,852.9 430.5,855.0 431.0,854.6 431.5,855.5 432.0,856.1 432.5,855.1 433.0,856.4 433.5,857.0 434.0,856.7 434.5,857.2 435.0,856.4 435.5,857.2 436.0,857.2 436.5,857.5 437.0,856.8 437.5,857.4 438.0,858.1 438.5,857.5 439.0,858.2 439.5,858.7 440.0,857.9 440.5,857.5 441.0,857.5 441.5,856.2 442.0,856.0 442.5,855.2 443.0,854.9 443.5,856.0 444.0,854.2 444.5,854.4 445.0,854.0 445.5,853.9 446.0,854.0 446.5,854.1 447.0,854.6 447.5,854.3 448.0,854.9 448.5,854.7 449.0,854.8 449.5,855.0 450.0,856.2 450.5,854.6 451.0,855.3 451.5,855.9 452.0,855.8 452.5,854.9 453.0,854.7 453.5,855.2 454.0,855.8 454.5,855.3 455.0,854.6 455.5,854.2 456.0,853.9 456.5,853.7 457.0,852.6 457.5,852.4 458.0,852.9 458.5,853.8 459.0,852.6 459.5,851.2 460.0,851.4 460.5,851.8 461.0,851.1 461.5,851.7 462.0,851.0 462.5,850.8 463.0,850.4 463.5,851.4 464.0,851.3 464.5,851.4 465.0,851.5 465.5,851.0 466.0,851.7 466.5,850.4 467.0,851.4 467.5,850.6 468.0,850.5 468.5,850.2 469.0,850.8 469.5,850.4 470.0,850.7 470.5,849.3 471.0,849.8 471.5,848.9 472.0,849.5 472.5,849.7 473.0,848.1 473.5,849.0 474.0,847.6 474.5,848.8 475.0,847.8 475.5,847.8 476.0,846.7 476.5,848.0 477.0,846.9 477.5,846.5 478.0,847.1 478.5,845.9 479.0,846.1 479.5,845.9 480.0,845.5 480.5,846.5 481.0,846.7 481.5,845.1 482.0,846.4 482.5,846.1 483.0,845.1 483.5,845.6 484.0,846.4 484.5,844.8 485.0,844.7 485.5,844.4 486.0,846.1 486.5,845.5 487.0,844.5 487.5,845.1 488.0,845.8 488.5,845.6 489.0,846.7 489.5,846.5 490.0,847.6 490.5,847.4 491.0,847.7 491.5,847.6 492.0,848.4 492.5,848.8 493.0,847.5 493.5,848.7 494.0,849.2 494.5,849.1 495.0,848.9 495.5,848.7 496.0,848.4 496.5,848.6 497.0,849.2 497.5,849.0 498.0,849.8 498.5,849.7 499.0,850.0 499.5,851.0 500.0,850.5 500.5,850.9 501.0,849.5 501.5,850.8 502.0,849.8 502.5,851.0 503.0,849.0 503.5,849.1 504.0,849.7 504.5,850.1 505.0,847.8 505.5,848.1 506.0,847.5 506.5,848.6 507.0,848.5 507.5,847.3 508.0,847.4 508.5,846.4 509.0,845.9 509.5,846.7 510.0,845.9 510.5,846.4 511.0,845.6 511.5,846.3 512.0,845.3 512.5,845.2 513.0,845.5 513.5,844.9 514.0,845.4 514.5,844.1 515.0,843.8 515.5,844.7 516.0,844.3 516.5,843.6 517.0,843.5 517.5,844.1 518.0,845.0 518.5,845.6 519.0,845.8 519.5,846.5 520.0,847.7 520.5,848.2 521.0,848.4 521.5,846.8 522.0,846.3 522.5,846.8 523.0,845.8 523.5,845.8 524.0,845.3 524.5,843.9 525.0,843.4 525.5,842.0 526.0,841.6 526.5,842.5 527.0,843.0 527.5,840.7 528.0,840.8 528.5,841.3 529.0,842.0 529.5,840.6 530.0,841.7 530.5,842.6 531.0,840.7 531.5,841.4 532.0,842.7 532.5,843.1 533.0,842.1 533.5,843.4 534.0,844.0 534.5,843.4 535.0,844.9 535.5,845.5 536.0,846.4 536.5,847.4 537.0,847.2 537.5,847.1 538.0,847.6 538.5,847.5 539.0,847.8 539.5,847.9 540.0,846.4 540.5,845.5 541.0,844.7 541.5,844.6 542.0,843.2 542.5,842.5 543.0,841.3 543.5,841.1 544.0,840.3 544.5,840.7 545.0,839.6 545.5,839.7 546.0,838.7 546.5,838.0 547.0,836.4 547.5,836.8 548.0,836.0 548.5,836.8 549.0,836.2 549.5,836.2 550.0,836.1 550.5,837.5 551.0,836.2 551.5,838.6 552.0,838.9 552.5,839.4 553.0,840.5 553.5,841.6 554.0,842.4 554.5,843.2 555.0,842.3 555.5,842.2 556.0,843.0 556.5,842.9 557.0,841.4 557.5,841.2 558.0,841.5 558.5,840.8 559.0,840.9 559.5,839.7 560.0,839.3 560.5,841.0 561.0,839.5 561.5,839.4 562.0,838.4 562.5,837.5 563.0,838.3 563.5,838.3 564.0,837.2 564.5,837.1 565.0,837.5 565.5,837.1 566.0,836.3 566.5,837.7 567.0,837.8 567.5,836.4 568.0,838.5 568.5,836.9 569.0,836.9 569.5,837.1 570.0,837.6 570.5,837.6 571.0,836.6 571.5,837.5 572.0,837.5 572.5,836.7 573.0,835.6 573.5,836.0 574.0,836.0 574.5,836.6 575.0,835.6 575.5,835.9 576.0,837.1 576.5,835.1 577.0,834.7 577.5,835.1 578.0,835.1 578.5,834.9 579.0,833.8 579.5,832.8 580.0,832.1 580.5,832.2 581.0,831.8 581.5,830.4 582.0,829.3 582.5,829.0 583.0,827.9 583.5,826.8 584.0,827.4 584.5,826.1 585.0,824.2 585.5,825.1 586.0,824.2 586.5,823.6 587.0,823.5 587.5,825.3 588.0,823.5 588.5,822.8 589.0,823.0 589.5,823.3 590.0,822.6 590.5,821.9 591.0,820.8 591.5,819.7 592.0,817.6 592.5,816.7 593.0,815.4 593.5,814.1 594.0,813.3 594.5,814.0 595.0,813.3 595.5,813.3 596.0,812.3 596.5,812.6 597.0,812.5 597.5,813.4 598.0,812.7 598.5,812.7 599.0,812.7 599.5,813.9 600.0,812.9 600.5,813.0 601.0,813.8 601.5,814.0 602.0,815.3 602.5,816.0 603.0,816.5 603.5,817.5 604.0,819.1 604.5,821.4 605.0,822.5 605.5,824.3 606.0,824.2 606.5,826.5 607.0,828.5 607.5,830.3 608.0,831.6 608.5,832.6 609.0,832.8 609.5,835.2 610.0,836.0 610.5,836.4 611.0,838.3 611.5,839.7 612.0,841.1 612.5,842.4 613.0,842.9 613.5,843.6 614.0,843.9 614.5,844.7 615.0,844.5 615.5,846.0 616.0,845.8 616.5,846.8 617.0,846.8 617.5,846.5 618.0,847.0 618.5,847.4 619.0,847.9 619.5,846.7 620.0,848.1 620.5,850.2 621.0,849.5 621.5,850.7 622.0,850.0 622.5,849.7 623.0,850.7 623.5,850.9 624.0,850.8 624.5,852.1 625.0,852.3 625.5,851.0 626.0,852.5 626.5,851.7 627.0,850.3 627.5,851.5 628.0,851.0 628.5,850.7 629.0,849.7 629.5,850.9 630.0,850.4 630.5,852.3 631.0,851.0 631.5,851.2 632.0,852.9 632.5,852.4 633.0,854.5 633.5,853.5 634.0,854.7 634.5,853.8 635.0,854.1 635.5,854.5 636.0,854.0 636.5,854.9 637.0,854.2 637.5,855.5 638.0,855.3 638.5,854.0 639.0,856.2 639.5,855.3 640.0,854.8 640.5,855.6 641.0,855.8 641.5,856.7 642.0,857.2 642.5,857.9 643.0,857.0 643.5,858.3 644.0,858.1 644.5,857.8 645.0,858.3 645.5,857.9 646.0,858.5 646.5,857.7 647.0,857.8 647.5,857.1 648.0,856.9 648.5,856.8 649.0,855.7 649.5,855.8 650.0,855.6 650.5,855.2 651.0,854.7 651.5,855.4 652.0,855.5 652.5,856.1 653.0,855.1 653.5,855.1 654.0,854.3 654.5,854.9 655.0,855.7 655.5,856.2 656.0,855.3 656.5,856.1 657.0,856.1 657.5,856.4 658.0,855.7 658.5,854.9 659.0,855.5 659.5,856.1 660.0,855.1 660.5,855.5 661.0,855.0 661.5,855.3 662.0,854.8 662.5,856.4 663.0,855.3 663.5,855.9 664.0,856.2 664.5,855.8 665.0,855.4 665.5,855.8 666.0,855.7 666.5,856.5 667.0,856.3 667.5,857.5 668.0,856.8 668.5,857.6 669.0,857.0 669.5,856.7 670.0,857.8 670.5,858.9 671.0,859.1 671.5,859.5 672.0,858.8 672.5,859.0 673.0,859.5 673.5,859.4 674.0,860.1 674.5,860.4 675.0,860.7 675.5,859.8 676.0,861.3 676.5,859.4 677.0,860.5 677.5,860.5 678.0,860.9 678.5,860.9 679.0,861.8 679.5,860.8 680.0,861.8 680.5,860.8 681.0,861.6 681.5,862.0 682.0,862.5 682.5,861.3 683.0,860.8 683.5,863.3 684.0,861.9 684.5,862.5 685.0,862.8 685.5,864.0 686.0,863.8 686.5,864.4 687.0,864.7 687.5,864.5 688.0,864.3 688.5,865.5 689.0,865.6 689.5,865.4 690.0,864.3 690.5,865.2 691.0,865.9 691.5,865.5 692.0,866.4 692.5,867.4 693.0,865.9 693.5,866.0 694.0,866.3 694.5,866.8 695.0,864.4 695.5,865.3 696.0,866.4 696.5,865.5 697.0,864.5 697.5,865.8 698.0,864.8 698.5,866.2 699.0,866.3 699.5,865.6 700.0,865.2 700.5,866.3 701.0,865.8 701.5,865.9 702.0,865.7 702.5,865.8 703.0,865.4 703.5,866.4 704.0,866.5 704.5,865.1 705.0,864.7 705.5,865.7 706.0,865.8 706.5,865.2 707.0,865.4 707.5,865.0 708.0,864.5 708.5,864.3 709.0,864.0 709.5,864.5 710.0,863.6 710.5,865.7 711.0,864.4 711.5,865.5 712.0,865.7 712.5,865.7 713.0,865.8 713.5,865.4 714.0,865.7 714.5,866.3 715.0,866.1 715.5,864.7 716.0,865.1 716.5,863.8 717.0,864.4 717.5,864.0 718.0,862.7 718.5,863.9 719.0,861.8 719.5,862.9 720.0,860.7 720.5,861.7 721.0,859.8 721.5,860.4 722.0,859.6 722.5,860.4 723.0,859.7 723.5,859.9 724.0,860.2 724.5,859.4 725.0,859.6 725.5,860.1 726.0,859.5 726.5,860.3 727.0,859.1 727.5,861.5 728.0,861.0 728.5,859.6 729.0,860.2 729.5,860.6 730.0,861.3 730.5,861.6 731.0,862.0 731.5,862.3 732.0,861.1 732.5,862.1 733.0,862.2 733.5,862.9 734.0,862.7 734.5,862.1 735.0,863.2 735.5,865.4 736.0,864.3 736.5,865.4 737.0,865.0 737.5,865.3 738.0,865.9 738.5,866.2 739.0,867.2 739.5,866.8 740.0,866.2 740.5,868.2 741.0,868.3 741.5,868.0 742.0,868.5 742.5,869.3 743.0,869.4 743.5,868.9 744.0,870.6 744.5,871.6 745.0,870.4 745.5,870.2 746.0,871.8 746.5,872.4 747.0,871.4 747.5,871.3 748.0,871.7 748.5,872.5 749.0,872.4 749.5,873.0 750.0,873.1 750.5,872.4 751.0,873.6 751.5,874.2 752.0,872.1 752.5,873.0 753.0,872.8 753.5,872.4 754.0,872.8 754.5,872.0 755.0,873.0 755.5,872.2 756.0,871.7 756.5,872.5 757.0,872.3 757.5,873.2 758.0,872.6 758.5,872.4 759.0,874.0 759.5,873.2 760.0,873.5 760.5,874.4 761.0,873.4 761.5,873.9 762.0,873.7 762.5,875.6 763.0,874.2 763.5,874.2 764.0,874.4 764.5,876.4 765.0,876.1 765.5,875.1 766.0,875.2 766.5,877.2 767.0,875.5 767.5,875.9 768.0,875.5 768.5,877.5 769.0,875.6 769.5,875.2 770.0,876.2 770.5,876.2 771.0,875.8 771.5,875.5 772.0,874.8 772.5,875.2 773.0,876.8 773.5,874.6 774.0,876.3 774.5,876.9 775.0,876.3 775.5,875.7 776.0,876.3 776.5,876.3 777.0,874.8 777.5,876.0 778.0,875.1 778.5,874.5 779.0,876.4 779.5,875.3 780.0,876.0 780.5,875.1 781.0,876.5 781.5,876.3 782.0,875.7 782.5,875.4 783.0,875.5 783.5,876.0 784.0,875.6 784.5,875.4 785.0,876.4 785.5,876.3 786.0,876.9 786.5,876.9 787.0,875.8 787.5,876.8 788.0,876.5 788.5,876.4 789.0,877.6 789.5,877.6 790.0,878.3 790.5,878.1 791.0,879.0 791.5,878.7 792.0,879.1 792.5,879.7 793.0,880.1 793.5,878.8 794.0,877.8 794.5,877.9 795.0,879.4 795.5,879.6 796.0,878.8 796.5,879.0 797.0,877.8 797.5,877.6 798.0,878.6 798.5,878.4 799.0,878.4 799.5,878.7 800.0,878.6 800.5,878.0 801.0,880.1 801.5,880.1 802.0,880.0 802.5,880.6 803.0,881.9 803.5,881.4 804.0,881.5 804.5,882.8 805.0,883.3 805.5,883.5 806.0,883.6 806.5,883.4 807.0,883.1 807.5,882.2 808.0,883.3 808.5,883.1 809.0,884.5 809.5,883.3 810.0,884.0 810.5,884.5 811.0,883.5 811.5,883.8 812.0,885.6 812.5,886.0 813.0,884.7 813.5,886.1 814.0,887.3 814.5,886.3 815.0,887.2 815.5,887.5 816.0,887.4 816.5,887.4 817.0,886.2 817.5,887.0 818.0,887.3 818.5,887.5 819.0,888.1 819.5,888.2 820.0,887.2 820.5,886.2 821.0,885.0 821.5,885.1 822.0,885.5 822.5,884.3 823.0,884.2 823.5,884.5 824.0,882.9 824.5,882.7 825.0,883.8 825.5,883.1 826.0,883.1 826.5,882.6 827.0,881.7 827.5,883.0 828.0,881.8 828.5,882.3 829.0,882.3 829.5,882.2 830.0,881.2 830.5,882.2 831.0,881.2 831.5,882.1 832.0,881.7 832.5,882.9 833.0,881.7 833.5,882.0 834.0,882.0 834.5,880.9 835.0,881.9 835.5,881.9 836.0,881.4 836.5,881.7 837.0,881.9 837.5,881.9 838.0,881.9 838.5,882.2 839.0,882.3 839.5,881.5 840.0,882.0 840.5,882.0 841.0,882.0 841.5,882.4 842.0,882.5 842.5,883.8 843.0,884.8 843.5,884.5 844.0,885.1 844.5,885.4 845.0,885.7 845.5,886.3 846.0,887.4 846.5,886.7 847.0,888.8 847.5,888.5 848.0,888.0 848.5,887.5 849.0,888.2 849.5,887.2 850.0,888.3 850.5,886.8 851.0,886.8 851.5,885.8 852.0,886.7 852.5,886.1 853.0,885.9 853.5,886.5 854.0,884.9 854.5,884.4 855.0,884.3 855.5,885.2 856.0,885.6 856.5,885.7 857.0,886.4 857.5,887.0 858.0,886.2 858.5,887.7 859.0,886.9 859.5,886.9 860.0,888.2 860.5,888.5 861.0,888.7 861.5,888.0 862.0,889.7 862.5,889.3 863.0,888.9 863.5,889.6 864.0,889.9 864.5,889.9 865.0,889.7 865.5,891.2 866.0,890.1 866.5,890.6 867.0,890.5 867.5,890.7 868.0,889.5 868.5,891.6 869.0,891.3 869.5,890.2 870.0,890.8 870.5,889.9 871.0,890.1 871.5,889.3 872.0,888.1 872.5,888.3 873.0,888.0 873.5,887.5 874.0,886.4 874.5,887.1 875.0,887.3 875.5,886.9 876.0,886.0 876.5,887.3 877.0,886.0 877.5,886.4 878.0,886.1 878.5,885.9 879.0,886.6 879.5,886.1 880.0,886.3 880.5,886.1 881.0,887.6 881.5,888.1 882.0,888.0 882.5,888.0 883.0,888.3 883.5,889.1 884.0,888.5 884.5,888.9 885.0,889.2 885.5,888.9 886.0,889.2 886.5,889.4 887.0,888.7 887.5,889.9 888.0,888.3 888.5,888.5 889.0,888.4 889.5,888.0 890.0,887.1 890.5,887.5 891.0,886.6 891.5,886.8 892.0,886.9 892.5,886.7 893.0,886.0 893.5,885.4 894.0,886.7 894.5,885.2 895.0,886.1" fill="none" stroke="#0000FF" stroke-width="6.3" stroke-linejoin="round" stroke-linecap="butt" shape-rendering="crispEdges"/>
<path d="M151.0,999.0 151.5,1000.8 152.0,1000.6 152.5,999.8 153.0,999.8 153.5,1001.2 154.0,1001.0 154.5,1000.8 155.0,1001.3 155.5,1000.5 156.0,1000.9 156.5,1000.9 157.0,1002.1 157.5,1001.4 158.0,1000.8 158.5,1001.0 159.0,1002.1 159.5,1001.7 160.0,1001.2 160.5,1001.3 161.0,1002.0 161.5,1001.5 162.0,1001.7 162.5,1001.7 163.0,1001.0 163.5,1003.2 164.0,1003.1 164.5,1004.1 165.0,1005.9 165.5,1004.3 166.0,1005.2 166.5,1005.0 167.0,1005.1 167.5,1005.3 168.0,1005.7 168.5,1006.0 169.0,1007.0 169.5,1006.1 170.0,1005.4 170.5,1006.0 171.0,1004.7 171.5,1005.3 172.0,1004.7 172.5,1003.9 173.0,1004.1 173.5,1004.2 174.0,1003.6 174.5,1001.8 175.0,1001.6 175.5,1002.4 176.0,1002.2 176.5,1001.5 177.0,1002.8 177.5,1002.6 178.0,1003.1 178.5,1002.5 179.0,1003.4 179.5,1002.0 180.0,1002.1 180.5,1002.7 181.0,1002.5 181.5,1001.3 182.0,1001.7 182.5,1002.4 183.0,1002.0 183.5,1001.4 184.0,1001.5 184.5,1001.5 185.0,1001.3 185.5,1001.5 186.0,1001.5 186.5,1000.6 187.0,1002.3 187.5,1001.0 188.0,1000.7 188.5,1001.8 189.0,1000.6 189.5,999.9 190.0,999.8 190.5,1000.2 191.0,1000.1 191.5,999.4 192.0,1000.2 192.5,999.9 193.0,1001.2 193.5,1000.7 194.0,999.9 194.5,1001.0 195.0,1000.2 195.5,999.2 196.0,1000.3 196.5,1001.1 197.0,1000.3 197.5,999.9 198.0,1000.3 198.5,999.9 199.0,1000.5 199.5,1000.3 200.0,1000.0 200.5,1000.6 201.0,1001.2 201.5,1000.4 202.0,1000.9 202.5,1000.7 203.0,1000.1 203.5,1000.3 204.0,1001.1 204.5,1000.5 205.0,1000.8 205.5,999.3 206.0,1000.6 206.5,999.1 207.0,1001.2 207.5,1000.1 208.0,1000.4 208.5,999.3 209.0,999.6 209.5,998.8 210.0,998.7 210.5,999.1 211.0,998.5 211.5,998.3 212.0,998.0 212.5,998.6 213.0,998.1 213.5,998.3 214.0,996.7 214.5,996.2 215.0,996.5 215.5,996.6 216.0,995.1 216.5,996.2 217.0,995.5 217.5,995.9 218.0,995.8 218.5,995.5 219.0,995.3 219.5,995.6 220.0,996.5 220.5,994.9 221.0,996.0 221.5,995.8 222.0,995.6 222.5,995.7 223.0,995.5 223.5,994.0 224.0,993.0 224.5,989.8 225.0,988.9 225.5,984.2 226.0,984.4 226.5,981.9 227.0,980.6 227.5,980.1 228.0,979.8 228.5,979.7 229.0,979.3 229.5,980.0 230.0,979.2 230.5,979.4 231.0,979.6 231.5,980.5 232.0,980.7 232.5,982.1 233.0,981.3 233.5,982.0 234.0,982.5 234.5,982.8 235.0,983.5 235.5,983.7 236.0,983.3 236.5,983.9 237.0,984.5 237.5,983.8 238.0,985.1 238.5,986.1 239.0,986.0 239.5,985.1 240.0,985.4 240.5,986.2 241.0,986.4 241.5,987.7 242.0,987.9 242.5,988.6 243.0,989.2 243.5,991.2 244.0,992.3 244.5,995.5 245.0,996.1 245.5,997.5 246.0,998.9 246.5,1000.0 247.0,1000.7 247.5,1002.0 248.0,1002.3 248.5,1002.8 249.0,1001.8 249.5,1001.9 250.0,1001.2 250.5,1000.4 251.0,1000.4 251.5,999.9 252.0,998.9 252.5,998.3 253.0,997.8 253.5,996.1 254.0,997.0 254.5,995.4 255.0,997.1 255.5,995.2 256.0,994.9 256.5,994.4 257.0,992.6 257.5,993.8 258.0,991.8 258.5,992.0 259.0,991.4 259.5,990.3 260.0,987.2 260.5,987.4 261.0,987.1 261.5,985.8 262.0,985.8 262.5,986.1 263.0,985.2 263.5,983.6 264.0,982.7 264.5,983.2 265.0,982.5 265.5,981.1 266.0,980.0 266.5,980.7 267.0,980.0 267.5,979.0 268.0,978.0 268.5,976.6 269.0,976.4 269.5,975.1 270.0,976.3 270.5,974.4 271.0,974.6 271.5,975.3 272.0,976.1 272.5,978.1 273.0,978.9 273.5,979.3 274.0,981.4 274.5,982.9 275.0,985.1 275.5,984.5 276.0,986.4 276.5,987.2 277.0,988.7 277.5,989.7 278.0,989.6 278.5,991.5 279.0,990.1 279.5,991.2 280.0,991.1 280.5,991.0 281.0,992.0 281.5,992.6 282.0,992.6 282.5,993.0 283.0,993.8 283.5,994.0 284.0,995.6 284.5,996.2 285.0,996.6 285.5,998.0 286.0,996.6 286.5,997.9 287.0,999.6 287.5,998.3 288.0,999.4 288.5,999.0 289.0,998.7 289.5,998.4 290.0,997.6 290.5,997.3 291.0,996.9 291.5,998.1 292.0,997.6 292.5,997.6 293.0,996.5 293.5,997.0 294.0,997.4 294.5,996.1 295.0,996.1 295.5,996.0 296.0,997.3 296.5,996.5 297.0,996.9 297.5,997.2 298.0,995.3 298.5,995.5 299.0,993.8 299.5,995.2 300.0,994.7 300.5,995.0 301.0,995.0 301.5,993.5 302.0,994.8 302.5,994.2 303.0,993.5 303.5,993.6 304.0,994.3 304.5,993.1 305.0,994.2 305.5,993.5 306.0,993.0 306.5,992.3 307.0,992.3 307.5,993.6 308.0,993.0 308.5,993.3 309.0,993.5 309.5,994.2 310.0,994.6 310.5,994.4 311.0,995.3 311.5,995.5 312.0,996.5 312.5,995.8 313.0,997.1 313.5,998.5 314.0,997.4 314.5,998.1 315.0,999.0 315.5,998.4 316.0,999.4 316.5,999.7 317.0,1000.1 317.5,999.8 318.0,999.8 318.5,999.2 319.0,999.3 319.5,998.9 320.0,998.6 320.5,998.2 321.0,997.7 321.5,997.2 322.0,996.4 322.5,995.7 323.0,994.9 323.5,995.2 324.0,995.2 324.5,993.9 325.0,994.4 325.5,993.7 326.0,993.4 326.5,992.6 327.0,992.7 327.5,993.0 328.0,992.6 328.5,992.5 329.0,991.2 329.5,990.0 330.0,991.5 330.5,990.8 331.0,991.0 331.5,991.5 332.0,990.8 332.5,988.7 333.0,989.5 333.5,989.5 334.0,990.5 334.5,988.9 335.0,989.0 335.5,989.5 336.0,987.4 336.5,987.6 337.0,986.5 337.5,986.1 338.0,986.4 338.5,985.6 339.0,985.0 339.5,984.7 340.0,984.3 340.5,984.5 341.0,984.9 341.5,984.1 342.0,984.7 342.5,984.3 343.0,985.1 343.5,985.3 344.0,985.0 344.5,985.2 345.0,984.2 345.5,984.3 346.0,984.6 346.5,984.3 347.0,984.8 347.5,984.3 348.0,983.6 348.5,983.7 349.0,984.4 349.5,985.7 350.0,984.3 350.5,983.2 351.0,984.3 351.5,983.6 352.0,982.9 352.5,984.9 353.0,984.4 353.5,982.4 354.0,982.0 354.5,981.4 355.0,981.7 355.5,981.5 356.0,981.5 356.5,980.1 357.0,980.7 357.5,981.4 358.0,981.1 358.5,980.3 359.0,981.4 359.5,982.2 360.0,980.5 360.5,983.1 361.0,982.3 361.5,983.6 362.0,983.6 362.5,983.6 363.0,983.6 363.5,983.8 364.0,983.8 364.5,984.5 365.0,984.8 365.5,983.9 366.0,984.6 366.5,983.6 367.0,984.1 367.5,984.6 368.0,985.4 368.5,985.1 369.0,985.1 369.5,984.8 370.0,984.4 370.5,985.6 371.0,985.5 371.5,984.4 372.0,985.0 372.5,985.4 373.0,984.6 373.5,984.8 374.0,985.7 374.5,985.6 375.0,986.1 375.5,984.9 376.0,984.7 376.5,983.6 377.0,983.3 377.5,980.5 378.0,979.7 378.5,978.1 379.0,978.2 379.5,977.7 380.0,978.1 380.5,977.0 381.0,977.8 381.5,977.7 382.0,978.9 382.5,978.2 383.0,978.4 383.5,979.3 384.0,979.0 384.5,978.8 385.0,978.2 385.5,979.5 386.0,979.8 386.5,979.0 387.0,979.3 387.5,978.2 388.0,978.7 388.5,978.5 389.0,977.5 389.5,976.6 390.0,977.0 390.5,976.9 391.0,977.0 391.5,975.0 392.0,976.8 392.5,976.0 393.0,975.2 393.5,974.4 394.0,974.4 394.5,974.8 395.0,974.5 395.5,974.3 396.0,972.8 396.5,973.2 397.0,973.2 397.5,972.7 398.0,972.1 398.5,972.2 399.0,972.3 399.5,970.2 400.0,971.0 400.5,968.9 401.0,968.0 401.5,967.1 402.0,967.2 402.5,966.0 403.0,965.4 403.5,963.2 404.0,961.9 404.5,962.5 405.0,959.8 405.5,956.2 406.0,955.2 406.5,954.1 407.0,953.4 407.5,952.4 408.0,949.7 408.5,950.0 409.0,948.8 409.5,948.0 410.0,947.2 410.5,946.0 411.0,945.5 411.5,945.3 412.0,945.2 412.5,943.6 413.0,944.9 413.5,943.5 414.0,944.0 414.5,942.9 415.0,942.8 415.5,944.4 416.0,944.3 416.5,943.1 417.0,945.0 417.5,944.2 418.0,946.0 418.5,946.8 419.0,947.0 419.5,947.4 420.0,948.2 420.5,948.9 421.0,949.1 421.5,950.4 422.0,950.5 422.5,950.9 423.0,953.4 423.5,955.7 424.0,956.7 424.5,957.4 425.0,958.3 425.5,959.5 426.0,961.5 426.5,962.0 427.0,961.8 427.5,963.4 428.0,965.0 428.5,964.9 429.0,965.7 429.5,965.9 430.0,965.7 430.5,967.7 431.0,967.7 431.5,967.8 432.0,968.1 432.5,967.1 433.0,966.7 433.5,967.0 434.0,965.7 434.5,965.0 435.0,965.7 435.5,965.3 436.0,965.0 436.5,965.4 437.0,965.7 437.5,964.9 438.0,964.1 438.5,964.4 439.0,965.0 439.5,965.5 440.0,965.7 440.5,966.1 441.0,967.1 441.5,965.4 442.0,966.6 442.5,966.0 443.0,966.2 443.5,966.0 444.0,966.9 444.5,966.8 445.0,967.3 445.5,967.7 446.0,965.7 446.5,966.5 447.0,967.0 447.5,966.8 448.0,966.2 448.5,965.0 449.0,966.1 449.5,963.8 450.0,964.3 450.5,963.0 451.0,962.6 451.5,963.0 452.0,961.7 452.5,962.4 453.0,961.8 453.5,960.8 454.0,961.1 454.5,961.0 455.0,961.0 455.5,961.0 456.0,959.3 456.5,959.5 457.0,959.4 457.5,959.0 458.0,961.0 458.5,959.6 459.0,959.8 459.5,959.8 460.0,959.7 460.5,960.9 461.0,960.6 461.5,960.3 462.0,960.7 462.5,961.2 463.0,961.2 463.5,961.5 464.0,961.7 464.5,960.6 465.0,960.1 465.5,960.3 466.0,960.5 466.5,959.8 467.0,960.1 467.5,959.0 468.0,959.5 468.5,959.4 469.0,958.5 469.5,959.3 470.0,959.6 470.5,956.6 471.0,957.8 471.5,958.0 472.0,958.3 472.5,957.1 473.0,957.5 473.5,958.0 474.0,957.0 474.5,956.1 475.0,955.6 475.5,955.6 476.0,955.1 476.5,954.5 477.0,953.6 477.5,951.6 478.0,951.8 478.5,951.5 479.0,951.2 479.5,950.9 480.0,949.8 480.5,950.2 481.0,950.5 481.5,949.7 482.0,949.9 482.5,949.2 483.0,949.0 483.5,950.1 484.0,950.5 484.5,951.5 485.0,951.5 485.5,952.0 486.0,953.0 486.5,954.7 487.0,954.3 487.5,957.0 488.0,956.6 488.5,957.2 489.0,957.1 489.5,958.2 490.0,956.3 490.5,957.2 491.0,956.8 491.5,956.9 492.0,956.3 492.5,954.8 493.0,954.2 493.5,953.6 494.0,954.5 494.5,954.9 495.0,954.6 495.5,954.1 496.0,954.6 496.5,953.3 497.0,954.8 497.5,954.8 498.0,954.5 498.5,954.0 499.0,954.4 499.5,952.2 500.0,952.1 500.5,952.4 501.0,952.1 501.5,951.5 502.0,951.7 502.5,950.9 503.0,951.7 503.5,950.5 504.0,948.8 504.5,949.8 505.0,949.5 505.5,948.9 506.0,950.4 506.5,949.2 507.0,948.7 507.5,949.6 508.0,951.1 508.5,950.1 509.0,951.3 509.5,950.7 510.0,951.5 510.5,950.9 511.0,951.0 511.5,948.9 512.0,950.0 512.5,950.1 513.0,950.9 513.5,951.7 514.0,951.7 514.5,951.6 515.0,950.1 515.5,950.7 516.0,951.3 516.5,951.7 517.0,951.6 517.5,951.0 518.0,950.8 518.5,952.5 519.0,951.5 519.5,952.2 520.0,952.5 520.5,953.1 521.0,952.6 521.5,952.5 522.0,953.4 522.5,953.2 523.0,954.1 523.5,953.3 524.0,954.2 524.5,953.8 525.0,956.0 525.5,953.7 526.0,954.6 526.5,954.8 527.0,954.8 527.5,954.4 528.0,954.7 528.5,955.2 529.0,956.3 529.5,956.3 530.0,956.6 530.5,955.3 531.0,955.7 531.5,956.5 532.0,956.0 532.5,955.8 533.0,955.7 533.5,956.0 534.0,955.1 534.5,955.5 535.0,954.6 535.5,955.3 536.0,955.0 536.5,954.6 537.0,953.8 537.5,954.6 538.0,955.9 538.5,954.8 539.0,955.5 539.5,954.5 540.0,955.1 540.5,955.9 541.0,956.6 541.5,956.5 542.0,955.5 542.5,956.8 543.0,953.6 543.5,954.0 544.0,955.2 544.5,955.0 545.0,954.9 545.5,953.0 546.0,952.4 546.5,952.2 547.0,952.4 547.5,953.2 548.0,952.5 548.5,952.3 549.0,952.7 549.5,951.9 550.0,951.8 550.5,952.3 551.0,950.7 551.5,950.8 552.0,949.9 552.5,950.5 553.0,948.9 553.5,948.7 554.0,949.3 554.5,947.3 555.0,949.3 555.5,948.3 556.0,947.5 556.5,947.2 557.0,947.5 557.5,947.2 558.0,946.2 558.5,946.8 559.0,946.1 559.5,946.3 560.0,946.6 560.5,946.7 561.0,946.6 561.5,946.8 562.0,946.7 562.5,946.8 563.0,948.1 563.5,948.1 564.0,946.6 564.5,945.8 565.0,947.5 565.5,947.9 566.0,946.4 566.5,946.4 567.0,945.9 567.5,945.7 568.0,944.7 568.5,944.6 569.0,944.1 569.5,943.6 570.0,943.4 570.5,942.1 571.0,943.2 571.5,942.2 572.0,941.9 572.5,941.1 573.0,940.0 573.5,941.0 574.0,940.7 574.5,939.5 575.0,941.9 575.5,942.5 576.0,941.8 576.5,942.8 577.0,943.9 577.5,944.0 578.0,942.4 578.5,945.3 579.0,943.8 579.5,944.8 580.0,946.1 580.5,944.6 581.0,944.0 581.5,944.6 582.0,944.2 582.5,942.7 583.0,944.4 583.5,943.0 584.0,942.4 584.5,941.9 585.0,941.3 585.5,941.4 586.0,939.4 586.5,937.8 587.0,937.0 587.5,935.3 588.0,934.1 588.5,931.9 589.0,931.8 589.5,931.4 590.0,930.0 590.5,930.6 591.0,930.0 591.5,930.6 592.0,930.5 592.5,929.5 593.0,928.5 593.5,929.1 594.0,928.5 594.5,928.6 595.0,929.9 595.5,929.6 596.0,929.1 596.5,928.7 597.0,929.6 597.5,930.4 598.0,930.0 598.5,929.8 599.0,929.9 599.5,930.7 600.0,930.4 600.5,930.1 601.0,929.0 601.5,931.3 602.0,931.7 602.5,932.5 603.0,934.2 603.5,934.2 604.0,936.0 604.5,937.1 605.0,937.4 605.5,939.3 606.0,940.6 606.5,942.6 607.0,943.9 607.5,945.3 608.0,947.5 608.5,947.3 609.0,949.5 609.5,950.0 610.0,950.9 610.5,951.5 611.0,950.7 611.5,950.6 612.0,950.3 612.5,950.4 613.0,948.5 613.5,949.2 614.0,948.1 614.5,948.1 615.0,948.6 615.5,948.6 616.0,948.1 616.5,949.3 617.0,949.3 617.5,950.1 618.0,951.2 618.5,952.2 619.0,953.9 619.5,954.9 620.0,955.0 620.5,955.8 621.0,956.2 621.5,957.2 622.0,957.5 622.5,958.0 623.0,957.5 623.5,958.7 624.0,958.6 624.5,958.7 625.0,959.7 625.5,959.7 626.0,960.5 626.5,960.7 627.0,960.6 627.5,961.0 628.0,961.0 628.5,960.8 629.0,960.4 629.5,961.3 630.0,960.7 630.5,959.9 631.0,957.7 631.5,956.5 632.0,955.9 632.5,955.0 633.0,953.3 633.5,953.0 634.0,950.9 634.5,951.5 635.0,949.9 635.5,950.6 636.0,950.7 636.5,952.1 637.0,951.9 637.5,952.8 638.0,954.0 638.5,953.8 639.0,955.4 639.5,955.0 640.0,957.0 640.5,956.2 641.0,956.6 641.5,958.1 642.0,959.2 642.5,957.8 643.0,959.9 643.5,960.4 644.0,960.3 644.5,959.6 645.0,960.0 645.5,961.2 646.0,959.8 646.5,962.0 647.0,962.5 647.5,960.9 648.0,961.1 648.5,962.4 649.0,961.8 649.5,962.8 650.0,962.3 650.5,962.5 651.0,962.9 651.5,963.6 652.0,963.8 652.5,963.6 653.0,964.8 653.5,965.1 654.0,965.0 654.5,964.0 655.0,964.7 655.5,965.2 656.0,966.0 656.5,966.7 657.0,965.8 657.5,967.2 658.0,966.0 658.5,967.1 659.0,966.9 659.5,967.2 660.0,968.2 660.5,967.4 661.0,967.8 661.5,968.9 662.0,968.1 662.5,967.1 663.0,967.3 663.5,967.7 664.0,968.2 664.5,968.2 665.0,967.0 665.5,967.4 666.0,967.3 666.5,968.1 667.0,968.4 667.5,968.1 668.0,968.6 668.5,968.1 669.0,968.1 669.5,968.7 670.0,967.9 670.5,966.8 671.0,966.4 671.5,966.8 672.0,965.6 672.5,964.7 673.0,964.8 673.5,963.2 674.0,963.6 674.5,962.7 675.0,962.9 675.5,963.7 676.0,962.4 676.5,961.5 677.0,961.1 677.5,962.3 678.0,962.2 678.5,961.7 679.0,962.4 679.5,963.1 680.0,962.8 680.5,963.8 681.0,964.6 681.5,964.4 682.0,966.2 682.5,965.4 683.0,965.9 683.5,967.8 684.0,967.5 684.5,968.0 685.0,968.5 685.5,969.9 686.0,969.8 686.5,970.4 687.0,970.1 687.5,970.8 688.0,971.8 688.5,971.4 689.0,972.2 689.5,973.2 690.0,972.6 690.5,973.1 691.0,971.7 691.5,972.5 692.0,971.6 692.5,972.0 693.0,970.5 693.5,970.8 694.0,971.0 694.5,970.1 695.0,969.8 695.5,969.1 696.0,967.5 696.5,968.1 697.0,968.0 697.5,968.9 698.0,968.3 698.5,967.6 699.0,968.8 699.5,968.6 700.0,967.4 700.5,969.3 701.0,968.9 701.5,970.5 702.0,969.6 702.5,968.1 703.0,969.9 703.5,969.4 704.0,969.1 704.5,969.5 705.0,969.7 705.5,969.0 706.0,968.6 706.5,969.5 707.0,969.2 707.5,968.1 708.0,969.5 708.5,968.3 709.0,969.4 709.5,968.9 710.0,967.6 710.5,967.9 711.0,966.5 711.5,967.0 712.0,965.4 712.5,965.6 713.0,966.0 713.5,966.1 714.0,966.1 714.5,966.1 715.0,965.9 715.5,964.9 716.0,965.1 716.5,964.8 717.0,965.3 717.5,964.3 718.0,964.9 718.5,966.4 719.0,965.7 719.5,965.2 720.0,966.1 720.5,965.8 721.0,965.6 721.5,965.3 722.0,964.7 722.5,965.1 723.0,965.0 723.5,964.7 724.0,965.4 724.5,964.2 725.0,964.1 725.5,964.5 726.0,964.0 726.5,962.0 727.0,963.1 727.5,962.4 728.0,962.5 728.5,963.6 729.0,964.0 729.5,963.3 730.0,961.7 730.5,962.9 731.0,963.1 731.5,963.0 732.0,964.4 732.5,963.7 733.0,963.8 733.5,963.4 734.0,963.8 734.5,963.0 735.0,962.2 735.5,962.9 736.0,962.4 736.5,961.8 737.0,961.6 737.5,962.5 738.0,963.0 738.5,964.6 739.0,963.7 739.5,964.2 740.0,965.3 740.5,966.7 741.0,966.3 741.5,967.8 742.0,969.7 742.5,970.9 743.0,970.3 743.5,970.6 744.0,972.4 744.5,973.0 745.0,974.4 745.5,974.8 746.0,974.7 746.5,974.4 747.0,975.3 747.5,974.7 748.0,974.6 748.5,975.1 749.0,976.2 749.5,976.0 750.0,975.6 750.5,973.5 751.0,974.6 751.5,973.6 752.0,974.2 752.5,974.4 753.0,974.1 753.5,973.2 754.0,972.8 754.5,973.7 755.0,973.9 755.5,972.5 756.0,972.1 756.5,972.3 757.0,971.7 757.5,972.2 758.0,971.8 758.5,971.1 759.0,969.7 759.5,969.1 760.0,969.0 760.5,968.9 761.0,969.1 761.5,968.7 762.0,968.3 762.5,969.2 763.0,969.8 763.5,969.9 764.0,970.2 764.5,972.1 765.0,973.4 765.5,974.3 766.0,974.3 766.5,976.2 767.0,976.9 767.5,977.5 768.0,978.3 768.5,978.5 769.0,978.7 769.5,979.3 770.0,979.0 770.5,978.9 771.0,977.8 771.5,978.4 772.0,978.9 772.5,976.9 773.0,977.2 773.5,976.8 774.0,976.7 774.5,976.6 775.0,975.6 775.5,976.3 776.0,976.1 776.5,975.4 777.0,976.0 777.5,976.3 778.0,976.5 778.5,975.5 779.0,976.2 779.5,975.6 780.0,975.2 780.5,977.0 781.0,976.1 781.5,975.8 782.0,975.0 782.5,975.0 783.0,974.4 783.5,975.5 784.0,973.7 784.5,973.8 785.0,974.0 785.5,973.1 786.0,973.5 786.5,972.9 787.0,972.6 787.5,972.5 788.0,971.2 788.5,973.0 789.0,972.9 789.5,972.8 790.0,972.9 790.5,972.3 791.0,973.2 791.5,972.9 792.0,973.4 792.5,973.4 793.0,974.2 793.5,975.5 794.0,975.6 794.5,975.2 795.0,975.6 795.5,977.2 796.0,976.8 796.5,977.9 797.0,978.7 797.5,978.6 798.0,977.6 798.5,977.1 799.0,979.6 799.5,977.8 800.0,977.8 800.5,978.2 801.0,978.3 801.5,978.7 802.0,977.8 802.5,977.5 803.0,978.5 803.5,977.3 804.0,979.5 804.5,977.0 805.0,978.0 805.5,978.8 806.0,978.4 806.5,977.8 807.0,979.1 807.5,980.2 808.0,979.6 808.5,979.6 809.0,981.1 809.5,980.4 810.0,982.5 810.5,983.2 811.0,983.3 811.5,982.9 812.0,984.7 812.5,985.2 813.0,985.4 813.5,984.8 814.0,985.6 814.5,985.0 815.0,986.4 815.5,985.5 816.0,985.1 816.5,985.8 817.0,986.3 817.5,986.0 818.0,985.9 818.5,985.4 819.0,986.0 819.5,985.8 820.0,985.8 820.5,985.6 821.0,985.5 821.5,985.0 822.0,986.5 822.5,984.3 823.0,985.4 823.5,985.9 824.0,984.1 824.5,984.1 825.0,985.6 825.5,986.7 826.0,985.9 826.5,985.0 827.0,985.0 827.5,985.1 828.0,984.7 828.5,985.2 829.0,986.2 829.5,985.6 830.0,986.2 830.5,986.6 831.0,985.8 831.5,986.1 832.0,986.6 832.5,986.1 833.0,986.7 833.5,987.2 834.0,986.9 834.5,986.0 835.0,987.2 835.5,987.0 836.0,987.2 836.5,986.6 837.0,987.3 837.5,987.3 838.0,987.0 838.5,986.8 839.0,987.1 839.5,986.0 840.0,987.1 840.5,986.4 841.0,987.1 841.5,985.1 842.0,985.6 842.5,985.7 843.0,985.3 843.5,984.5 844.0,984.9 844.5,983.6 845.0,983.8 845.5,983.1 846.0,982.7 846.5,982.1 847.0,981.9 847.5,981.9 848.0,982.3 848.5,981.7 849.0,981.4 849.5,982.4 850.0,982.2 850.5,982.6 851.0,982.4 851.5,983.5 852.0,983.0 852.5,982.9 853.0,983.1 853.5,983.5 854.0,983.1 854.5,983.6 855.0,983.2 855.5,984.4 856.0,983.6 856.5,982.0 857.0,984.6 857.5,984.4 858.0,984.9 858.5,985.8 859.0,984.2 859.5,985.2 860.0,986.7 860.5,986.6 861.0,988.3 861.5,988.7 862.0,988.7 862.5,989.9 863.0,988.7 863.5,990.2 864.0,991.1 864.5,991.7 865.0,991.4 865.5,992.1 866.0,991.5 866.5,991.1 867.0,991.3 867.5,992.4 868.0,992.0 868.5,990.7 869.0,990.5 869.5,990.2 870.0,988.8 870.5,989.2 871.0,989.4 871.5,988.8 872.0,989.0 872.5,988.4 873.0,989.1 873.5,989.8 874.0,989.3 874.5,989.8 875.0,989.2 875.5,988.9 876.0,989.5 876.5,988.3 877.0,988.9 877.5,989.0 878.0,988.7 878.5,989.1 879.0,988.2 879.5,989.0 880.0,988.8 880.5,988.1 881.0,987.4 881.5,987.0 882.0,987.8 882.5,987.1 883.0,988.8 883.5,987.6 884.0,987.9 884.5,986.5 885.0,987.0 885.5,986.8 886.0,985.7 886.5,987.4 887.0,987.1 887.5,987.2 888.0,987.7 888.5,988.3 889.0,988.2 889.5,989.0 890.0,987.8 890.5,988.9 891.0,988.1 891.5,988.6 892.0,989.7 892.5,989.6 893.0,989.7 893.5,989.9 894.0,990.5 894.5,991.2 895.0,991.1" fill="none" stroke="#8000FF" stroke-width="6.3" stroke-linejoin="round" stroke-linecap="butt" shape-rendering="crispEdges"/>
<path d="M151.0,1140.0 151.5,1141.0 152.0,1140.3 152.5,1140.1 153.0,1139.8 153.5,1140.4 154.0,1139.9 154.5,1140.0 155.0,1139.9 155.5,1139.8 156.0,1139.3 156.5,1139.6 157.0,1140.3 157.5,1139.9 158.0,1139.6 158.5,1139.5 159.0,1139.6 159.5,1139.7 160.0,1139.8 160.5,1140.3 161.0,1140.0 161.5,1140.4 162.0,1139.3 162.5,1139.8 163.0,1139.3 163.5,1139.2 164.0,1139.9 164.5,1139.3 165.0,1139.8 165.5,1139.5 166.0,1140.1 166.5,1140.0 167.0,1139.1 167.5,1139.8 168.0,1139.5 168.5,1139.6 169.0,1139.2 169.5,1139.6 170.0,1139.4 170.5,1139.0 171.0,1138.4 171.5,1138.1 172.0,1139.0 172.5,1138.7 173.0,1138.1 173.5,1138.2 174.0,1139.2 174.5,1137.9 175.0,1138.3 175.5,1138.6 176.0,1138.8 176.5,1138.2 177.0,1138.2 177.5,1137.6 178.0,1138.1 178.5,1138.0 179.0,1137.6 179.5,1137.6 180.0,1138.3 180.5,1138.2 181.0,1138.7 181.5,1137.8 182.0,1137.2 182.5,1138.5 183.0,1138.0 183.5,1138.3 184.0,1137.5 184.5,1137.6 185.0,1138.1 185.5,1137.4 186.0,1137.6 186.5,1137.5 187.0,1137.7 187.5,1137.7 188.0,1137.1 188.5,1137.6 189.0,1137.1 189.5,1137.1 190.0,1137.1 190.5,1137.3 191.0,1136.9 191.5,1137.0 192.0,1136.5 192.5,1136.2 193.0,1136.2 193.5,1136.6 194.0,1136.4 194.5,1136.4 195.0,1135.8 195.5,1135.9 196.0,1136.1 196.5,1136.2 197.0,1136.1 197.5,1135.7 198.0,1135.6 198.5,1135.3 199.0,1135.5 199.5,1136.0 200.0,1135.5 200.5,1135.4 201.0,1135.6 201.5,1136.3 202.0,1135.3 202.5,1135.2 203.0,1134.9 203.5,1134.8 204.0,1135.5 204.5,1135.5 205.0,1135.2 205.5,1135.5 206.0,1135.6 206.5,1135.2 207.0,1135.5 207.5,1135.7 208.0,1134.9 208.5,1135.4 209.0,1135.4 209.5,1134.8 210.0,1136.1 210.5,1135.6 211.0,1135.9 211.5,1134.8 212.0,1135.2 212.5,1135.5 213.0,1134.9 213.5,1135.6 214.0,1134.5 214.5,1134.8 215.0,1134.6 215.5,1134.0 216.0,1134.3 216.5,1134.2 217.0,1133.6 217.5,1133.5 218.0,1133.5 218.5,1133.0 219.0,1132.3 219.5,1131.8 220.0,1131.3 220.5,1130.2 221.0,1129.3 221.5,1128.8 222.0,1128.0 222.5,1126.9 223.0,1126.4 223.5,1125.6 224.0,1125.0 224.5,1123.5 225.0,1123.2 225.5,1121.6 226.0,1120.0 226.5,1119.6 227.0,1118.2 227.5,1116.8 228.0,1115.3 228.5,1115.0 229.0,1113.5 229.5,1112.7 230.0,1112.3 230.5,1111.8 231.0,1110.8 231.5,1110.2 232.0,1109.3 232.5,1109.5 233.0,1108.9 233.5,1109.3 234.0,1110.3 234.5,1110.1 235.0,1110.6 235.5,1111.4 236.0,1112.5 236.5,1113.6 237.0,1115.2 237.5,1117.3 238.0,1118.8 238.5,1120.7 239.0,1122.7 239.5,1123.7 240.0,1124.6 240.5,1125.6 241.0,1126.2 241.5,1126.2 242.0,1126.6 242.5,1127.0 243.0,1127.7 243.5,1128.4 244.0,1128.3 244.5,1128.2 245.0,1129.1 245.5,1129.3 246.0,1129.5 246.5,1129.6 247.0,1129.3 247.5,1129.1 248.0,1129.6 248.5,1129.2 249.0,1129.3 249.5,1129.5 250.0,1128.4 250.5,1128.2 251.0,1128.1 251.5,1128.1 252.0,1128.0 252.5,1127.9 253.0,1127.2 253.5,1127.5 254.0,1126.7 254.5,1126.7 255.0,1126.7 255.5,1126.1 256.0,1125.3 256.5,1124.9 257.0,1124.4 257.5,1123.7 258.0,1122.1 258.5,1121.1 259.0,1120.2 259.5,1119.5 260.0,1118.0 260.5,1116.5 261.0,1114.7 261.5,1113.3 262.0,1112.4 262.5,1110.5 263.0,1109.2 263.5,1106.5 264.0,1104.5 264.5,1102.3 265.0,1099.9 265.5,1097.7 266.0,1096.7 266.5,1094.4 267.0,1093.0 267.5,1091.3 268.0,1090.4 268.5,1089.4 269.0,1088.6 269.5,1088.1 270.0,1088.6 270.5,1089.0 271.0,1090.6 271.5,1092.6 272.0,1093.4 272.5,1095.4 273.0,1097.9 273.5,1099.9 274.0,1102.0 274.5,1104.4 275.0,1107.1 275.5,1108.8 276.0,1110.3 276.5,1111.9 277.0,1114.2 277.5,1115.7 278.0,1117.7 278.5,1119.2 279.0,1121.4 279.5,1122.1 280.0,1123.4 280.5,1124.7 281.0,1124.1 281.5,1125.1 282.0,1125.3 282.5,1126.7 283.0,1126.8 283.5,1127.0 284.0,1127.4 284.5,1128.0 285.0,1128.3 285.5,1128.4 286.0,1129.0 286.5,1129.0 287.0,1129.7 287.5,1129.0 288.0,1129.4 288.5,1129.8 289.0,1130.0 289.5,1129.6 290.0,1130.2 290.5,1130.1 291.0,1130.4 291.5,1129.7 292.0,1130.2 292.5,1129.8 293.0,1130.0 293.5,1130.1 294.0,1129.7 294.5,1129.8 295.0,1130.4 295.5,1129.6 296.0,1130.0 296.5,1130.3 297.0,1130.3 297.5,1129.8 298.0,1129.6 298.5,1130.2 299.0,1129.7 299.5,1129.8 300.0,1129.6 300.5,1129.4 301.0,1129.6 301.5,1129.7 302.0,1129.2 302.5,1130.1 303.0,1129.6 303.5,1130.1 304.0,1129.9 304.5,1129.4 305.0,1129.5 305.5,1129.3 306.0,1129.4 306.5,1129.3 307.0,1129.4 307.5,1129.3 308.0,1129.2 308.5,1128.9 309.0,1128.6 309.5,1129.1 310.0,1129.0 310.5,1129.2 311.0,1128.8 311.5,1129.0 312.0,1128.6 312.5,1129.0 313.0,1128.8 313.5,1129.0 314.0,1129.7 314.5,1129.2 315.0,1128.9 315.5,1129.0 316.0,1128.9 316.5,1128.8 317.0,1128.8 317.5,1128.8 318.0,1128.7 318.5,1129.0 319.0,1128.9 319.5,1129.0 320.0,1128.5 320.5,1128.4 321.0,1128.9 321.5,1127.6 322.0,1127.9 322.5,1127.9 323.0,1127.8 323.5,1127.2 324.0,1127.2 324.5,1126.7 325.0,1126.8 325.5,1126.2 326.0,1126.8 326.5,1126.3 327.0,1125.8 327.5,1126.3 328.0,1125.6 328.5,1125.1 329.0,1125.3 329.5,1124.7 330.0,1124.1 330.5,1124.4 331.0,1124.6 331.5,1123.4 332.0,1123.6 332.5,1123.7 333.0,1123.4 333.5,1123.4 334.0,1122.9 334.5,1123.2 335.0,1122.6 335.5,1122.5 336.0,1122.5 336.5,1122.2 337.0,1122.0 337.5,1121.9 338.0,1121.7 338.5,1121.6 339.0,1121.3 339.5,1121.8 340.0,1121.6 340.5,1120.9 341.0,1121.2 341.5,1121.2 342.0,1120.8 342.5,1121.1 343.0,1120.6 343.5,1120.7 344.0,1120.2 344.5,1120.3 345.0,1120.1 345.5,1120.5 346.0,1120.0 346.5,1119.2 347.0,1118.7 347.5,1118.2 348.0,1117.7 348.5,1116.3 349.0,1116.2 349.5,1115.7 350.0,1114.8 350.5,1113.7 351.0,1112.9 351.5,1112.1 352.0,1112.4 352.5,1111.5 353.0,1111.1 353.5,1110.1 354.0,1109.5 354.5,1108.7 355.0,1108.8 355.5,1107.7 356.0,1107.4 356.5,1107.5 357.0,1107.1 357.5,1106.1 358.0,1106.0 358.5,1105.3 359.0,1105.0 359.5,1104.1 360.0,1104.3 360.5,1104.0 361.0,1103.9 361.5,1103.7 362.0,1103.5 362.5,1103.6 363.0,1103.2 363.5,1103.7 364.0,1103.4 364.5,1103.9 365.0,1104.0 365.5,1104.2 366.0,1104.6 366.5,1105.0 367.0,1105.8 367.5,1105.7 368.0,1106.4 368.5,1106.9 369.0,1107.8 369.5,1107.9 370.0,1107.9 370.5,1108.6 371.0,1109.8 371.5,1110.9 372.0,1111.6 372.5,1113.2 373.0,1113.4 373.5,1114.4 374.0,1115.8 374.5,1117.2 375.0,1118.1 375.5,1118.6 376.0,1119.5 376.5,1119.7 377.0,1120.0 377.5,1121.0 378.0,1121.1 378.5,1121.2 379.0,1121.9 379.5,1121.9 380.0,1122.9 380.5,1122.9 381.0,1122.7 381.5,1123.9 382.0,1123.8 382.5,1123.7 383.0,1124.1 383.5,1124.3 384.0,1124.1 384.5,1124.1 385.0,1124.3 385.5,1123.7 386.0,1123.7 386.5,1124.1 387.0,1123.3 387.5,1123.0 388.0,1123.0 388.5,1123.1 389.0,1122.3 389.5,1122.2 390.0,1121.9 390.5,1122.4 391.0,1121.9 391.5,1121.4 392.0,1121.3 392.5,1120.2 393.0,1120.0 393.5,1119.8 394.0,1119.7 394.5,1118.3 395.0,1118.3 395.5,1117.5 396.0,1116.8 396.5,1116.2 397.0,1115.1 397.5,1114.7 398.0,1112.7 398.5,1111.1 399.0,1108.6 399.5,1106.4 400.0,1103.6 400.5,1101.9 401.0,1099.5 401.5,1096.0 402.0,1093.3 402.5,1091.1 403.0,1087.4 403.5,1084.5 404.0,1080.9 404.5,1077.8 405.0,1074.2 405.5,1070.8 406.0,1067.2 406.5,1063.2 407.0,1060.1 407.5,1057.3 408.0,1054.7 408.5,1051.7 409.0,1049.1 409.5,1046.2 410.0,1043.0 410.5,1040.5 411.0,1038.0 411.5,1035.9 412.0,1035.1 412.5,1034.5 413.0,1033.8 413.5,1034.9 414.0,1035.8 414.5,1036.4 415.0,1038.2 415.5,1040.1 416.0,1042.7 416.5,1045.1 417.0,1046.9 417.5,1049.0 418.0,1052.4 418.5,1056.6 419.0,1060.7 419.5,1065.4 420.0,1069.7 420.5,1074.9 421.0,1078.7 421.5,1082.2 422.0,1084.8 422.5,1087.1 423.0,1089.4 423.5,1091.9 424.0,1094.2 424.5,1096.5 425.0,1097.7 425.5,1099.1 426.0,1101.4 426.5,1102.3 427.0,1102.8 427.5,1103.7 428.0,1104.5 428.5,1105.7 429.0,1105.9 429.5,1106.9 430.0,1107.2 430.5,1107.4 431.0,1108.2 431.5,1108.1 432.0,1108.9 432.5,1109.8 433.0,1109.8 433.5,1110.3 434.0,1110.4 434.5,1111.2 435.0,1111.0 435.5,1111.8 436.0,1112.5 436.5,1112.4 437.0,1113.2 437.5,1113.4 438.0,1113.8 438.5,1113.7 439.0,1114.2 439.5,1114.2 440.0,1114.6 440.5,1115.0 441.0,1115.6 441.5,1116.1 442.0,1115.5 442.5,1116.6 443.0,1115.7 443.5,1116.0 444.0,1117.3 444.5,1117.3 445.0,1117.1 445.5,1117.3 446.0,1117.3 446.5,1116.7 447.0,1117.6 447.5,1117.3 448.0,1116.7 448.5,1117.4 449.0,1117.3 449.5,1117.3 450.0,1116.9 450.5,1116.2 451.0,1116.1 451.5,1115.4 452.0,1115.1 452.5,1115.1 453.0,1114.0 453.5,1112.8 454.0,1112.9 454.5,1112.1 455.0,1111.8 455.5,1112.1 456.0,1111.3 456.5,1110.5 457.0,1110.2 457.5,1110.0 458.0,1109.1 458.5,1109.0 459.0,1107.5 459.5,1107.2 460.0,1106.6 460.5,1105.7 461.0,1105.5 461.5,1105.0 462.0,1104.7 462.5,1103.4 463.0,1103.7 463.5,1103.7 464.0,1103.8 464.5,1103.5 465.0,1103.5 465.5,1103.3 466.0,1104.0 466.5,1103.6 467.0,1104.2 467.5,1103.9 468.0,1104.0 468.5,1103.8 469.0,1103.8 469.5,1104.4 470.0,1104.3 470.5,1104.9 471.0,1104.2 471.5,1104.4 472.0,1105.2 472.5,1104.7 473.0,1104.8 473.5,1104.6 474.0,1105.2 474.5,1105.8 475.0,1106.1 475.5,1105.5 476.0,1106.4 476.5,1106.3 477.0,1106.6 477.5,1107.2 478.0,1107.2 478.5,1107.6 479.0,1107.9 479.5,1108.2 480.0,1108.3 480.5,1108.6 481.0,1108.4 481.5,1108.4 482.0,1108.5 482.5,1108.9 483.0,1108.7 483.5,1109.0 484.0,1108.9 484.5,1109.3 485.0,1108.5 485.5,1109.1 486.0,1108.8 486.5,1109.1 487.0,1108.1 487.5,1108.3 488.0,1107.9 488.5,1107.8 489.0,1107.8 489.5,1107.9 490.0,1108.0 490.5,1107.3 491.0,1107.1 491.5,1107.4 492.0,1107.6 492.5,1107.5 493.0,1107.6 493.5,1107.7 494.0,1107.6 494.5,1107.9 495.0,1108.5 495.5,1108.2 496.0,1108.0 496.5,1108.3 497.0,1108.6 497.5,1109.0 498.0,1109.3 498.5,1108.9 499.0,1109.4 499.5,1109.7 500.0,1109.8 500.5,1109.7 501.0,1110.1 501.5,1111.0 502.0,1110.5 502.5,1111.5 503.0,1111.2 503.5,1111.3 504.0,1112.0 504.5,1112.0 505.0,1111.1 505.5,1111.8 506.0,1111.6 506.5,1111.2 507.0,1111.3 507.5,1111.1 508.0,1111.9 508.5,1112.2 509.0,1110.9 509.5,1111.1 510.0,1111.3 510.5,1111.0 511.0,1111.6 511.5,1111.3 512.0,1111.2 512.5,1110.8 513.0,1110.8 513.5,1111.3 514.0,1110.7 514.5,1111.5 515.0,1111.1 515.5,1111.6 516.0,1111.4 516.5,1111.5 517.0,1111.4 517.5,1111.0 518.0,1111.0 518.5,1110.9 519.0,1111.0 519.5,1111.0 520.0,1110.6 520.5,1110.9 521.0,1110.2 521.5,1109.7 522.0,1109.7 522.5,1109.5 523.0,1109.9 523.5,1109.5 524.0,1109.1 524.5,1108.8 525.0,1108.7 525.5,1108.0 526.0,1108.9 526.5,1108.2 527.0,1108.2 527.5,1108.1 528.0,1107.5 528.5,1107.4 529.0,1107.1 529.5,1107.3 530.0,1107.2 530.5,1106.7 531.0,1107.3 531.5,1106.9 532.0,1107.2 532.5,1107.9 533.0,1107.7 533.5,1106.8 534.0,1107.3 534.5,1107.3 535.0,1107.7 535.5,1107.8 536.0,1107.2 536.5,1107.0 537.0,1107.3 537.5,1107.3 538.0,1106.6 538.5,1107.2 539.0,1107.0 539.5,1107.6 540.0,1107.3 540.5,1107.1 541.0,1107.3 541.5,1106.9 542.0,1107.0 542.5,1107.0 543.0,1106.3 543.5,1107.0 544.0,1107.0 544.5,1106.9 545.0,1106.9 545.5,1106.2 546.0,1106.6 546.5,1106.4 547.0,1106.3 547.5,1106.0 548.0,1106.0 548.5,1106.2 549.0,1105.8 549.5,1106.0 550.0,1105.7 550.5,1106.2 551.0,1106.6 551.5,1106.1 552.0,1105.9 552.5,1105.5 553.0,1105.7 553.5,1106.1 554.0,1105.9 554.5,1105.7 555.0,1105.2 555.5,1105.4 556.0,1105.8 556.5,1105.4 557.0,1105.8 557.5,1105.3 558.0,1104.6 558.5,1105.0 559.0,1103.2 559.5,1103.2 560.0,1102.3 560.5,1101.9 561.0,1101.4 561.5,1100.9 562.0,1099.8 562.5,1098.8 563.0,1098.1 563.5,1096.9 564.0,1096.4 564.5,1096.0 565.0,1095.1 565.5,1094.5 566.0,1093.5 566.5,1093.2 567.0,1092.3 567.5,1091.4 568.0,1090.5 568.5,1089.5 569.0,1089.2 569.5,1088.6 570.0,1088.1 570.5,1087.1 571.0,1086.3 571.5,1086.2 572.0,1085.7 572.5,1085.2 573.0,1084.7 573.5,1084.1 574.0,1084.2 574.5,1084.0 575.0,1084.0 575.5,1083.5 576.0,1083.2 576.5,1083.8 577.0,1083.6 577.5,1083.2 578.0,1082.6 578.5,1082.9 579.0,1083.4 579.5,1082.8 580.0,1082.8 580.5,1083.2 581.0,1082.8 581.5,1082.6 582.0,1082.3 582.5,1082.4 583.0,1082.0 583.5,1081.4 584.0,1079.6 584.5,1079.2 585.0,1077.9 585.5,1075.8 586.0,1073.7 586.5,1072.2 587.0,1070.2 587.5,1067.5 588.0,1065.5 588.5,1062.8 589.0,1058.9 589.5,1055.1 590.0,1051.2 590.5,1047.2 591.0,1041.9 591.5,1039.0 592.0,1035.3 592.5,1032.8 593.0,1030.4 593.5,1027.1 594.0,1024.9 594.5,1022.4 595.0,1020.8 595.5,1018.9 596.0,1019.2 596.5,1018.3 597.0,1018.7 597.5,1019.2 598.0,1021.0 598.5,1021.9 599.0,1023.2 599.5,1025.2 600.0,1026.1 600.5,1028.1 601.0,1030.4 601.5,1032.0 602.0,1034.3 602.5,1037.3 603.0,1040.9 603.5,1045.1 604.0,1049.0 604.5,1054.0 605.0,1057.8 605.5,1061.2 606.0,1064.4 606.5,1067.7 607.0,1070.7 607.5,1073.8 608.0,1077.0 608.5,1079.4 609.0,1081.5 609.5,1084.5 610.0,1086.7 610.5,1088.6 611.0,1090.1 611.5,1090.9 612.0,1092.5 612.5,1093.8 613.0,1094.7 613.5,1096.2 614.0,1097.2 614.5,1097.0 615.0,1098.9 615.5,1098.7 616.0,1099.6 616.5,1101.1 617.0,1101.3 617.5,1101.5 618.0,1101.3 618.5,1101.9 619.0,1102.3 619.5,1102.2 620.0,1102.9 620.5,1102.6 621.0,1103.7 621.5,1103.5 622.0,1103.6 622.5,1104.5 623.0,1104.5 623.5,1105.0 624.0,1104.3 624.5,1104.8 625.0,1105.1 625.5,1104.8 626.0,1105.5 626.5,1105.6 627.0,1105.7 627.5,1105.8 628.0,1105.5 628.5,1106.2 629.0,1106.4 629.5,1105.6 630.0,1105.7 630.5,1106.0 631.0,1105.7 631.5,1105.7 632.0,1105.9 632.5,1105.5 633.0,1105.4 633.5,1106.1 634.0,1105.5 634.5,1106.0 635.0,1105.4 635.5,1105.8 636.0,1105.4 636.5,1105.1 637.0,1105.6 637.5,1105.3 638.0,1105.1 638.5,1105.9 639.0,1105.8 639.5,1104.9 640.0,1105.1 640.5,1105.0 641.0,1104.9 641.5,1105.3 642.0,1105.5 642.5,1105.7 643.0,1105.1 643.5,1105.7 644.0,1106.0 644.5,1105.2 645.0,1105.9 645.5,1105.9 646.0,1106.5 646.5,1106.0 647.0,1106.7 647.5,1106.8 648.0,1106.8 648.5,1107.3 649.0,1107.0 649.5,1107.3 650.0,1107.6 650.5,1108.3 651.0,1108.6 651.5,1108.3 652.0,1108.3 652.5,1108.1 653.0,1108.2 653.5,1108.7 654.0,1109.0 654.5,1108.5 655.0,1108.4 655.5,1108.3 656.0,1108.5 656.5,1108.6 657.0,1108.0 657.5,1107.7 658.0,1107.6 658.5,1107.1 659.0,1107.0 659.5,1107.1 660.0,1106.6 660.5,1105.7 661.0,1106.5 661.5,1106.5 662.0,1104.9 662.5,1104.9 663.0,1105.0 663.5,1104.9 664.0,1103.8 664.5,1104.6 665.0,1104.3 665.5,1103.9 666.0,1103.6 666.5,1102.9 667.0,1103.3 667.5,1102.9 668.0,1103.2 668.5,1102.9 669.0,1102.6 669.5,1103.5 670.0,1103.6 670.5,1102.3 671.0,1102.9 671.5,1102.5 672.0,1103.0 672.5,1102.6 673.0,1103.1 673.5,1102.8 674.0,1103.2 674.5,1102.6 675.0,1103.4 675.5,1103.4 676.0,1103.6 676.5,1103.7 677.0,1104.2 677.5,1104.3 678.0,1104.0 678.5,1104.4 679.0,1104.3 679.5,1104.6 680.0,1105.5 680.5,1105.0 681.0,1105.8 681.5,1106.3 682.0,1106.3 682.5,1106.7 683.0,1106.3 683.5,1106.8 684.0,1106.9 684.5,1107.9 685.0,1107.7 685.5,1107.8 686.0,1108.3 686.5,1108.9 687.0,1108.5 687.5,1109.4 688.0,1109.4 688.5,1109.6 689.0,1110.0 689.5,1109.9 690.0,1110.0 690.5,1110.0 691.0,1110.8 691.5,1110.4 692.0,1110.8 692.5,1110.9 693.0,1111.5 693.5,1110.5 694.0,1111.3 694.5,1111.5 695.0,1111.6 695.5,1111.5 696.0,1111.8 696.5,1111.4 697.0,1111.3 697.5,1111.4 698.0,1111.4 698.5,1111.2 699.0,1111.2 699.5,1111.2 700.0,1111.2 700.5,1110.2 701.0,1110.1 701.5,1110.8 702.0,1109.8 702.5,1109.1 703.0,1109.4 703.5,1109.3 704.0,1109.3 704.5,1108.7 705.0,1108.5 705.5,1108.1 706.0,1108.1 706.5,1106.9 707.0,1107.1 707.5,1106.9 708.0,1106.5 708.5,1106.5 709.0,1105.5 709.5,1105.9 710.0,1105.5 710.5,1104.6 711.0,1104.6 711.5,1104.4 712.0,1103.5 712.5,1103.9 713.0,1103.5 713.5,1103.2 714.0,1102.5 714.5,1102.9 715.0,1103.0 715.5,1102.7 716.0,1102.4 716.5,1101.8 717.0,1101.7 717.5,1100.7 718.0,1100.6 718.5,1100.4 719.0,1100.1 719.5,1099.6 720.0,1099.4 720.5,1099.3 721.0,1098.3 721.5,1098.5 722.0,1097.9 722.5,1097.6 723.0,1097.1 723.5,1096.6 724.0,1095.9 724.5,1095.6 725.0,1095.0 725.5,1094.2 726.0,1093.1 726.5,1092.6 727.0,1092.1 727.5,1091.9 728.0,1090.9 728.5,1090.2 729.0,1089.9 729.5,1088.7 730.0,1088.8 730.5,1087.4 731.0,1087.8 731.5,1087.8 732.0,1087.3 732.5,1087.1 733.0,1087.7 733.5,1088.8 734.0,1089.5 734.5,1090.3 735.0,1091.1 735.5,1092.5 736.0,1093.5 736.5,1094.4 737.0,1095.7 737.5,1097.4 738.0,1097.8 738.5,1098.6 739.0,1099.4 739.5,1100.1 740.0,1101.2 740.5,1103.0 741.0,1103.8 741.5,1104.8 742.0,1105.9 742.5,1106.5 743.0,1107.5 743.5,1108.5 744.0,1109.6 744.5,1109.7 745.0,1109.9 745.5,1110.3 746.0,1111.1 746.5,1110.6 747.0,1110.3 747.5,1110.7 748.0,1110.7 748.5,1110.1 749.0,1110.0 749.5,1109.7 750.0,1109.3 750.5,1109.5 751.0,1109.6 751.5,1109.3 752.0,1108.8 752.5,1108.2 753.0,1108.4 753.5,1108.4 754.0,1108.2 754.5,1107.5 755.0,1107.2 755.5,1107.6 756.0,1107.2 756.5,1107.5 757.0,1107.3 757.5,1107.5 758.0,1107.3 758.5,1107.2 759.0,1108.0 759.5,1108.2 760.0,1108.9 760.5,1109.1 761.0,1109.9 761.5,1110.0 762.0,1110.7 762.5,1111.5 763.0,1112.1 763.5,1111.7 764.0,1112.5 764.5,1112.8 765.0,1113.0 765.5,1113.0 766.0,1113.2 766.5,1113.1 767.0,1113.4 767.5,1113.8 768.0,1112.9 768.5,1113.9 769.0,1113.1 769.5,1113.4 770.0,1113.2 770.5,1113.7 771.0,1113.4 771.5,1113.6 772.0,1112.9 772.5,1113.4 773.0,1113.7 773.5,1113.4 774.0,1113.1 774.5,1113.4 775.0,1113.8 775.5,1113.6 776.0,1113.7 776.5,1113.1 777.0,1113.4 777.5,1113.3 778.0,1113.4 778.5,1113.2 779.0,1113.3 779.5,1114.0 780.0,1113.3 780.5,1113.9 781.0,1113.7 781.5,1113.6 782.0,1114.1 782.5,1114.0 783.0,1114.4 783.5,1114.7 784.0,1114.3 784.5,1114.1 785.0,1114.1 785.5,1113.8 786.0,1114.4 786.5,1114.3 787.0,1115.3 787.5,1114.6 788.0,1114.7 788.5,1114.7 789.0,1115.1 789.5,1115.2 790.0,1115.0 790.5,1116.0 791.0,1116.0 791.5,1116.6 792.0,1116.5 792.5,1116.5 793.0,1117.0 793.5,1116.9 794.0,1117.5 794.5,1117.4 795.0,1117.7 795.5,1117.3 796.0,1117.9 796.5,1118.4 797.0,1118.5 797.5,1118.7 798.0,1119.3 798.5,1119.5 799.0,1119.0 799.5,1119.5 800.0,1119.8 800.5,1120.5 801.0,1120.1 801.5,1120.1 802.0,1120.3 802.5,1120.8 803.0,1119.9 803.5,1121.0 804.0,1121.2 804.5,1120.9 805.0,1121.4 805.5,1121.0 806.0,1121.0 806.5,1120.9 807.0,1121.4 807.5,1121.6 808.0,1121.6 808.5,1121.2 809.0,1121.7 809.5,1121.9 810.0,1121.9 810.5,1122.2 811.0,1121.5 811.5,1121.9 812.0,1121.7 812.5,1121.8 813.0,1121.6 813.5,1121.8 814.0,1121.3 814.5,1121.5 815.0,1121.9 815.5,1121.4 816.0,1121.4 816.5,1121.5 817.0,1121.5 817.5,1121.6 818.0,1120.9 818.5,1121.0 819.0,1120.6 819.5,1121.0 820.0,1120.8 820.5,1120.8 821.0,1120.3 821.5,1120.8 822.0,1120.1 822.5,1120.0 823.0,1120.2 823.5,1120.0 824.0,1120.4 824.5,1120.2 825.0,1119.9 825.5,1120.4 826.0,1120.2 826.5,1119.9 827.0,1119.7 827.5,1119.6 828.0,1119.9 828.5,1119.8 829.0,1119.9 829.5,1119.9 830.0,1119.8 830.5,1119.5 831.0,1119.7 831.5,1119.5 832.0,1118.8 832.5,1119.3 833.0,1119.7 833.5,1119.4 834.0,1119.1 834.5,1119.0 835.0,1119.1 835.5,1118.8 836.0,1118.4 836.5,1118.4 837.0,1119.4 837.5,1118.5 838.0,1118.5 838.5,1118.5 839.0,1118.5 839.5,1118.5 840.0,1118.3 840.5,1118.1 841.0,1118.1 841.5,1118.1 842.0,1118.5 842.5,1118.5 843.0,1118.2 843.5,1118.4 844.0,1117.7 844.5,1117.6 845.0,1117.1 845.5,1118.0 846.0,1117.8 846.5,1117.3 847.0,1117.8 847.5,1117.5 848.0,1117.6 848.5,1117.7 849.0,1117.5 849.5,1117.3 850.0,1117.1 850.5,1117.5 851.0,1116.8 851.5,1117.1 852.0,1117.2 852.5,1117.3 853.0,1116.4 853.5,1116.9 854.0,1116.7 854.5,1116.6 855.0,1116.9 855.5,1116.7 856.0,1115.8 856.5,1116.8 857.0,1116.2 857.5,1116.7 858.0,1116.3 858.5,1116.2 859.0,1116.4 859.5,1116.6 860.0,1116.1 860.5,1116.8 861.0,1116.2 861.5,1116.5 862.0,1116.9 862.5,1116.2 863.0,1116.4 863.5,1116.5 864.0,1116.5 864.5,1116.5 865.0,1116.2 865.5,1116.2 866.0,1116.2 866.5,1115.9 867.0,1115.5 867.5,1116.1 868.0,1116.0 868.5,1116.7 869.0,1115.8 869.5,1115.6 870.0,1115.7 870.5,1115.7 871.0,1116.1 871.5,1115.8 872.0,1116.1 872.5,1115.8 873.0,1115.9 873.5,1116.1 874.0,1116.1 874.5,1115.7 875.0,1116.3 875.5,1116.1 876.0,1116.8 876.5,1116.2 877.0,1116.4 877.5,1116.0 878.0,1116.5 878.5,1116.2 879.0,1116.3 879.5,1116.5 880.0,1115.8 880.5,1115.6 881.0,1116.0 881.5,1116.1 882.0,1116.1 882.5,1116.2 883.0,1115.5 883.5,1115.3 884.0,1114.8 884.5,1114.9 885.0,1114.7 885.5,1114.0 886.0,1113.8 886.5,1113.0 887.0,1112.6 887.5,1112.7 888.0,1112.2 888.5,1111.4 889.0,1110.6 889.5,1110.5 890.0,1109.6 890.5,1109.5 891.0,1108.7 891.5,1107.9 892.0,1107.5 892.5,1107.6 893.0,1106.4 893.5,1105.8 894.0,1104.6 894.5,1104.4 895.0,1103.0" fill="none" stroke="#800000" stroke-width="6.3" stroke-linejoin="round" stroke-linecap="butt" shape-rendering="crispEdges"/></g>
<rect x="151" y="39" width="744" height="1136" fill="none" stroke="#000" stroke-width="4"/>
<line x1="151.00" y1="1175" x2="151.00" y2="1191" stroke="#000" stroke-width="4"/>
<line x1="202.00" y1="1175" x2="202.00" y2="1183" stroke="#000" stroke-width="4"/>
<line x1="254.00" y1="1175" x2="254.00" y2="1191" stroke="#000" stroke-width="4"/>
<line x1="306.00" y1="1175" x2="306.00" y2="1183" stroke="#000" stroke-width="4"/>
<line x1="358.00" y1="1175" x2="358.00" y2="1191" stroke="#000" stroke-width="4"/>
<line x1="409.00" y1="1175" x2="409.00" y2="1183" stroke="#000" stroke-width="4"/>
<line x1="461.00" y1="1175" x2="461.00" y2="1191" stroke="#000" stroke-width="4"/>
<line x1="513.00" y1="1175" x2="513.00" y2="1183" stroke="#000" stroke-width="4"/>
<line x1="564.00" y1="1175" x2="564.00" y2="1191" stroke="#000" stroke-width="4"/>
<line x1="616.00" y1="1175" x2="616.00" y2="1183" stroke="#000" stroke-width="4"/>
<line x1="668.00" y1="1175" x2="668.00" y2="1191" stroke="#000" stroke-width="4"/>
<line x1="720.00" y1="1175" x2="720.00" y2="1183" stroke="#000" stroke-width="4"/>
<line x1="771.00" y1="1175" x2="771.00" y2="1191" stroke="#000" stroke-width="4"/>
<line x1="823.00" y1="1175" x2="823.00" y2="1183" stroke="#000" stroke-width="4"/>
<line x1="875.00" y1="1175" x2="875.00" y2="1191" stroke="#000" stroke-width="4"/>
<text transform="translate(151.00,1236) scale(1,1.06)" x="0" y="0" font-size="43" text-anchor="middle" stroke="#000" stroke-width="0.5" font-family="Liberation Sans, sans-serif">5</text>
<text transform="translate(254.00,1236) scale(1,1.06)" x="0" y="0" font-size="43" text-anchor="middle" stroke="#000" stroke-width="0.5" font-family="Liberation Sans, sans-serif"><tspan font-family="NanumGothic, sans-serif">1</tspan>0</text>
<text transform="translate(358.00,1236) scale(1,1.06)" x="0" y="0" font-size="43" text-anchor="middle" stroke="#000" stroke-width="0.5" font-family="Liberation Sans, sans-serif"><tspan font-family="NanumGothic, sans-serif">1</tspan>5</text>
<text transform="translate(461.00,1236) scale(1,1.06)" x="0" y="0" font-size="43" text-anchor="middle" stroke="#000" stroke-width="0.5" font-family="Liberation Sans, sans-serif">20</text>
<text transform="translate(564.00,1236) scale(1,1.06)" x="0" y="0" font-size="43" text-anchor="middle" stroke="#000" stroke-width="0.5" font-family="Liberation Sans, sans-serif">25</text>
<text transform="translate(668.00,1236) scale(1,1.06)" x="0" y="0" font-size="43" text-anchor="middle" stroke="#000" stroke-width="0.5" font-family="Liberation Sans, sans-serif">30</text>
<text transform="translate(771.00,1236) scale(1,1.06)" x="0" y="0" font-size="43" text-anchor="middle" stroke="#000" stroke-width="0.5" font-family="Liberation Sans, sans-serif">35</text>
<text transform="translate(875.00,1236) scale(1,1.06)" x="0" y="0" font-size="43" text-anchor="middle" stroke="#000" stroke-width="0.5" font-family="Liberation Sans, sans-serif">40</text>
<text transform="translate(83.8,769.7) rotate(-90) scale(1,1.08)" font-size="54.5" font-weight="bold" stroke="#000" stroke-width="0.8" font-family="Liberation Sans, sans-serif"><tspan font-style="italic">Intensity</tspan> / a.u.</text>
<text transform="translate(467,1318) scale(0.9,1)" x="0" y="0" font-size="54" font-weight="bold" font-style="italic" stroke="#000" stroke-width="0.6" font-family="Liberation Sans, sans-serif">2</text>
<text y="1318" font-size="54" font-weight="bold" font-family="Liberation Sans, sans-serif"><tspan x="495" font-style="italic" font-weight="normal" font-size="51">θ</tspan><tspan x="534">/</tspan><tspan x="562" y="1321" font-size="57" stroke="#000" stroke-width="1.8">°</tspan></text>
<text transform="translate(697.9,139) scale(1,1.075)" x="0" y="0" font-size="34.3" font-weight="bold" fill="#000000" stroke="#000000" stroke-width="0.35" font-family="Liberation Sans, sans-serif">NH<tspan font-size="22" dy="10.2">2</tspan><tspan dy="-10.2">-H</tspan><tspan font-size="22" dy="10.2">2</tspan><tspan dy="-10.2">BDC</tspan></text>
<text transform="translate(620.9,237) scale(1,1.075)" x="0" y="0" font-size="34.3" font-weight="bold" fill="#800080" stroke="#800080" stroke-width="0.35" font-family="Liberation Sans, sans-serif">Lip@NH<tspan font-size="22" dy="10.2">4</tspan><tspan dy="-10.2">OH-24h</tspan></text>
<text transform="translate(636.9,370) scale(1,1.075)" x="0" y="0" font-size="34.3" font-weight="bold" fill="#FF0080" stroke="#FF0080" stroke-width="0.35" font-family="Liberation Sans, sans-serif">Lip@NH<tspan font-size="22" dy="10.2">4</tspan><tspan dy="-10.2">OH-3h</tspan></text>
<text transform="translate(657.9,476) scale(1,1.075)" x="0" y="0" font-size="34.3" font-weight="bold" fill="#008080" stroke="#008080" stroke-width="0.35" font-family="Liberation Sans, sans-serif">Lip@TEA-24h</text>
<text transform="translate(671.9,588) scale(1,1.075)" x="0" y="0" font-size="34.3" font-weight="bold" fill="#008000" stroke="#008000" stroke-width="0.35" font-family="Liberation Sans, sans-serif">Lip@TEA-3h</text>
<text transform="translate(641.9,719) scale(1,1.075)" x="0" y="0" font-size="34.3" font-weight="bold" fill="#0000A0" stroke="#0000A0" stroke-width="0.35" font-family="Liberation Sans, sans-serif">Lip@NaOH-24h</text>
<text transform="translate(653.9,830) scale(1,1.075)" x="0" y="0" font-size="34.3" font-weight="bold" fill="#0000FF" stroke="#0000FF" stroke-width="0.35" font-family="Liberation Sans, sans-serif">Lip@NaOH-3h</text>
<text transform="translate(653.9,932) scale(1,1.075)" x="0" y="0" font-size="34.3" font-weight="bold" fill="#8000FF" stroke="#8000FF" stroke-width="0.35" font-family="Liberation Sans, sans-serif">Lip@NaOH-1h</text>
<text transform="translate(643.9,1073) scale(1,1.075)" x="0" y="0" font-size="34.3" font-weight="bold" fill="#800000" stroke="#800000" stroke-width="0.35" font-family="Liberation Sans, sans-serif">NH<tspan font-size="22" dy="10.2">2</tspan><tspan dy="-10.2">-MIL-53(Al)</tspan></text>
</svg>
</body></html>
